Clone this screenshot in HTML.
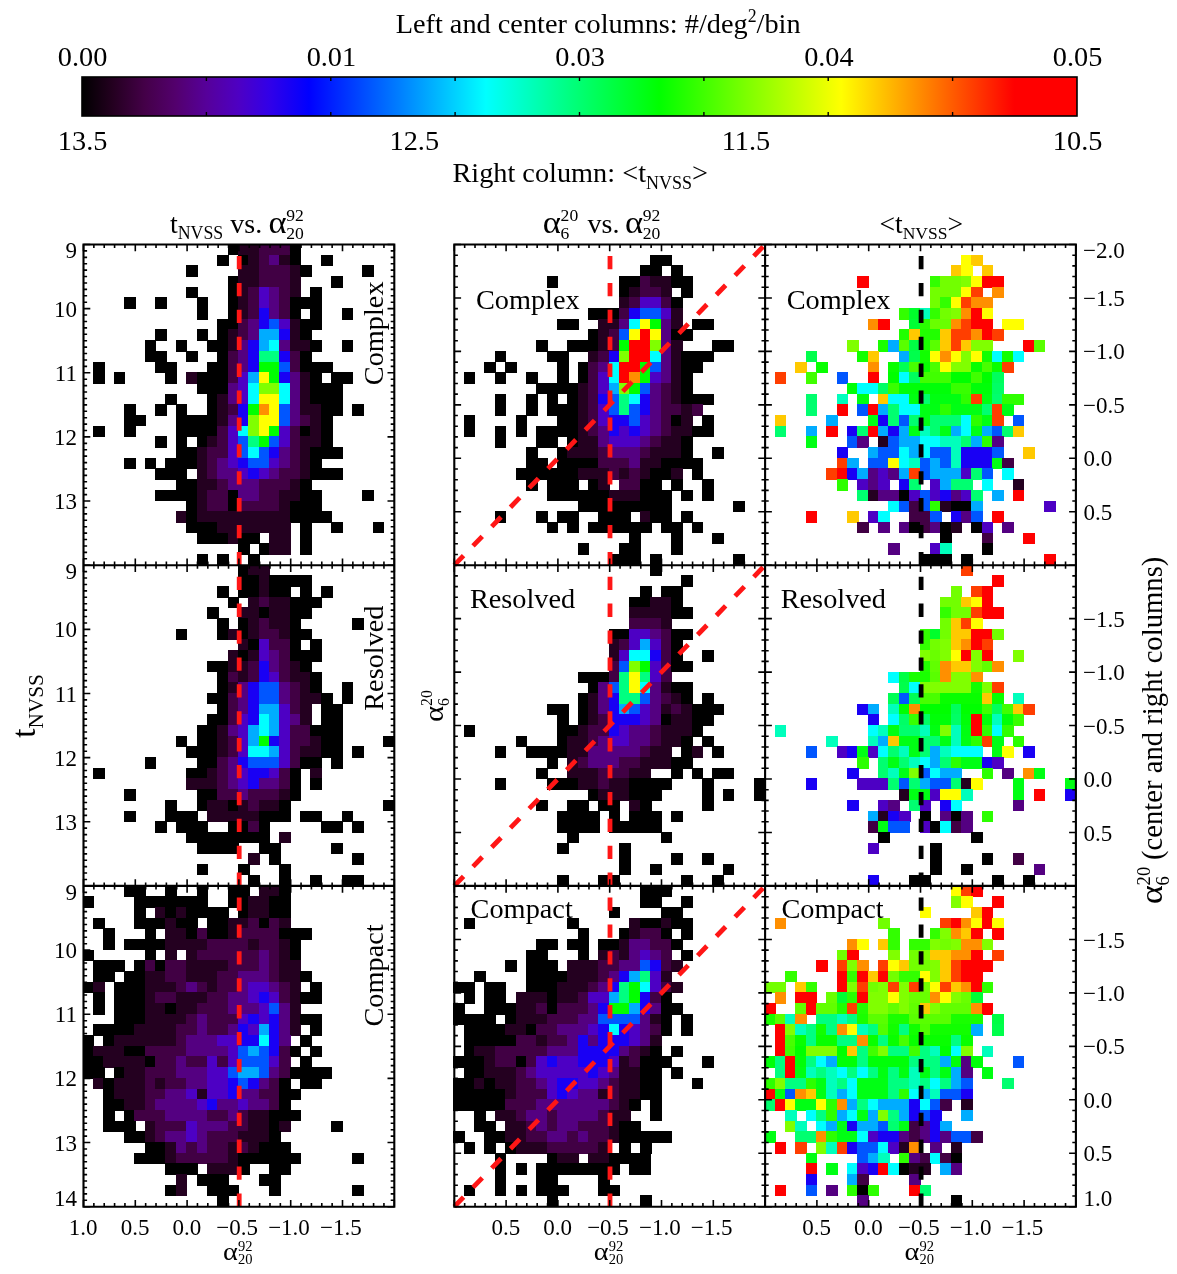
<!DOCTYPE html><html><head><meta charset="utf-8"><title>fig</title><style>html,body{margin:0;padding:0;background:#fff}svg{display:block}</style></head><body><svg width="1177" height="1274" viewBox="0 0 1177 1274" font-family="'Liberation Serif', serif" fill="#000">
<rect width="100%" height="100%" fill="#fff"/>
<defs><linearGradient id="cb" x1="0" x2="1" y1="0" y2="0">
<stop offset="0.0" stop-color="#000000"/>
<stop offset="0.031" stop-color="#240020"/>
<stop offset="0.063" stop-color="#440048"/>
<stop offset="0.094" stop-color="#53006d"/>
<stop offset="0.125" stop-color="#56009a"/>
<stop offset="0.157" stop-color="#4e00c3"/>
<stop offset="0.188" stop-color="#3200e8"/>
<stop offset="0.228" stop-color="#0000ff"/>
<stop offset="0.32" stop-color="#0080ff"/>
<stop offset="0.406" stop-color="#00ffff"/>
<stop offset="0.49" stop-color="#00ff80"/>
<stop offset="0.58" stop-color="#00ff00"/>
<stop offset="0.67" stop-color="#80ff00"/>
<stop offset="0.763" stop-color="#ffff00"/>
<stop offset="0.85" stop-color="#ff8000"/>
<stop offset="0.937" stop-color="#ff0000"/>
<stop offset="1.0" stop-color="#ff0000"/>
</linearGradient></defs>
<rect x="82" y="77" width="995" height="39" fill="url(#cb)" stroke="#000" stroke-width="1.6"/>
<path d="M206.4 77v4M206.4 116v-4" stroke="#000" stroke-width="1.4"/>
<path d="M330.8 77v4M330.8 116v-4" stroke="#000" stroke-width="1.4"/>
<path d="M455.1 77v4M455.1 116v-4" stroke="#000" stroke-width="1.4"/>
<path d="M579.5 77v4M579.5 116v-4" stroke="#000" stroke-width="1.4"/>
<path d="M703.9 77v4M703.9 116v-4" stroke="#000" stroke-width="1.4"/>
<path d="M828.2 77v4M828.2 116v-4" stroke="#000" stroke-width="1.4"/>
<path d="M952.6 77v4M952.6 116v-4" stroke="#000" stroke-width="1.4"/>
<g shape-rendering="crispEdges"><rect x="227.5" y="243.9" width="11.7" height="11.5" fill="#000000"/><rect x="237.9" y="243.9" width="22.0" height="11.5" fill="#240020"/><rect x="258.6" y="243.9" width="32.4" height="11.5" fill="#410044"/><rect x="289.7" y="243.9" width="11.7" height="11.5" fill="#000000"/><rect x="217.2" y="254.6" width="11.7" height="11.5" fill="#000000"/><rect x="237.9" y="254.6" width="11.7" height="11.5" fill="#000000"/><rect x="248.3" y="254.6" width="11.7" height="11.5" fill="#240020"/><rect x="258.6" y="254.6" width="11.7" height="11.5" fill="#410044"/><rect x="269.0" y="254.6" width="11.7" height="11.5" fill="#540081"/><rect x="279.3" y="254.6" width="11.7" height="11.5" fill="#240020"/><rect x="289.7" y="254.6" width="11.7" height="11.5" fill="#000000"/><rect x="320.8" y="254.6" width="11.7" height="11.5" fill="#000000"/><rect x="186.1" y="265.3" width="11.7" height="11.5" fill="#000000"/><rect x="237.9" y="265.3" width="22.0" height="11.5" fill="#240020"/><rect x="258.6" y="265.3" width="32.4" height="11.5" fill="#410044"/><rect x="289.7" y="265.3" width="11.7" height="11.5" fill="#240020"/><rect x="300.1" y="265.3" width="11.7" height="11.5" fill="#000000"/><rect x="362.2" y="265.3" width="11.7" height="11.5" fill="#000000"/><rect x="227.5" y="276.0" width="11.7" height="11.5" fill="#000000"/><rect x="237.9" y="276.0" width="22.0" height="11.5" fill="#240020"/><rect x="258.6" y="276.0" width="32.4" height="11.5" fill="#410044"/><rect x="289.7" y="276.0" width="11.7" height="11.5" fill="#240020"/><rect x="331.1" y="276.0" width="11.7" height="11.5" fill="#000000"/><rect x="186.1" y="286.7" width="11.7" height="11.5" fill="#000000"/><rect x="227.5" y="286.7" width="11.7" height="11.5" fill="#000000"/><rect x="237.9" y="286.7" width="11.7" height="11.5" fill="#240020"/><rect x="248.3" y="286.7" width="11.7" height="11.5" fill="#410044"/><rect x="258.6" y="286.7" width="11.7" height="11.5" fill="#4d00c4"/><rect x="269.0" y="286.7" width="11.7" height="11.5" fill="#540081"/><rect x="279.3" y="286.7" width="11.7" height="11.5" fill="#410044"/><rect x="289.7" y="286.7" width="11.7" height="11.5" fill="#240020"/><rect x="310.4" y="286.7" width="11.7" height="11.5" fill="#000000"/><rect x="123.9" y="297.3" width="11.7" height="11.5" fill="#000000"/><rect x="155.0" y="297.3" width="11.7" height="11.5" fill="#000000"/><rect x="196.5" y="297.3" width="11.7" height="11.5" fill="#000000"/><rect x="227.5" y="297.3" width="11.7" height="11.5" fill="#000000"/><rect x="237.9" y="297.3" width="11.7" height="11.5" fill="#240020"/><rect x="248.3" y="297.3" width="11.7" height="11.5" fill="#410044"/><rect x="258.6" y="297.3" width="11.7" height="11.5" fill="#4d00c4"/><rect x="269.0" y="297.3" width="11.7" height="11.5" fill="#540081"/><rect x="279.3" y="297.3" width="11.7" height="11.5" fill="#410044"/><rect x="289.7" y="297.3" width="32.4" height="11.5" fill="#000000"/><rect x="196.5" y="308.0" width="11.7" height="11.5" fill="#000000"/><rect x="227.5" y="308.0" width="11.7" height="11.5" fill="#000000"/><rect x="237.9" y="308.0" width="11.7" height="11.5" fill="#240020"/><rect x="248.3" y="308.0" width="11.7" height="11.5" fill="#410044"/><rect x="258.6" y="308.0" width="11.7" height="11.5" fill="#1900f4"/><rect x="269.0" y="308.0" width="11.7" height="11.5" fill="#540081"/><rect x="279.3" y="308.0" width="11.7" height="11.5" fill="#410044"/><rect x="289.7" y="308.0" width="11.7" height="11.5" fill="#000000"/><rect x="310.4" y="308.0" width="11.7" height="11.5" fill="#000000"/><rect x="341.5" y="308.0" width="11.7" height="11.5" fill="#000000"/><rect x="217.2" y="318.7" width="22.0" height="11.5" fill="#000000"/><rect x="237.9" y="318.7" width="11.7" height="11.5" fill="#410044"/><rect x="248.3" y="318.7" width="11.7" height="11.5" fill="#540081"/><rect x="258.6" y="318.7" width="11.7" height="11.5" fill="#1900f4"/><rect x="269.0" y="318.7" width="11.7" height="11.5" fill="#0056ff"/><rect x="279.3" y="318.7" width="11.7" height="11.5" fill="#4d00c4"/><rect x="289.7" y="318.7" width="11.7" height="11.5" fill="#240020"/><rect x="300.1" y="318.7" width="22.0" height="11.5" fill="#000000"/><rect x="155.0" y="329.4" width="11.7" height="11.5" fill="#000000"/><rect x="196.5" y="329.4" width="11.7" height="11.5" fill="#000000"/><rect x="217.2" y="329.4" width="11.7" height="11.5" fill="#000000"/><rect x="227.5" y="329.4" width="11.7" height="11.5" fill="#240020"/><rect x="237.9" y="329.4" width="11.7" height="11.5" fill="#410044"/><rect x="248.3" y="329.4" width="11.7" height="11.5" fill="#540081"/><rect x="258.6" y="329.4" width="22.0" height="11.5" fill="#00acff"/><rect x="279.3" y="329.4" width="11.7" height="11.5" fill="#1900f4"/><rect x="289.7" y="329.4" width="11.7" height="11.5" fill="#240020"/><rect x="300.1" y="329.4" width="11.7" height="11.5" fill="#000000"/><rect x="144.7" y="340.1" width="11.7" height="11.5" fill="#000000"/><rect x="175.7" y="340.1" width="11.7" height="11.5" fill="#000000"/><rect x="206.8" y="340.1" width="22.0" height="11.5" fill="#000000"/><rect x="227.5" y="340.1" width="11.7" height="11.5" fill="#240020"/><rect x="237.9" y="340.1" width="11.7" height="11.5" fill="#540081"/><rect x="248.3" y="340.1" width="11.7" height="11.5" fill="#1900f4"/><rect x="258.6" y="340.1" width="11.7" height="11.5" fill="#00acff"/><rect x="269.0" y="340.1" width="11.7" height="11.5" fill="#00ffff"/><rect x="279.3" y="340.1" width="11.7" height="11.5" fill="#540081"/><rect x="289.7" y="340.1" width="22.0" height="11.5" fill="#240020"/><rect x="310.4" y="340.1" width="11.7" height="11.5" fill="#000000"/><rect x="341.5" y="340.1" width="11.7" height="11.5" fill="#000000"/><rect x="144.7" y="350.8" width="22.0" height="11.5" fill="#000000"/><rect x="186.1" y="350.8" width="11.7" height="11.5" fill="#000000"/><rect x="217.2" y="350.8" width="11.7" height="11.5" fill="#000000"/><rect x="227.5" y="350.8" width="11.7" height="11.5" fill="#410044"/><rect x="237.9" y="350.8" width="11.7" height="11.5" fill="#540081"/><rect x="248.3" y="350.8" width="11.7" height="11.5" fill="#1900f4"/><rect x="258.6" y="350.8" width="22.0" height="11.5" fill="#00ff80"/><rect x="279.3" y="350.8" width="11.7" height="11.5" fill="#1900f4"/><rect x="289.7" y="350.8" width="11.7" height="11.5" fill="#410044"/><rect x="300.1" y="350.8" width="11.7" height="11.5" fill="#000000"/><rect x="92.9" y="361.5" width="11.7" height="11.5" fill="#000000"/><rect x="155.0" y="361.5" width="22.0" height="11.5" fill="#000000"/><rect x="206.8" y="361.5" width="22.0" height="11.5" fill="#000000"/><rect x="227.5" y="361.5" width="11.7" height="11.5" fill="#410044"/><rect x="237.9" y="361.5" width="11.7" height="11.5" fill="#540081"/><rect x="248.3" y="361.5" width="11.7" height="11.5" fill="#1900f4"/><rect x="258.6" y="361.5" width="22.0" height="11.5" fill="#00ff00"/><rect x="279.3" y="361.5" width="11.7" height="11.5" fill="#0056ff"/><rect x="289.7" y="361.5" width="11.7" height="11.5" fill="#410044"/><rect x="300.1" y="361.5" width="32.4" height="11.5" fill="#000000"/><rect x="92.9" y="372.2" width="11.7" height="11.5" fill="#000000"/><rect x="113.6" y="372.2" width="11.7" height="11.5" fill="#000000"/><rect x="165.4" y="372.2" width="11.7" height="11.5" fill="#000000"/><rect x="186.1" y="372.2" width="11.7" height="11.5" fill="#240020"/><rect x="196.5" y="372.2" width="32.4" height="11.5" fill="#000000"/><rect x="227.5" y="372.2" width="11.7" height="11.5" fill="#410044"/><rect x="237.9" y="372.2" width="11.7" height="11.5" fill="#4d00c4"/><rect x="248.3" y="372.2" width="11.7" height="11.5" fill="#00acff"/><rect x="258.6" y="372.2" width="11.7" height="11.5" fill="#ffff00"/><rect x="269.0" y="372.2" width="11.7" height="11.5" fill="#00ff00"/><rect x="279.3" y="372.2" width="11.7" height="11.5" fill="#1900f4"/><rect x="289.7" y="372.2" width="11.7" height="11.5" fill="#540081"/><rect x="300.1" y="372.2" width="11.7" height="11.5" fill="#240020"/><rect x="310.4" y="372.2" width="11.7" height="11.5" fill="#000000"/><rect x="331.1" y="372.2" width="22.0" height="11.5" fill="#000000"/><rect x="196.5" y="382.9" width="32.4" height="11.5" fill="#000000"/><rect x="227.5" y="382.9" width="11.7" height="11.5" fill="#540081"/><rect x="237.9" y="382.9" width="11.7" height="11.5" fill="#4d00c4"/><rect x="248.3" y="382.9" width="11.7" height="11.5" fill="#00ffff"/><rect x="258.6" y="382.9" width="22.0" height="11.5" fill="#80ff00"/><rect x="279.3" y="382.9" width="11.7" height="11.5" fill="#00ffff"/><rect x="289.7" y="382.9" width="11.7" height="11.5" fill="#540081"/><rect x="300.1" y="382.9" width="11.7" height="11.5" fill="#240020"/><rect x="310.4" y="382.9" width="32.4" height="11.5" fill="#000000"/><rect x="165.4" y="393.6" width="11.7" height="11.5" fill="#000000"/><rect x="206.8" y="393.6" width="11.7" height="11.5" fill="#000000"/><rect x="217.2" y="393.6" width="11.7" height="11.5" fill="#240020"/><rect x="227.5" y="393.6" width="11.7" height="11.5" fill="#540081"/><rect x="237.9" y="393.6" width="11.7" height="11.5" fill="#4d00c4"/><rect x="248.3" y="393.6" width="11.7" height="11.5" fill="#00ffff"/><rect x="258.6" y="393.6" width="22.0" height="11.5" fill="#ffff00"/><rect x="279.3" y="393.6" width="11.7" height="11.5" fill="#00ffff"/><rect x="289.7" y="393.6" width="11.7" height="11.5" fill="#540081"/><rect x="300.1" y="393.6" width="11.7" height="11.5" fill="#240020"/><rect x="310.4" y="393.6" width="32.4" height="11.5" fill="#000000"/><rect x="123.9" y="404.2" width="11.7" height="11.5" fill="#000000"/><rect x="155.0" y="404.2" width="11.7" height="11.5" fill="#000000"/><rect x="175.7" y="404.2" width="11.7" height="11.5" fill="#000000"/><rect x="206.8" y="404.2" width="11.7" height="11.5" fill="#000000"/><rect x="217.2" y="404.2" width="11.7" height="11.5" fill="#240020"/><rect x="227.5" y="404.2" width="11.7" height="11.5" fill="#410044"/><rect x="237.9" y="404.2" width="11.7" height="11.5" fill="#1900f4"/><rect x="248.3" y="404.2" width="11.7" height="11.5" fill="#00ff00"/><rect x="258.6" y="404.2" width="11.7" height="11.5" fill="#ff8f00"/><rect x="269.0" y="404.2" width="11.7" height="11.5" fill="#ffff00"/><rect x="279.3" y="404.2" width="11.7" height="11.5" fill="#0056ff"/><rect x="289.7" y="404.2" width="11.7" height="11.5" fill="#540081"/><rect x="300.1" y="404.2" width="22.0" height="11.5" fill="#240020"/><rect x="320.8" y="404.2" width="22.0" height="11.5" fill="#000000"/><rect x="351.9" y="404.2" width="11.7" height="11.5" fill="#000000"/><rect x="123.9" y="414.9" width="22.0" height="11.5" fill="#000000"/><rect x="175.7" y="414.9" width="42.7" height="11.5" fill="#000000"/><rect x="217.2" y="414.9" width="11.7" height="11.5" fill="#240020"/><rect x="227.5" y="414.9" width="11.7" height="11.5" fill="#540081"/><rect x="237.9" y="414.9" width="11.7" height="11.5" fill="#1900f4"/><rect x="248.3" y="414.9" width="11.7" height="11.5" fill="#80ff00"/><rect x="258.6" y="414.9" width="22.0" height="11.5" fill="#ffff00"/><rect x="279.3" y="414.9" width="11.7" height="11.5" fill="#0056ff"/><rect x="289.7" y="414.9" width="11.7" height="11.5" fill="#540081"/><rect x="300.1" y="414.9" width="11.7" height="11.5" fill="#410044"/><rect x="310.4" y="414.9" width="11.7" height="11.5" fill="#240020"/><rect x="320.8" y="414.9" width="11.7" height="11.5" fill="#000000"/><rect x="92.9" y="425.6" width="11.7" height="11.5" fill="#000000"/><rect x="123.9" y="425.6" width="11.7" height="11.5" fill="#000000"/><rect x="175.7" y="425.6" width="42.7" height="11.5" fill="#000000"/><rect x="217.2" y="425.6" width="11.7" height="11.5" fill="#410044"/><rect x="227.5" y="425.6" width="11.7" height="11.5" fill="#4d00c4"/><rect x="237.9" y="425.6" width="11.7" height="11.5" fill="#00ffff"/><rect x="248.3" y="425.6" width="11.7" height="11.5" fill="#80ff00"/><rect x="258.6" y="425.6" width="11.7" height="11.5" fill="#ffff00"/><rect x="269.0" y="425.6" width="11.7" height="11.5" fill="#00ff00"/><rect x="279.3" y="425.6" width="11.7" height="11.5" fill="#4d00c4"/><rect x="289.7" y="425.6" width="11.7" height="11.5" fill="#410044"/><rect x="300.1" y="425.6" width="11.7" height="11.5" fill="#000000"/><rect x="310.4" y="425.6" width="11.7" height="11.5" fill="#240020"/><rect x="320.8" y="425.6" width="11.7" height="11.5" fill="#000000"/><rect x="155.0" y="436.3" width="11.7" height="11.5" fill="#000000"/><rect x="175.7" y="436.3" width="11.7" height="11.5" fill="#000000"/><rect x="196.5" y="436.3" width="11.7" height="11.5" fill="#000000"/><rect x="206.8" y="436.3" width="11.7" height="11.5" fill="#240020"/><rect x="217.2" y="436.3" width="11.7" height="11.5" fill="#410044"/><rect x="227.5" y="436.3" width="11.7" height="11.5" fill="#4d00c4"/><rect x="237.9" y="436.3" width="11.7" height="11.5" fill="#0056ff"/><rect x="248.3" y="436.3" width="11.7" height="11.5" fill="#00ff80"/><rect x="258.6" y="436.3" width="11.7" height="11.5" fill="#00ff00"/><rect x="269.0" y="436.3" width="11.7" height="11.5" fill="#0056ff"/><rect x="279.3" y="436.3" width="11.7" height="11.5" fill="#4d00c4"/><rect x="289.7" y="436.3" width="11.7" height="11.5" fill="#410044"/><rect x="300.1" y="436.3" width="22.0" height="11.5" fill="#240020"/><rect x="320.8" y="436.3" width="11.7" height="11.5" fill="#000000"/><rect x="175.7" y="447.0" width="22.0" height="11.5" fill="#000000"/><rect x="196.5" y="447.0" width="11.7" height="11.5" fill="#240020"/><rect x="206.8" y="447.0" width="22.0" height="11.5" fill="#410044"/><rect x="227.5" y="447.0" width="11.7" height="11.5" fill="#4d00c4"/><rect x="237.9" y="447.0" width="11.7" height="11.5" fill="#0056ff"/><rect x="248.3" y="447.0" width="11.7" height="11.5" fill="#00ffff"/><rect x="258.6" y="447.0" width="11.7" height="11.5" fill="#0056ff"/><rect x="269.0" y="447.0" width="11.7" height="11.5" fill="#1900f4"/><rect x="279.3" y="447.0" width="11.7" height="11.5" fill="#540081"/><rect x="289.7" y="447.0" width="11.7" height="11.5" fill="#410044"/><rect x="300.1" y="447.0" width="11.7" height="11.5" fill="#240020"/><rect x="310.4" y="447.0" width="32.4" height="11.5" fill="#000000"/><rect x="123.9" y="457.7" width="11.7" height="11.5" fill="#000000"/><rect x="144.7" y="457.7" width="11.7" height="11.5" fill="#000000"/><rect x="165.4" y="457.7" width="32.4" height="11.5" fill="#000000"/><rect x="196.5" y="457.7" width="11.7" height="11.5" fill="#240020"/><rect x="206.8" y="457.7" width="11.7" height="11.5" fill="#410044"/><rect x="217.2" y="457.7" width="11.7" height="11.5" fill="#540081"/><rect x="227.5" y="457.7" width="11.7" height="11.5" fill="#4d00c4"/><rect x="237.9" y="457.7" width="11.7" height="11.5" fill="#1900f4"/><rect x="248.3" y="457.7" width="22.0" height="11.5" fill="#0056ff"/><rect x="269.0" y="457.7" width="11.7" height="11.5" fill="#4d00c4"/><rect x="279.3" y="457.7" width="11.7" height="11.5" fill="#540081"/><rect x="289.7" y="457.7" width="11.7" height="11.5" fill="#410044"/><rect x="300.1" y="457.7" width="11.7" height="11.5" fill="#240020"/><rect x="310.4" y="457.7" width="11.7" height="11.5" fill="#000000"/><rect x="155.0" y="468.4" width="32.4" height="11.5" fill="#000000"/><rect x="196.5" y="468.4" width="11.7" height="11.5" fill="#240020"/><rect x="206.8" y="468.4" width="11.7" height="11.5" fill="#410044"/><rect x="217.2" y="468.4" width="22.0" height="11.5" fill="#540081"/><rect x="237.9" y="468.4" width="11.7" height="11.5" fill="#4d00c4"/><rect x="248.3" y="468.4" width="11.7" height="11.5" fill="#1900f4"/><rect x="258.6" y="468.4" width="11.7" height="11.5" fill="#4d00c4"/><rect x="269.0" y="468.4" width="11.7" height="11.5" fill="#540081"/><rect x="279.3" y="468.4" width="22.0" height="11.5" fill="#410044"/><rect x="300.1" y="468.4" width="11.7" height="11.5" fill="#240020"/><rect x="310.4" y="468.4" width="32.4" height="11.5" fill="#000000"/><rect x="175.7" y="479.1" width="22.0" height="11.5" fill="#000000"/><rect x="196.5" y="479.1" width="22.0" height="11.5" fill="#240020"/><rect x="217.2" y="479.1" width="11.7" height="11.5" fill="#410044"/><rect x="227.5" y="479.1" width="32.4" height="11.5" fill="#540081"/><rect x="258.6" y="479.1" width="32.4" height="11.5" fill="#410044"/><rect x="289.7" y="479.1" width="11.7" height="11.5" fill="#240020"/><rect x="300.1" y="479.1" width="11.7" height="11.5" fill="#000000"/><rect x="155.0" y="489.8" width="42.7" height="11.5" fill="#000000"/><rect x="196.5" y="489.8" width="11.7" height="11.5" fill="#240020"/><rect x="206.8" y="489.8" width="22.0" height="11.5" fill="#410044"/><rect x="227.5" y="489.8" width="11.7" height="11.5" fill="#000000"/><rect x="237.9" y="489.8" width="22.0" height="11.5" fill="#540081"/><rect x="258.6" y="489.8" width="22.0" height="11.5" fill="#410044"/><rect x="279.3" y="489.8" width="22.0" height="11.5" fill="#240020"/><rect x="300.1" y="489.8" width="22.0" height="11.5" fill="#000000"/><rect x="362.2" y="489.8" width="11.7" height="11.5" fill="#000000"/><rect x="186.1" y="500.5" width="11.7" height="11.5" fill="#000000"/><rect x="196.5" y="500.5" width="11.7" height="11.5" fill="#240020"/><rect x="206.8" y="500.5" width="22.0" height="11.5" fill="#410044"/><rect x="227.5" y="500.5" width="11.7" height="11.5" fill="#000000"/><rect x="237.9" y="500.5" width="42.7" height="11.5" fill="#410044"/><rect x="279.3" y="500.5" width="11.7" height="11.5" fill="#240020"/><rect x="289.7" y="500.5" width="32.4" height="11.5" fill="#000000"/><rect x="175.7" y="511.1" width="11.7" height="11.5" fill="#240020"/><rect x="186.1" y="511.1" width="11.7" height="11.5" fill="#000000"/><rect x="196.5" y="511.1" width="94.5" height="11.5" fill="#240020"/><rect x="289.7" y="511.1" width="42.7" height="11.5" fill="#000000"/><rect x="186.1" y="521.8" width="32.4" height="11.5" fill="#000000"/><rect x="217.2" y="521.8" width="73.8" height="11.5" fill="#240020"/><rect x="300.1" y="521.8" width="11.7" height="11.5" fill="#000000"/><rect x="331.1" y="521.8" width="11.7" height="11.5" fill="#000000"/><rect x="372.6" y="521.8" width="11.7" height="11.5" fill="#000000"/><rect x="196.5" y="532.5" width="32.4" height="11.5" fill="#000000"/><rect x="227.5" y="532.5" width="11.7" height="11.5" fill="#240020"/><rect x="237.9" y="532.5" width="22.0" height="11.5" fill="#000000"/><rect x="269.0" y="532.5" width="22.0" height="11.5" fill="#240020"/><rect x="300.1" y="532.5" width="11.7" height="11.5" fill="#000000"/><rect x="237.9" y="543.2" width="11.7" height="11.5" fill="#000000"/><rect x="258.6" y="543.2" width="11.7" height="11.5" fill="#000000"/><rect x="269.0" y="543.2" width="22.0" height="11.5" fill="#240020"/><rect x="300.1" y="543.2" width="11.7" height="11.5" fill="#000000"/><rect x="196.5" y="553.9" width="11.7" height="11.5" fill="#000000"/><rect x="217.2" y="553.9" width="11.7" height="11.5" fill="#000000"/><rect x="248.3" y="553.9" width="11.7" height="11.5" fill="#000000"/></g>
<g shape-rendering="crispEdges"><rect x="650.1" y="254.6" width="22.0" height="11.5" fill="#000000"/><rect x="639.8" y="265.3" width="22.0" height="11.5" fill="#000000"/><rect x="670.9" y="265.3" width="11.7" height="11.5" fill="#000000"/><rect x="546.5" y="276.0" width="11.7" height="11.5" fill="#000000"/><rect x="619.1" y="276.0" width="22.0" height="11.5" fill="#000000"/><rect x="639.8" y="276.0" width="11.7" height="11.5" fill="#410044"/><rect x="650.1" y="276.0" width="22.0" height="11.5" fill="#240020"/><rect x="670.9" y="276.0" width="22.0" height="11.5" fill="#000000"/><rect x="619.1" y="286.7" width="11.7" height="11.5" fill="#000000"/><rect x="629.4" y="286.7" width="11.7" height="11.5" fill="#240020"/><rect x="639.8" y="286.7" width="22.0" height="11.5" fill="#410044"/><rect x="660.5" y="286.7" width="11.7" height="11.5" fill="#240020"/><rect x="681.2" y="286.7" width="11.7" height="11.5" fill="#000000"/><rect x="619.1" y="297.3" width="11.7" height="11.5" fill="#240020"/><rect x="629.4" y="297.3" width="11.7" height="11.5" fill="#410044"/><rect x="639.8" y="297.3" width="22.0" height="11.5" fill="#4d00c4"/><rect x="660.5" y="297.3" width="11.7" height="11.5" fill="#410044"/><rect x="670.9" y="297.3" width="11.7" height="11.5" fill="#000000"/><rect x="588.0" y="308.0" width="32.4" height="11.5" fill="#000000"/><rect x="619.1" y="308.0" width="11.7" height="11.5" fill="#410044"/><rect x="629.4" y="308.0" width="11.7" height="11.5" fill="#1900f4"/><rect x="639.8" y="308.0" width="22.0" height="11.5" fill="#0056ff"/><rect x="660.5" y="308.0" width="11.7" height="11.5" fill="#4d00c4"/><rect x="670.9" y="308.0" width="11.7" height="11.5" fill="#240020"/><rect x="556.9" y="318.7" width="22.0" height="11.5" fill="#000000"/><rect x="598.3" y="318.7" width="22.0" height="11.5" fill="#240020"/><rect x="619.1" y="318.7" width="11.7" height="11.5" fill="#540081"/><rect x="629.4" y="318.7" width="11.7" height="11.5" fill="#00ffff"/><rect x="639.8" y="318.7" width="11.7" height="11.5" fill="#ffff00"/><rect x="650.1" y="318.7" width="11.7" height="11.5" fill="#00ff00"/><rect x="660.5" y="318.7" width="11.7" height="11.5" fill="#540081"/><rect x="670.9" y="318.7" width="11.7" height="11.5" fill="#240020"/><rect x="691.6" y="318.7" width="22.0" height="11.5" fill="#000000"/><rect x="588.0" y="329.4" width="11.7" height="11.5" fill="#000000"/><rect x="598.3" y="329.4" width="11.7" height="11.5" fill="#240020"/><rect x="608.7" y="329.4" width="11.7" height="11.5" fill="#410044"/><rect x="619.1" y="329.4" width="11.7" height="11.5" fill="#0056ff"/><rect x="629.4" y="329.4" width="11.7" height="11.5" fill="#ffff00"/><rect x="639.8" y="329.4" width="11.7" height="11.5" fill="#ff0000"/><rect x="650.1" y="329.4" width="11.7" height="11.5" fill="#ffff00"/><rect x="660.5" y="329.4" width="11.7" height="11.5" fill="#540081"/><rect x="670.9" y="329.4" width="22.0" height="11.5" fill="#000000"/><rect x="536.2" y="340.1" width="11.7" height="11.5" fill="#000000"/><rect x="567.3" y="340.1" width="32.4" height="11.5" fill="#000000"/><rect x="598.3" y="340.1" width="11.7" height="11.5" fill="#240020"/><rect x="608.7" y="340.1" width="11.7" height="11.5" fill="#410044"/><rect x="619.1" y="340.1" width="11.7" height="11.5" fill="#00ff00"/><rect x="629.4" y="340.1" width="22.0" height="11.5" fill="#ff0000"/><rect x="650.1" y="340.1" width="11.7" height="11.5" fill="#80ff00"/><rect x="660.5" y="340.1" width="11.7" height="11.5" fill="#540081"/><rect x="670.9" y="340.1" width="11.7" height="11.5" fill="#240020"/><rect x="712.3" y="340.1" width="22.0" height="11.5" fill="#000000"/><rect x="494.7" y="350.8" width="11.7" height="11.5" fill="#000000"/><rect x="546.5" y="350.8" width="22.0" height="11.5" fill="#000000"/><rect x="588.0" y="350.8" width="11.7" height="11.5" fill="#240020"/><rect x="598.3" y="350.8" width="11.7" height="11.5" fill="#410044"/><rect x="608.7" y="350.8" width="11.7" height="11.5" fill="#1900f4"/><rect x="619.1" y="350.8" width="11.7" height="11.5" fill="#80ff00"/><rect x="629.4" y="350.8" width="22.0" height="11.5" fill="#ff0000"/><rect x="650.1" y="350.8" width="11.7" height="11.5" fill="#00ffff"/><rect x="660.5" y="350.8" width="11.7" height="11.5" fill="#540081"/><rect x="670.9" y="350.8" width="11.7" height="11.5" fill="#240020"/><rect x="681.2" y="350.8" width="32.4" height="11.5" fill="#000000"/><rect x="484.4" y="361.5" width="11.7" height="11.5" fill="#000000"/><rect x="505.1" y="361.5" width="11.7" height="11.5" fill="#000000"/><rect x="556.9" y="361.5" width="11.7" height="11.5" fill="#000000"/><rect x="577.6" y="361.5" width="11.7" height="11.5" fill="#000000"/><rect x="588.0" y="361.5" width="11.7" height="11.5" fill="#410044"/><rect x="598.3" y="361.5" width="11.7" height="11.5" fill="#540081"/><rect x="608.7" y="361.5" width="11.7" height="11.5" fill="#00ffff"/><rect x="619.1" y="361.5" width="22.0" height="11.5" fill="#ff0000"/><rect x="639.8" y="361.5" width="11.7" height="11.5" fill="#00ff00"/><rect x="650.1" y="361.5" width="11.7" height="11.5" fill="#0056ff"/><rect x="660.5" y="361.5" width="11.7" height="11.5" fill="#540081"/><rect x="670.9" y="361.5" width="11.7" height="11.5" fill="#240020"/><rect x="681.2" y="361.5" width="22.0" height="11.5" fill="#000000"/><rect x="463.7" y="372.2" width="11.7" height="11.5" fill="#000000"/><rect x="494.7" y="372.2" width="11.7" height="11.5" fill="#000000"/><rect x="525.8" y="372.2" width="11.7" height="11.5" fill="#000000"/><rect x="556.9" y="372.2" width="11.7" height="11.5" fill="#000000"/><rect x="577.6" y="372.2" width="11.7" height="11.5" fill="#000000"/><rect x="588.0" y="372.2" width="11.7" height="11.5" fill="#410044"/><rect x="598.3" y="372.2" width="11.7" height="11.5" fill="#4d00c4"/><rect x="608.7" y="372.2" width="11.7" height="11.5" fill="#00ffff"/><rect x="619.1" y="372.2" width="11.7" height="11.5" fill="#ff0000"/><rect x="629.4" y="372.2" width="11.7" height="11.5" fill="#ff8f00"/><rect x="639.8" y="372.2" width="11.7" height="11.5" fill="#00ff00"/><rect x="650.1" y="372.2" width="11.7" height="11.5" fill="#4d00c4"/><rect x="660.5" y="372.2" width="11.7" height="11.5" fill="#540081"/><rect x="670.9" y="372.2" width="11.7" height="11.5" fill="#240020"/><rect x="681.2" y="372.2" width="11.7" height="11.5" fill="#000000"/><rect x="536.2" y="382.9" width="42.7" height="11.5" fill="#000000"/><rect x="577.6" y="382.9" width="11.7" height="11.5" fill="#240020"/><rect x="588.0" y="382.9" width="11.7" height="11.5" fill="#410044"/><rect x="598.3" y="382.9" width="11.7" height="11.5" fill="#4d00c4"/><rect x="608.7" y="382.9" width="11.7" height="11.5" fill="#00acff"/><rect x="619.1" y="382.9" width="11.7" height="11.5" fill="#80ff00"/><rect x="629.4" y="382.9" width="11.7" height="11.5" fill="#00ff00"/><rect x="639.8" y="382.9" width="11.7" height="11.5" fill="#0056ff"/><rect x="650.1" y="382.9" width="11.7" height="11.5" fill="#540081"/><rect x="660.5" y="382.9" width="11.7" height="11.5" fill="#410044"/><rect x="670.9" y="382.9" width="11.7" height="11.5" fill="#240020"/><rect x="681.2" y="382.9" width="11.7" height="11.5" fill="#000000"/><rect x="494.7" y="393.6" width="11.7" height="11.5" fill="#000000"/><rect x="525.8" y="393.6" width="11.7" height="11.5" fill="#000000"/><rect x="546.5" y="393.6" width="11.7" height="11.5" fill="#000000"/><rect x="567.3" y="393.6" width="11.7" height="11.5" fill="#000000"/><rect x="577.6" y="393.6" width="11.7" height="11.5" fill="#240020"/><rect x="588.0" y="393.6" width="11.7" height="11.5" fill="#410044"/><rect x="598.3" y="393.6" width="11.7" height="11.5" fill="#1900f4"/><rect x="608.7" y="393.6" width="11.7" height="11.5" fill="#0056ff"/><rect x="619.1" y="393.6" width="11.7" height="11.5" fill="#00ff80"/><rect x="629.4" y="393.6" width="11.7" height="11.5" fill="#00ffff"/><rect x="639.8" y="393.6" width="11.7" height="11.5" fill="#1900f4"/><rect x="650.1" y="393.6" width="11.7" height="11.5" fill="#540081"/><rect x="660.5" y="393.6" width="11.7" height="11.5" fill="#410044"/><rect x="670.9" y="393.6" width="11.7" height="11.5" fill="#240020"/><rect x="681.2" y="393.6" width="32.4" height="11.5" fill="#000000"/><rect x="494.7" y="404.2" width="11.7" height="11.5" fill="#000000"/><rect x="525.8" y="404.2" width="11.7" height="11.5" fill="#000000"/><rect x="546.5" y="404.2" width="32.4" height="11.5" fill="#000000"/><rect x="577.6" y="404.2" width="11.7" height="11.5" fill="#240020"/><rect x="588.0" y="404.2" width="11.7" height="11.5" fill="#410044"/><rect x="598.3" y="404.2" width="11.7" height="11.5" fill="#4d00c4"/><rect x="608.7" y="404.2" width="11.7" height="11.5" fill="#0056ff"/><rect x="619.1" y="404.2" width="11.7" height="11.5" fill="#00ff80"/><rect x="629.4" y="404.2" width="11.7" height="11.5" fill="#0056ff"/><rect x="639.8" y="404.2" width="11.7" height="11.5" fill="#1900f4"/><rect x="650.1" y="404.2" width="11.7" height="11.5" fill="#540081"/><rect x="660.5" y="404.2" width="22.0" height="11.5" fill="#410044"/><rect x="681.2" y="404.2" width="11.7" height="11.5" fill="#240020"/><rect x="691.6" y="404.2" width="11.7" height="11.5" fill="#410044"/><rect x="463.7" y="414.9" width="11.7" height="11.5" fill="#000000"/><rect x="515.5" y="414.9" width="11.7" height="11.5" fill="#000000"/><rect x="556.9" y="414.9" width="22.0" height="11.5" fill="#000000"/><rect x="577.6" y="414.9" width="11.7" height="11.5" fill="#240020"/><rect x="588.0" y="414.9" width="11.7" height="11.5" fill="#410044"/><rect x="598.3" y="414.9" width="11.7" height="11.5" fill="#4d00c4"/><rect x="608.7" y="414.9" width="22.0" height="11.5" fill="#1900f4"/><rect x="629.4" y="414.9" width="11.7" height="11.5" fill="#0056ff"/><rect x="639.8" y="414.9" width="11.7" height="11.5" fill="#4d00c4"/><rect x="650.1" y="414.9" width="11.7" height="11.5" fill="#540081"/><rect x="660.5" y="414.9" width="11.7" height="11.5" fill="#410044"/><rect x="670.9" y="414.9" width="11.7" height="11.5" fill="#000000"/><rect x="681.2" y="414.9" width="11.7" height="11.5" fill="#240020"/><rect x="701.9" y="414.9" width="11.7" height="11.5" fill="#000000"/><rect x="463.7" y="425.6" width="11.7" height="11.5" fill="#000000"/><rect x="494.7" y="425.6" width="11.7" height="11.5" fill="#000000"/><rect x="515.5" y="425.6" width="11.7" height="11.5" fill="#000000"/><rect x="536.2" y="425.6" width="42.7" height="11.5" fill="#000000"/><rect x="577.6" y="425.6" width="11.7" height="11.5" fill="#240020"/><rect x="588.0" y="425.6" width="11.7" height="11.5" fill="#410044"/><rect x="598.3" y="425.6" width="11.7" height="11.5" fill="#540081"/><rect x="608.7" y="425.6" width="11.7" height="11.5" fill="#1900f4"/><rect x="619.1" y="425.6" width="11.7" height="11.5" fill="#4d00c4"/><rect x="629.4" y="425.6" width="11.7" height="11.5" fill="#1900f4"/><rect x="639.8" y="425.6" width="11.7" height="11.5" fill="#4d00c4"/><rect x="650.1" y="425.6" width="11.7" height="11.5" fill="#540081"/><rect x="660.5" y="425.6" width="11.7" height="11.5" fill="#410044"/><rect x="670.9" y="425.6" width="22.0" height="11.5" fill="#240020"/><rect x="691.6" y="425.6" width="22.0" height="11.5" fill="#000000"/><rect x="494.7" y="436.3" width="11.7" height="11.5" fill="#000000"/><rect x="536.2" y="436.3" width="22.0" height="11.5" fill="#000000"/><rect x="567.3" y="436.3" width="11.7" height="11.5" fill="#000000"/><rect x="577.6" y="436.3" width="22.0" height="11.5" fill="#240020"/><rect x="598.3" y="436.3" width="11.7" height="11.5" fill="#540081"/><rect x="608.7" y="436.3" width="32.4" height="11.5" fill="#4d00c4"/><rect x="639.8" y="436.3" width="11.7" height="11.5" fill="#540081"/><rect x="650.1" y="436.3" width="11.7" height="11.5" fill="#410044"/><rect x="660.5" y="436.3" width="22.0" height="11.5" fill="#240020"/><rect x="681.2" y="436.3" width="11.7" height="11.5" fill="#000000"/><rect x="525.8" y="447.0" width="11.7" height="11.5" fill="#000000"/><rect x="556.9" y="447.0" width="11.7" height="11.5" fill="#000000"/><rect x="567.3" y="447.0" width="32.4" height="11.5" fill="#240020"/><rect x="598.3" y="447.0" width="11.7" height="11.5" fill="#410044"/><rect x="608.7" y="447.0" width="32.4" height="11.5" fill="#540081"/><rect x="639.8" y="447.0" width="11.7" height="11.5" fill="#410044"/><rect x="650.1" y="447.0" width="32.4" height="11.5" fill="#240020"/><rect x="681.2" y="447.0" width="11.7" height="11.5" fill="#000000"/><rect x="712.3" y="447.0" width="11.7" height="11.5" fill="#000000"/><rect x="525.8" y="457.7" width="22.0" height="11.5" fill="#000000"/><rect x="556.9" y="457.7" width="42.7" height="11.5" fill="#000000"/><rect x="598.3" y="457.7" width="32.4" height="11.5" fill="#410044"/><rect x="629.4" y="457.7" width="11.7" height="11.5" fill="#540081"/><rect x="639.8" y="457.7" width="22.0" height="11.5" fill="#240020"/><rect x="660.5" y="457.7" width="42.7" height="11.5" fill="#000000"/><rect x="515.5" y="468.4" width="63.5" height="11.5" fill="#000000"/><rect x="577.6" y="468.4" width="32.4" height="11.5" fill="#240020"/><rect x="608.7" y="468.4" width="11.7" height="11.5" fill="#410044"/><rect x="619.1" y="468.4" width="11.7" height="11.5" fill="#240020"/><rect x="629.4" y="468.4" width="11.7" height="11.5" fill="#410044"/><rect x="639.8" y="468.4" width="11.7" height="11.5" fill="#240020"/><rect x="650.1" y="468.4" width="22.0" height="11.5" fill="#000000"/><rect x="670.9" y="468.4" width="11.7" height="11.5" fill="#240020"/><rect x="691.6" y="468.4" width="11.7" height="11.5" fill="#000000"/><rect x="525.8" y="479.1" width="11.7" height="11.5" fill="#000000"/><rect x="546.5" y="479.1" width="32.4" height="11.5" fill="#000000"/><rect x="588.0" y="479.1" width="11.7" height="11.5" fill="#000000"/><rect x="598.3" y="479.1" width="11.7" height="11.5" fill="#240020"/><rect x="619.1" y="479.1" width="22.0" height="11.5" fill="#410044"/><rect x="639.8" y="479.1" width="22.0" height="11.5" fill="#000000"/><rect x="670.9" y="479.1" width="11.7" height="11.5" fill="#000000"/><rect x="701.9" y="479.1" width="11.7" height="11.5" fill="#000000"/><rect x="546.5" y="489.8" width="63.5" height="11.5" fill="#000000"/><rect x="608.7" y="489.8" width="32.4" height="11.5" fill="#240020"/><rect x="639.8" y="489.8" width="32.4" height="11.5" fill="#000000"/><rect x="681.2" y="489.8" width="11.7" height="11.5" fill="#000000"/><rect x="701.9" y="489.8" width="11.7" height="11.5" fill="#000000"/><rect x="577.6" y="500.5" width="94.5" height="11.5" fill="#000000"/><rect x="733.0" y="500.5" width="11.7" height="11.5" fill="#000000"/><rect x="494.7" y="511.1" width="11.7" height="11.5" fill="#000000"/><rect x="536.2" y="511.1" width="11.7" height="11.5" fill="#000000"/><rect x="556.9" y="511.1" width="22.0" height="11.5" fill="#000000"/><rect x="598.3" y="511.1" width="32.4" height="11.5" fill="#000000"/><rect x="639.8" y="511.1" width="11.7" height="11.5" fill="#240020"/><rect x="650.1" y="511.1" width="22.0" height="11.5" fill="#000000"/><rect x="681.2" y="511.1" width="11.7" height="11.5" fill="#000000"/><rect x="546.5" y="521.8" width="11.7" height="11.5" fill="#000000"/><rect x="567.3" y="521.8" width="11.7" height="11.5" fill="#000000"/><rect x="588.0" y="521.8" width="63.5" height="11.5" fill="#000000"/><rect x="660.5" y="521.8" width="22.0" height="11.5" fill="#000000"/><rect x="691.6" y="521.8" width="11.7" height="11.5" fill="#000000"/><rect x="629.4" y="532.5" width="11.7" height="11.5" fill="#000000"/><rect x="670.9" y="532.5" width="11.7" height="11.5" fill="#000000"/><rect x="712.3" y="532.5" width="11.7" height="11.5" fill="#000000"/><rect x="577.6" y="543.2" width="11.7" height="11.5" fill="#000000"/><rect x="619.1" y="543.2" width="22.0" height="11.5" fill="#000000"/><rect x="670.9" y="543.2" width="11.7" height="11.5" fill="#000000"/><rect x="608.7" y="553.9" width="32.4" height="11.5" fill="#000000"/><rect x="650.1" y="553.9" width="11.7" height="11.5" fill="#000000"/><rect x="733.0" y="553.9" width="11.7" height="11.5" fill="#000000"/></g>
<g shape-rendering="crispEdges"><rect x="960.9" y="254.6" width="11.7" height="11.5" fill="#ffff00"/><rect x="971.3" y="254.6" width="11.7" height="11.5" fill="#ffc900"/><rect x="950.6" y="265.3" width="11.7" height="11.5" fill="#ffc900"/><rect x="960.9" y="265.3" width="11.7" height="11.5" fill="#ffff00"/><rect x="981.7" y="265.3" width="11.7" height="11.5" fill="#ffc900"/><rect x="857.3" y="276.0" width="11.7" height="11.5" fill="#ff0000"/><rect x="929.9" y="276.0" width="11.7" height="11.5" fill="#32ff00"/><rect x="940.2" y="276.0" width="22.0" height="11.5" fill="#72ff00"/><rect x="960.9" y="276.0" width="11.7" height="11.5" fill="#80ff00"/><rect x="971.3" y="276.0" width="11.7" height="11.5" fill="#ffff00"/><rect x="981.7" y="276.0" width="22.0" height="11.5" fill="#ff0000"/><rect x="929.9" y="286.7" width="32.4" height="11.5" fill="#72ff00"/><rect x="960.9" y="286.7" width="11.7" height="11.5" fill="#ffff00"/><rect x="971.3" y="286.7" width="11.7" height="11.5" fill="#ff3e00"/><rect x="992.0" y="286.7" width="11.7" height="11.5" fill="#ff8f00"/><rect x="929.9" y="297.3" width="11.7" height="11.5" fill="#72ff00"/><rect x="940.2" y="297.3" width="11.7" height="11.5" fill="#32ff00"/><rect x="950.6" y="297.3" width="11.7" height="11.5" fill="#ffff00"/><rect x="960.9" y="297.3" width="11.7" height="11.5" fill="#ff3e00"/><rect x="971.3" y="297.3" width="22.0" height="11.5" fill="#ff8f00"/><rect x="898.8" y="308.0" width="11.7" height="11.5" fill="#32ff00"/><rect x="909.1" y="308.0" width="11.7" height="11.5" fill="#00ff2b"/><rect x="919.5" y="308.0" width="11.7" height="11.5" fill="#00ffbc"/><rect x="929.9" y="308.0" width="11.7" height="11.5" fill="#32ff00"/><rect x="940.2" y="308.0" width="11.7" height="11.5" fill="#72ff00"/><rect x="950.6" y="308.0" width="11.7" height="11.5" fill="#80ff00"/><rect x="960.9" y="308.0" width="11.7" height="11.5" fill="#ff8f00"/><rect x="971.3" y="308.0" width="11.7" height="11.5" fill="#ff0000"/><rect x="981.7" y="308.0" width="11.7" height="11.5" fill="#ffff00"/><rect x="867.7" y="318.7" width="11.7" height="11.5" fill="#ff8f00"/><rect x="878.1" y="318.7" width="11.7" height="11.5" fill="#ff0000"/><rect x="909.1" y="318.7" width="11.7" height="11.5" fill="#00ff33"/><rect x="919.5" y="318.7" width="11.7" height="11.5" fill="#29ff00"/><rect x="929.9" y="318.7" width="22.0" height="11.5" fill="#69ff00"/><rect x="950.6" y="318.7" width="11.7" height="11.5" fill="#ff8f00"/><rect x="960.9" y="318.7" width="11.7" height="11.5" fill="#ff3e00"/><rect x="971.3" y="318.7" width="22.0" height="11.5" fill="#ff0000"/><rect x="1002.4" y="318.7" width="22.0" height="11.5" fill="#ffff00"/><rect x="898.8" y="329.4" width="11.7" height="11.5" fill="#21ff00"/><rect x="909.1" y="329.4" width="11.7" height="11.5" fill="#ffc900"/><rect x="919.5" y="329.4" width="22.0" height="11.5" fill="#21ff00"/><rect x="940.2" y="329.4" width="11.7" height="11.5" fill="#ffc900"/><rect x="950.6" y="329.4" width="22.0" height="11.5" fill="#ff3e00"/><rect x="971.3" y="329.4" width="11.7" height="11.5" fill="#ff8f00"/><rect x="981.7" y="329.4" width="11.7" height="11.5" fill="#ff0000"/><rect x="992.0" y="329.4" width="11.7" height="11.5" fill="#ff3e00"/><rect x="847.0" y="340.1" width="11.7" height="11.5" fill="#80ff00"/><rect x="878.1" y="340.1" width="11.7" height="11.5" fill="#19ff00"/><rect x="888.4" y="340.1" width="11.7" height="11.5" fill="#00acff"/><rect x="898.8" y="340.1" width="11.7" height="11.5" fill="#59ff00"/><rect x="909.1" y="340.1" width="11.7" height="11.5" fill="#00ff44"/><rect x="919.5" y="340.1" width="11.7" height="11.5" fill="#19ff00"/><rect x="929.9" y="340.1" width="11.7" height="11.5" fill="#59ff00"/><rect x="940.2" y="340.1" width="11.7" height="11.5" fill="#ffc900"/><rect x="950.6" y="340.1" width="11.7" height="11.5" fill="#ff3e00"/><rect x="960.9" y="340.1" width="11.7" height="11.5" fill="#ffc900"/><rect x="971.3" y="340.1" width="22.0" height="11.5" fill="#80ff00"/><rect x="1023.1" y="340.1" width="11.7" height="11.5" fill="#ff0000"/><rect x="1033.5" y="340.1" width="11.7" height="11.5" fill="#59ff00"/><rect x="805.5" y="350.8" width="11.7" height="11.5" fill="#00ff4c"/><rect x="857.3" y="350.8" width="11.7" height="11.5" fill="#11ff00"/><rect x="867.7" y="350.8" width="11.7" height="11.5" fill="#ffc900"/><rect x="898.8" y="350.8" width="11.7" height="11.5" fill="#00acff"/><rect x="909.1" y="350.8" width="11.7" height="11.5" fill="#00ff4c"/><rect x="919.5" y="350.8" width="11.7" height="11.5" fill="#11ff00"/><rect x="929.9" y="350.8" width="11.7" height="11.5" fill="#ffff00"/><rect x="940.2" y="350.8" width="11.7" height="11.5" fill="#ff8f00"/><rect x="950.6" y="350.8" width="11.7" height="11.5" fill="#ffff00"/><rect x="960.9" y="350.8" width="11.7" height="11.5" fill="#80ff00"/><rect x="971.3" y="350.8" width="11.7" height="11.5" fill="#ffff00"/><rect x="981.7" y="350.8" width="11.7" height="11.5" fill="#11ff00"/><rect x="992.0" y="350.8" width="11.7" height="11.5" fill="#00ffff"/><rect x="1002.4" y="350.8" width="11.7" height="11.5" fill="#11ff00"/><rect x="1012.7" y="350.8" width="11.7" height="11.5" fill="#00ffff"/><rect x="795.2" y="361.5" width="11.7" height="11.5" fill="#ffc900"/><rect x="815.9" y="361.5" width="11.7" height="11.5" fill="#08ff00"/><rect x="867.7" y="361.5" width="11.7" height="11.5" fill="#ff8f00"/><rect x="888.4" y="361.5" width="11.7" height="11.5" fill="#08ff00"/><rect x="898.8" y="361.5" width="11.7" height="11.5" fill="#00ff54"/><rect x="909.1" y="361.5" width="11.7" height="11.5" fill="#48ff00"/><rect x="919.5" y="361.5" width="11.7" height="11.5" fill="#08ff00"/><rect x="929.9" y="361.5" width="11.7" height="11.5" fill="#48ff00"/><rect x="940.2" y="361.5" width="11.7" height="11.5" fill="#ffff00"/><rect x="950.6" y="361.5" width="22.0" height="11.5" fill="#80ff00"/><rect x="971.3" y="361.5" width="11.7" height="11.5" fill="#08ff00"/><rect x="981.7" y="361.5" width="11.7" height="11.5" fill="#48ff00"/><rect x="992.0" y="361.5" width="11.7" height="11.5" fill="#08ff00"/><rect x="1002.4" y="361.5" width="11.7" height="11.5" fill="#ff3e00"/><rect x="774.5" y="372.2" width="11.7" height="11.5" fill="#ff3e00"/><rect x="805.5" y="372.2" width="11.7" height="11.5" fill="#40ff00"/><rect x="836.6" y="372.2" width="11.7" height="11.5" fill="#0056ff"/><rect x="867.7" y="372.2" width="11.7" height="11.5" fill="#ff0000"/><rect x="888.4" y="372.2" width="11.7" height="11.5" fill="#00ff00"/><rect x="898.8" y="372.2" width="11.7" height="11.5" fill="#00ffff"/><rect x="909.1" y="372.2" width="11.7" height="11.5" fill="#00ff5c"/><rect x="919.5" y="372.2" width="32.4" height="11.5" fill="#40ff00"/><rect x="950.6" y="372.2" width="22.0" height="11.5" fill="#00ff00"/><rect x="971.3" y="372.2" width="11.7" height="11.5" fill="#40ff00"/><rect x="981.7" y="372.2" width="11.7" height="11.5" fill="#00ff00"/><rect x="992.0" y="372.2" width="11.7" height="11.5" fill="#00ff5c"/><rect x="847.0" y="382.9" width="11.7" height="11.5" fill="#00ff08"/><rect x="857.3" y="382.9" width="22.0" height="11.5" fill="#00ffff"/><rect x="878.1" y="382.9" width="11.7" height="11.5" fill="#00ff65"/><rect x="888.4" y="382.9" width="11.7" height="11.5" fill="#38ff00"/><rect x="898.8" y="382.9" width="53.1" height="11.5" fill="#00ff08"/><rect x="950.6" y="382.9" width="22.0" height="11.5" fill="#38ff00"/><rect x="971.3" y="382.9" width="22.0" height="11.5" fill="#00ff08"/><rect x="992.0" y="382.9" width="11.7" height="11.5" fill="#00ff65"/><rect x="805.5" y="393.6" width="11.7" height="11.5" fill="#00ff6d"/><rect x="836.6" y="393.6" width="11.7" height="11.5" fill="#00ffbc"/><rect x="857.3" y="393.6" width="11.7" height="11.5" fill="#00ff11"/><rect x="878.1" y="393.6" width="11.7" height="11.5" fill="#ffc900"/><rect x="888.4" y="393.6" width="22.0" height="11.5" fill="#00ffff"/><rect x="909.1" y="393.6" width="11.7" height="11.5" fill="#00ff11"/><rect x="919.5" y="393.6" width="11.7" height="11.5" fill="#00ff6d"/><rect x="929.9" y="393.6" width="32.4" height="11.5" fill="#00ff11"/><rect x="960.9" y="393.6" width="11.7" height="11.5" fill="#2fff00"/><rect x="971.3" y="393.6" width="11.7" height="11.5" fill="#ff3e00"/><rect x="981.7" y="393.6" width="11.7" height="11.5" fill="#00ff11"/><rect x="992.0" y="393.6" width="11.7" height="11.5" fill="#00ff6d"/><rect x="1002.4" y="393.6" width="22.0" height="11.5" fill="#2fff00"/><rect x="805.5" y="404.2" width="11.7" height="11.5" fill="#00ff70"/><rect x="836.6" y="404.2" width="11.7" height="11.5" fill="#ff0000"/><rect x="857.3" y="404.2" width="11.7" height="11.5" fill="#0056ff"/><rect x="867.7" y="404.2" width="11.7" height="11.5" fill="#ff0000"/><rect x="878.1" y="404.2" width="11.7" height="11.5" fill="#00acff"/><rect x="888.4" y="404.2" width="11.7" height="11.5" fill="#00ff70"/><rect x="898.8" y="404.2" width="22.0" height="11.5" fill="#00ffff"/><rect x="919.5" y="404.2" width="22.0" height="11.5" fill="#00ff14"/><rect x="940.2" y="404.2" width="11.7" height="11.5" fill="#2cff00"/><rect x="950.6" y="404.2" width="32.4" height="11.5" fill="#00ff14"/><rect x="981.7" y="404.2" width="11.7" height="11.5" fill="#00ff70"/><rect x="992.0" y="404.2" width="11.7" height="11.5" fill="#ff3e00"/><rect x="1002.4" y="404.2" width="11.7" height="11.5" fill="#00ff14"/><rect x="774.5" y="414.9" width="11.7" height="11.5" fill="#ffc900"/><rect x="826.3" y="414.9" width="11.7" height="11.5" fill="#00acff"/><rect x="867.7" y="414.9" width="11.7" height="11.5" fill="#00ff14"/><rect x="878.1" y="414.9" width="11.7" height="11.5" fill="#1900f4"/><rect x="888.4" y="414.9" width="11.7" height="11.5" fill="#00ff70"/><rect x="898.8" y="414.9" width="11.7" height="11.5" fill="#0056ff"/><rect x="909.1" y="414.9" width="11.7" height="11.5" fill="#00ff70"/><rect x="919.5" y="414.9" width="11.7" height="11.5" fill="#00ff14"/><rect x="929.9" y="414.9" width="32.4" height="11.5" fill="#00ff70"/><rect x="960.9" y="414.9" width="11.7" height="11.5" fill="#00ffff"/><rect x="971.3" y="414.9" width="11.7" height="11.5" fill="#2cff00"/><rect x="981.7" y="414.9" width="11.7" height="11.5" fill="#00ff14"/><rect x="992.0" y="414.9" width="11.7" height="11.5" fill="#ff3e00"/><rect x="1012.7" y="414.9" width="11.7" height="11.5" fill="#0056ff"/><rect x="774.5" y="425.6" width="11.7" height="11.5" fill="#00ff70"/><rect x="805.5" y="425.6" width="11.7" height="11.5" fill="#00acff"/><rect x="826.3" y="425.6" width="11.7" height="11.5" fill="#ff0000"/><rect x="847.0" y="425.6" width="11.7" height="11.5" fill="#1900f4"/><rect x="857.3" y="425.6" width="11.7" height="11.5" fill="#00ff70"/><rect x="867.7" y="425.6" width="11.7" height="11.5" fill="#ff0000"/><rect x="878.1" y="425.6" width="11.7" height="11.5" fill="#00acff"/><rect x="888.4" y="425.6" width="11.7" height="11.5" fill="#1900f4"/><rect x="898.8" y="425.6" width="11.7" height="11.5" fill="#00acff"/><rect x="909.1" y="425.6" width="11.7" height="11.5" fill="#00ff14"/><rect x="919.5" y="425.6" width="11.7" height="11.5" fill="#00ffbc"/><rect x="929.9" y="425.6" width="11.7" height="11.5" fill="#00ff70"/><rect x="940.2" y="425.6" width="11.7" height="11.5" fill="#00ff14"/><rect x="950.6" y="425.6" width="11.7" height="11.5" fill="#00acff"/><rect x="960.9" y="425.6" width="11.7" height="11.5" fill="#00ffff"/><rect x="971.3" y="425.6" width="11.7" height="11.5" fill="#00ff14"/><rect x="981.7" y="425.6" width="11.7" height="11.5" fill="#00acff"/><rect x="992.0" y="425.6" width="11.7" height="11.5" fill="#0056ff"/><rect x="1002.4" y="425.6" width="11.7" height="11.5" fill="#00ff70"/><rect x="1012.7" y="425.6" width="11.7" height="11.5" fill="#ffc900"/><rect x="805.5" y="436.3" width="11.7" height="11.5" fill="#00ff14"/><rect x="847.0" y="436.3" width="11.7" height="11.5" fill="#0056ff"/><rect x="857.3" y="436.3" width="11.7" height="11.5" fill="#540081"/><rect x="878.1" y="436.3" width="11.7" height="11.5" fill="#240020"/><rect x="888.4" y="436.3" width="11.7" height="11.5" fill="#0056ff"/><rect x="898.8" y="436.3" width="22.0" height="11.5" fill="#00acff"/><rect x="919.5" y="436.3" width="22.0" height="11.5" fill="#00ffff"/><rect x="940.2" y="436.3" width="22.0" height="11.5" fill="#00ffbc"/><rect x="960.9" y="436.3" width="11.7" height="11.5" fill="#00ff70"/><rect x="971.3" y="436.3" width="11.7" height="11.5" fill="#00acff"/><rect x="981.7" y="436.3" width="11.7" height="11.5" fill="#2cff00"/><rect x="992.0" y="436.3" width="11.7" height="11.5" fill="#540081"/><rect x="836.6" y="447.0" width="11.7" height="11.5" fill="#1900f4"/><rect x="867.7" y="447.0" width="11.7" height="11.5" fill="#00acff"/><rect x="878.1" y="447.0" width="22.0" height="11.5" fill="#0056ff"/><rect x="898.8" y="447.0" width="11.7" height="11.5" fill="#00ffff"/><rect x="909.1" y="447.0" width="11.7" height="11.5" fill="#00acff"/><rect x="919.5" y="447.0" width="11.7" height="11.5" fill="#00ffff"/><rect x="929.9" y="447.0" width="22.0" height="11.5" fill="#0056ff"/><rect x="950.6" y="447.0" width="11.7" height="11.5" fill="#00ffbc"/><rect x="960.9" y="447.0" width="32.4" height="11.5" fill="#1900f4"/><rect x="992.0" y="447.0" width="11.7" height="11.5" fill="#0056ff"/><rect x="1023.1" y="447.0" width="11.7" height="11.5" fill="#ffc900"/><rect x="836.6" y="457.7" width="11.7" height="11.5" fill="#ff3e00"/><rect x="847.0" y="457.7" width="11.7" height="11.5" fill="#00acff"/><rect x="867.7" y="457.7" width="22.0" height="11.5" fill="#0056ff"/><rect x="888.4" y="457.7" width="11.7" height="11.5" fill="#ffff00"/><rect x="898.8" y="457.7" width="11.7" height="11.5" fill="#00ffff"/><rect x="909.1" y="457.7" width="11.7" height="11.5" fill="#00ffbc"/><rect x="919.5" y="457.7" width="11.7" height="11.5" fill="#0056ff"/><rect x="929.9" y="457.7" width="11.7" height="11.5" fill="#00acff"/><rect x="940.2" y="457.7" width="11.7" height="11.5" fill="#0056ff"/><rect x="950.6" y="457.7" width="11.7" height="11.5" fill="#00ffbc"/><rect x="960.9" y="457.7" width="32.4" height="11.5" fill="#1900f4"/><rect x="992.0" y="457.7" width="11.7" height="11.5" fill="#00ff14"/><rect x="1002.4" y="457.7" width="11.7" height="11.5" fill="#410044"/><rect x="826.3" y="468.4" width="11.7" height="11.5" fill="#ff3e00"/><rect x="836.6" y="468.4" width="11.7" height="11.5" fill="#ff0000"/><rect x="847.0" y="468.4" width="11.7" height="11.5" fill="#1900f4"/><rect x="857.3" y="468.4" width="11.7" height="11.5" fill="#00acff"/><rect x="867.7" y="468.4" width="11.7" height="11.5" fill="#540081"/><rect x="878.1" y="468.4" width="11.7" height="11.5" fill="#4d00c4"/><rect x="888.4" y="468.4" width="11.7" height="11.5" fill="#540081"/><rect x="898.8" y="468.4" width="11.7" height="11.5" fill="#00acff"/><rect x="909.1" y="468.4" width="11.7" height="11.5" fill="#ff3e00"/><rect x="919.5" y="468.4" width="11.7" height="11.5" fill="#0056ff"/><rect x="929.9" y="468.4" width="32.4" height="11.5" fill="#00acff"/><rect x="960.9" y="468.4" width="11.7" height="11.5" fill="#4d00c4"/><rect x="971.3" y="468.4" width="11.7" height="11.5" fill="#00ff70"/><rect x="981.7" y="468.4" width="11.7" height="11.5" fill="#0056ff"/><rect x="1002.4" y="468.4" width="11.7" height="11.5" fill="#00ffff"/><rect x="836.6" y="479.1" width="11.7" height="11.5" fill="#2cff00"/><rect x="857.3" y="479.1" width="11.7" height="11.5" fill="#4d00c4"/><rect x="867.7" y="479.1" width="11.7" height="11.5" fill="#540081"/><rect x="878.1" y="479.1" width="11.7" height="11.5" fill="#4d00c4"/><rect x="898.8" y="479.1" width="11.7" height="11.5" fill="#1900f4"/><rect x="909.1" y="479.1" width="11.7" height="11.5" fill="#00ff70"/><rect x="929.9" y="479.1" width="11.7" height="11.5" fill="#4d00c4"/><rect x="940.2" y="479.1" width="11.7" height="11.5" fill="#00acff"/><rect x="950.6" y="479.1" width="22.0" height="11.5" fill="#00ff70"/><rect x="981.7" y="479.1" width="11.7" height="11.5" fill="#00ffff"/><rect x="1012.7" y="479.1" width="11.7" height="11.5" fill="#240020"/><rect x="857.3" y="489.8" width="11.7" height="11.5" fill="#00ff70"/><rect x="867.7" y="489.8" width="11.7" height="11.5" fill="#240020"/><rect x="878.1" y="489.8" width="22.0" height="11.5" fill="#540081"/><rect x="898.8" y="489.8" width="11.7" height="11.5" fill="#000000"/><rect x="909.1" y="489.8" width="11.7" height="11.5" fill="#4d00c4"/><rect x="919.5" y="489.8" width="11.7" height="11.5" fill="#0056ff"/><rect x="929.9" y="489.8" width="11.7" height="11.5" fill="#4d00c4"/><rect x="940.2" y="489.8" width="11.7" height="11.5" fill="#1900f4"/><rect x="950.6" y="489.8" width="11.7" height="11.5" fill="#540081"/><rect x="960.9" y="489.8" width="11.7" height="11.5" fill="#4d00c4"/><rect x="971.3" y="489.8" width="11.7" height="11.5" fill="#00ff70"/><rect x="992.0" y="489.8" width="11.7" height="11.5" fill="#00acff"/><rect x="1012.7" y="489.8" width="11.7" height="11.5" fill="#ff0000"/><rect x="888.4" y="500.5" width="11.7" height="11.5" fill="#00ffff"/><rect x="898.8" y="500.5" width="11.7" height="11.5" fill="#0056ff"/><rect x="909.1" y="500.5" width="11.7" height="11.5" fill="#410044"/><rect x="919.5" y="500.5" width="11.7" height="11.5" fill="#0056ff"/><rect x="929.9" y="500.5" width="11.7" height="11.5" fill="#2cff00"/><rect x="940.2" y="500.5" width="11.7" height="11.5" fill="#240020"/><rect x="950.6" y="500.5" width="22.0" height="11.5" fill="#000000"/><rect x="971.3" y="500.5" width="11.7" height="11.5" fill="#00acff"/><rect x="1043.8" y="500.5" width="11.7" height="11.5" fill="#4d00c4"/><rect x="805.5" y="511.1" width="11.7" height="11.5" fill="#ff0000"/><rect x="847.0" y="511.1" width="11.7" height="11.5" fill="#ffc900"/><rect x="867.7" y="511.1" width="11.7" height="11.5" fill="#4d00c4"/><rect x="878.1" y="511.1" width="11.7" height="11.5" fill="#00ffff"/><rect x="909.1" y="511.1" width="22.0" height="11.5" fill="#410044"/><rect x="929.9" y="511.1" width="11.7" height="11.5" fill="#0056ff"/><rect x="950.6" y="511.1" width="11.7" height="11.5" fill="#1900f4"/><rect x="960.9" y="511.1" width="11.7" height="11.5" fill="#540081"/><rect x="971.3" y="511.1" width="11.7" height="11.5" fill="#0056ff"/><rect x="992.0" y="511.1" width="11.7" height="11.5" fill="#ff0000"/><rect x="857.3" y="521.8" width="11.7" height="11.5" fill="#410044"/><rect x="878.1" y="521.8" width="11.7" height="11.5" fill="#540081"/><rect x="898.8" y="521.8" width="11.7" height="11.5" fill="#540081"/><rect x="909.1" y="521.8" width="11.7" height="11.5" fill="#000000"/><rect x="919.5" y="521.8" width="11.7" height="11.5" fill="#410044"/><rect x="929.9" y="521.8" width="11.7" height="11.5" fill="#540081"/><rect x="940.2" y="521.8" width="11.7" height="11.5" fill="#000000"/><rect x="950.6" y="521.8" width="11.7" height="11.5" fill="#240020"/><rect x="971.3" y="521.8" width="11.7" height="11.5" fill="#000000"/><rect x="981.7" y="521.8" width="11.7" height="11.5" fill="#4d00c4"/><rect x="1002.4" y="521.8" width="11.7" height="11.5" fill="#540081"/><rect x="940.2" y="532.5" width="11.7" height="11.5" fill="#000000"/><rect x="981.7" y="532.5" width="11.7" height="11.5" fill="#410044"/><rect x="1023.1" y="532.5" width="11.7" height="11.5" fill="#ff0000"/><rect x="888.4" y="543.2" width="11.7" height="11.5" fill="#540081"/><rect x="929.9" y="543.2" width="11.7" height="11.5" fill="#4d00c4"/><rect x="940.2" y="543.2" width="11.7" height="11.5" fill="#00ffbc"/><rect x="981.7" y="543.2" width="11.7" height="11.5" fill="#000000"/><rect x="919.5" y="553.9" width="32.4" height="11.5" fill="#000000"/><rect x="960.9" y="553.9" width="11.7" height="11.5" fill="#000000"/><rect x="1043.8" y="553.9" width="11.7" height="11.5" fill="#ff0000"/></g>
<g shape-rendering="crispEdges"><rect x="237.9" y="564.6" width="11.7" height="11.5" fill="#000000"/><rect x="248.3" y="564.6" width="22.0" height="11.5" fill="#240020"/><rect x="237.9" y="575.3" width="22.0" height="11.5" fill="#000000"/><rect x="258.6" y="575.3" width="11.7" height="11.5" fill="#240020"/><rect x="269.0" y="575.3" width="42.7" height="11.5" fill="#000000"/><rect x="217.2" y="586.0" width="11.7" height="11.5" fill="#000000"/><rect x="237.9" y="586.0" width="22.0" height="11.5" fill="#000000"/><rect x="258.6" y="586.0" width="11.7" height="11.5" fill="#240020"/><rect x="269.0" y="586.0" width="22.0" height="11.5" fill="#000000"/><rect x="300.1" y="586.0" width="11.7" height="11.5" fill="#000000"/><rect x="320.8" y="586.0" width="11.7" height="11.5" fill="#000000"/><rect x="227.5" y="596.7" width="11.7" height="11.5" fill="#000000"/><rect x="248.3" y="596.7" width="11.7" height="11.5" fill="#240020"/><rect x="258.6" y="596.7" width="11.7" height="11.5" fill="#410044"/><rect x="269.0" y="596.7" width="22.0" height="11.5" fill="#240020"/><rect x="289.7" y="596.7" width="32.4" height="11.5" fill="#000000"/><rect x="206.8" y="607.4" width="11.7" height="11.5" fill="#000000"/><rect x="237.9" y="607.4" width="22.0" height="11.5" fill="#240020"/><rect x="258.6" y="607.4" width="11.7" height="11.5" fill="#000000"/><rect x="269.0" y="607.4" width="22.0" height="11.5" fill="#240020"/><rect x="289.7" y="607.4" width="22.0" height="11.5" fill="#000000"/><rect x="217.2" y="618.1" width="11.7" height="11.5" fill="#000000"/><rect x="237.9" y="618.1" width="11.7" height="11.5" fill="#000000"/><rect x="248.3" y="618.1" width="11.7" height="11.5" fill="#240020"/><rect x="258.6" y="618.1" width="11.7" height="11.5" fill="#410044"/><rect x="269.0" y="618.1" width="22.0" height="11.5" fill="#240020"/><rect x="289.7" y="618.1" width="11.7" height="11.5" fill="#000000"/><rect x="351.9" y="618.1" width="11.7" height="11.5" fill="#000000"/><rect x="175.7" y="628.7" width="11.7" height="11.5" fill="#000000"/><rect x="217.2" y="628.7" width="11.7" height="11.5" fill="#000000"/><rect x="227.5" y="628.7" width="11.7" height="11.5" fill="#240020"/><rect x="237.9" y="628.7" width="11.7" height="11.5" fill="#000000"/><rect x="248.3" y="628.7" width="11.7" height="11.5" fill="#240020"/><rect x="258.6" y="628.7" width="22.0" height="11.5" fill="#410044"/><rect x="279.3" y="628.7" width="11.7" height="11.5" fill="#240020"/><rect x="289.7" y="628.7" width="22.0" height="11.5" fill="#000000"/><rect x="237.9" y="639.4" width="11.7" height="11.5" fill="#240020"/><rect x="248.3" y="639.4" width="11.7" height="11.5" fill="#000000"/><rect x="258.6" y="639.4" width="11.7" height="11.5" fill="#4d00c4"/><rect x="269.0" y="639.4" width="22.0" height="11.5" fill="#410044"/><rect x="289.7" y="639.4" width="11.7" height="11.5" fill="#000000"/><rect x="310.4" y="639.4" width="11.7" height="11.5" fill="#000000"/><rect x="227.5" y="650.1" width="11.7" height="11.5" fill="#240020"/><rect x="237.9" y="650.1" width="11.7" height="11.5" fill="#000000"/><rect x="248.3" y="650.1" width="11.7" height="11.5" fill="#240020"/><rect x="258.6" y="650.1" width="11.7" height="11.5" fill="#4d00c4"/><rect x="269.0" y="650.1" width="11.7" height="11.5" fill="#540081"/><rect x="279.3" y="650.1" width="11.7" height="11.5" fill="#410044"/><rect x="289.7" y="650.1" width="32.4" height="11.5" fill="#000000"/><rect x="206.8" y="660.8" width="22.0" height="11.5" fill="#000000"/><rect x="227.5" y="660.8" width="22.0" height="11.5" fill="#240020"/><rect x="248.3" y="660.8" width="11.7" height="11.5" fill="#410044"/><rect x="258.6" y="660.8" width="11.7" height="11.5" fill="#1900f4"/><rect x="269.0" y="660.8" width="11.7" height="11.5" fill="#540081"/><rect x="279.3" y="660.8" width="11.7" height="11.5" fill="#410044"/><rect x="289.7" y="660.8" width="11.7" height="11.5" fill="#240020"/><rect x="300.1" y="660.8" width="11.7" height="11.5" fill="#000000"/><rect x="217.2" y="671.5" width="11.7" height="11.5" fill="#000000"/><rect x="227.5" y="671.5" width="11.7" height="11.5" fill="#410044"/><rect x="237.9" y="671.5" width="11.7" height="11.5" fill="#240020"/><rect x="248.3" y="671.5" width="11.7" height="11.5" fill="#410044"/><rect x="258.6" y="671.5" width="11.7" height="11.5" fill="#1900f4"/><rect x="269.0" y="671.5" width="11.7" height="11.5" fill="#4d00c4"/><rect x="279.3" y="671.5" width="11.7" height="11.5" fill="#410044"/><rect x="289.7" y="671.5" width="22.0" height="11.5" fill="#240020"/><rect x="310.4" y="671.5" width="11.7" height="11.5" fill="#000000"/><rect x="217.2" y="682.2" width="11.7" height="11.5" fill="#000000"/><rect x="227.5" y="682.2" width="11.7" height="11.5" fill="#240020"/><rect x="237.9" y="682.2" width="11.7" height="11.5" fill="#540081"/><rect x="248.3" y="682.2" width="11.7" height="11.5" fill="#1900f4"/><rect x="258.6" y="682.2" width="22.0" height="11.5" fill="#0056ff"/><rect x="279.3" y="682.2" width="11.7" height="11.5" fill="#540081"/><rect x="289.7" y="682.2" width="11.7" height="11.5" fill="#410044"/><rect x="300.1" y="682.2" width="11.7" height="11.5" fill="#240020"/><rect x="310.4" y="682.2" width="11.7" height="11.5" fill="#000000"/><rect x="341.5" y="682.2" width="11.7" height="11.5" fill="#000000"/><rect x="206.8" y="692.9" width="22.0" height="11.5" fill="#000000"/><rect x="227.5" y="692.9" width="11.7" height="11.5" fill="#410044"/><rect x="237.9" y="692.9" width="11.7" height="11.5" fill="#540081"/><rect x="248.3" y="692.9" width="11.7" height="11.5" fill="#1900f4"/><rect x="258.6" y="692.9" width="22.0" height="11.5" fill="#0056ff"/><rect x="279.3" y="692.9" width="11.7" height="11.5" fill="#540081"/><rect x="289.7" y="692.9" width="11.7" height="11.5" fill="#410044"/><rect x="300.1" y="692.9" width="22.0" height="11.5" fill="#240020"/><rect x="320.8" y="692.9" width="11.7" height="11.5" fill="#000000"/><rect x="341.5" y="692.9" width="11.7" height="11.5" fill="#000000"/><rect x="217.2" y="703.6" width="11.7" height="11.5" fill="#000000"/><rect x="227.5" y="703.6" width="11.7" height="11.5" fill="#410044"/><rect x="237.9" y="703.6" width="11.7" height="11.5" fill="#540081"/><rect x="248.3" y="703.6" width="11.7" height="11.5" fill="#1900f4"/><rect x="258.6" y="703.6" width="22.0" height="11.5" fill="#00acff"/><rect x="279.3" y="703.6" width="11.7" height="11.5" fill="#4d00c4"/><rect x="289.7" y="703.6" width="11.7" height="11.5" fill="#410044"/><rect x="300.1" y="703.6" width="11.7" height="11.5" fill="#240020"/><rect x="320.8" y="703.6" width="22.0" height="11.5" fill="#000000"/><rect x="206.8" y="714.3" width="22.0" height="11.5" fill="#000000"/><rect x="227.5" y="714.3" width="11.7" height="11.5" fill="#410044"/><rect x="237.9" y="714.3" width="11.7" height="11.5" fill="#4d00c4"/><rect x="248.3" y="714.3" width="11.7" height="11.5" fill="#1900f4"/><rect x="258.6" y="714.3" width="11.7" height="11.5" fill="#00ffff"/><rect x="269.0" y="714.3" width="11.7" height="11.5" fill="#00acff"/><rect x="279.3" y="714.3" width="11.7" height="11.5" fill="#4d00c4"/><rect x="289.7" y="714.3" width="11.7" height="11.5" fill="#540081"/><rect x="300.1" y="714.3" width="11.7" height="11.5" fill="#240020"/><rect x="320.8" y="714.3" width="22.0" height="11.5" fill="#000000"/><rect x="196.5" y="725.0" width="22.0" height="11.5" fill="#000000"/><rect x="217.2" y="725.0" width="11.7" height="11.5" fill="#240020"/><rect x="227.5" y="725.0" width="11.7" height="11.5" fill="#540081"/><rect x="237.9" y="725.0" width="11.7" height="11.5" fill="#4d00c4"/><rect x="248.3" y="725.0" width="11.7" height="11.5" fill="#00acff"/><rect x="258.6" y="725.0" width="11.7" height="11.5" fill="#00ffff"/><rect x="269.0" y="725.0" width="11.7" height="11.5" fill="#00acff"/><rect x="279.3" y="725.0" width="11.7" height="11.5" fill="#4d00c4"/><rect x="289.7" y="725.0" width="22.0" height="11.5" fill="#410044"/><rect x="310.4" y="725.0" width="32.4" height="11.5" fill="#000000"/><rect x="175.7" y="735.6" width="11.7" height="11.5" fill="#000000"/><rect x="196.5" y="735.6" width="22.0" height="11.5" fill="#000000"/><rect x="217.2" y="735.6" width="11.7" height="11.5" fill="#240020"/><rect x="227.5" y="735.6" width="11.7" height="11.5" fill="#410044"/><rect x="237.9" y="735.6" width="11.7" height="11.5" fill="#4d00c4"/><rect x="248.3" y="735.6" width="11.7" height="11.5" fill="#00acff"/><rect x="258.6" y="735.6" width="11.7" height="11.5" fill="#00ff00"/><rect x="269.0" y="735.6" width="11.7" height="11.5" fill="#1900f4"/><rect x="279.3" y="735.6" width="11.7" height="11.5" fill="#4d00c4"/><rect x="289.7" y="735.6" width="22.0" height="11.5" fill="#410044"/><rect x="310.4" y="735.6" width="11.7" height="11.5" fill="#240020"/><rect x="320.8" y="735.6" width="22.0" height="11.5" fill="#000000"/><rect x="382.9" y="735.6" width="11.7" height="11.5" fill="#000000"/><rect x="186.1" y="746.3" width="32.4" height="11.5" fill="#000000"/><rect x="217.2" y="746.3" width="11.7" height="11.5" fill="#240020"/><rect x="227.5" y="746.3" width="11.7" height="11.5" fill="#410044"/><rect x="237.9" y="746.3" width="11.7" height="11.5" fill="#4d00c4"/><rect x="248.3" y="746.3" width="22.0" height="11.5" fill="#00ffff"/><rect x="269.0" y="746.3" width="11.7" height="11.5" fill="#00acff"/><rect x="279.3" y="746.3" width="11.7" height="11.5" fill="#4d00c4"/><rect x="289.7" y="746.3" width="11.7" height="11.5" fill="#410044"/><rect x="300.1" y="746.3" width="22.0" height="11.5" fill="#240020"/><rect x="320.8" y="746.3" width="22.0" height="11.5" fill="#000000"/><rect x="351.9" y="746.3" width="11.7" height="11.5" fill="#000000"/><rect x="144.7" y="757.0" width="11.7" height="11.5" fill="#000000"/><rect x="196.5" y="757.0" width="22.0" height="11.5" fill="#000000"/><rect x="217.2" y="757.0" width="11.7" height="11.5" fill="#410044"/><rect x="227.5" y="757.0" width="11.7" height="11.5" fill="#540081"/><rect x="237.9" y="757.0" width="11.7" height="11.5" fill="#1900f4"/><rect x="248.3" y="757.0" width="32.4" height="11.5" fill="#0056ff"/><rect x="279.3" y="757.0" width="11.7" height="11.5" fill="#4d00c4"/><rect x="289.7" y="757.0" width="11.7" height="11.5" fill="#410044"/><rect x="300.1" y="757.0" width="22.0" height="11.5" fill="#000000"/><rect x="331.1" y="757.0" width="11.7" height="11.5" fill="#000000"/><rect x="92.9" y="767.7" width="11.7" height="11.5" fill="#000000"/><rect x="186.1" y="767.7" width="22.0" height="11.5" fill="#000000"/><rect x="206.8" y="767.7" width="11.7" height="11.5" fill="#240020"/><rect x="217.2" y="767.7" width="11.7" height="11.5" fill="#410044"/><rect x="227.5" y="767.7" width="11.7" height="11.5" fill="#540081"/><rect x="237.9" y="767.7" width="11.7" height="11.5" fill="#4d00c4"/><rect x="248.3" y="767.7" width="22.0" height="11.5" fill="#1900f4"/><rect x="269.0" y="767.7" width="11.7" height="11.5" fill="#4d00c4"/><rect x="279.3" y="767.7" width="11.7" height="11.5" fill="#410044"/><rect x="289.7" y="767.7" width="11.7" height="11.5" fill="#000000"/><rect x="310.4" y="767.7" width="11.7" height="11.5" fill="#240020"/><rect x="186.1" y="778.4" width="32.4" height="11.5" fill="#240020"/><rect x="217.2" y="778.4" width="11.7" height="11.5" fill="#410044"/><rect x="227.5" y="778.4" width="11.7" height="11.5" fill="#540081"/><rect x="237.9" y="778.4" width="11.7" height="11.5" fill="#4d00c4"/><rect x="248.3" y="778.4" width="11.7" height="11.5" fill="#1900f4"/><rect x="258.6" y="778.4" width="22.0" height="11.5" fill="#540081"/><rect x="279.3" y="778.4" width="11.7" height="11.5" fill="#410044"/><rect x="289.7" y="778.4" width="11.7" height="11.5" fill="#000000"/><rect x="310.4" y="778.4" width="11.7" height="11.5" fill="#000000"/><rect x="123.9" y="789.1" width="11.7" height="11.5" fill="#000000"/><rect x="196.5" y="789.1" width="22.0" height="11.5" fill="#000000"/><rect x="217.2" y="789.1" width="22.0" height="11.5" fill="#410044"/><rect x="237.9" y="789.1" width="11.7" height="11.5" fill="#540081"/><rect x="248.3" y="789.1" width="32.4" height="11.5" fill="#410044"/><rect x="279.3" y="789.1" width="11.7" height="11.5" fill="#240020"/><rect x="289.7" y="789.1" width="11.7" height="11.5" fill="#000000"/><rect x="165.4" y="799.8" width="11.7" height="11.5" fill="#000000"/><rect x="196.5" y="799.8" width="11.7" height="11.5" fill="#000000"/><rect x="206.8" y="799.8" width="22.0" height="11.5" fill="#240020"/><rect x="227.5" y="799.8" width="11.7" height="11.5" fill="#000000"/><rect x="237.9" y="799.8" width="11.7" height="11.5" fill="#240020"/><rect x="248.3" y="799.8" width="11.7" height="11.5" fill="#410044"/><rect x="258.6" y="799.8" width="22.0" height="11.5" fill="#240020"/><rect x="279.3" y="799.8" width="11.7" height="11.5" fill="#000000"/><rect x="382.9" y="799.8" width="11.7" height="11.5" fill="#000000"/><rect x="123.9" y="810.5" width="11.7" height="11.5" fill="#000000"/><rect x="165.4" y="810.5" width="32.4" height="11.5" fill="#000000"/><rect x="206.8" y="810.5" width="53.1" height="11.5" fill="#240020"/><rect x="258.6" y="810.5" width="32.4" height="11.5" fill="#000000"/><rect x="300.1" y="810.5" width="22.0" height="11.5" fill="#000000"/><rect x="341.5" y="810.5" width="11.7" height="11.5" fill="#000000"/><rect x="155.0" y="821.2" width="11.7" height="11.5" fill="#000000"/><rect x="175.7" y="821.2" width="32.4" height="11.5" fill="#000000"/><rect x="227.5" y="821.2" width="22.0" height="11.5" fill="#000000"/><rect x="248.3" y="821.2" width="11.7" height="11.5" fill="#410044"/><rect x="258.6" y="821.2" width="11.7" height="11.5" fill="#000000"/><rect x="320.8" y="821.2" width="22.0" height="11.5" fill="#000000"/><rect x="351.9" y="821.2" width="11.7" height="11.5" fill="#000000"/><rect x="186.1" y="831.9" width="84.2" height="11.5" fill="#000000"/><rect x="279.3" y="831.9" width="11.7" height="11.5" fill="#240020"/><rect x="196.5" y="842.5" width="42.7" height="11.5" fill="#000000"/><rect x="258.6" y="842.5" width="22.0" height="11.5" fill="#000000"/><rect x="331.1" y="842.5" width="11.7" height="11.5" fill="#000000"/><rect x="248.3" y="853.2" width="11.7" height="11.5" fill="#240020"/><rect x="269.0" y="853.2" width="11.7" height="11.5" fill="#000000"/><rect x="351.9" y="853.2" width="11.7" height="11.5" fill="#000000"/><rect x="196.5" y="863.9" width="11.7" height="11.5" fill="#000000"/><rect x="237.9" y="863.9" width="11.7" height="11.5" fill="#000000"/><rect x="279.3" y="863.9" width="11.7" height="11.5" fill="#000000"/><rect x="248.3" y="874.6" width="11.7" height="11.5" fill="#000000"/><rect x="279.3" y="874.6" width="11.7" height="11.5" fill="#000000"/><rect x="310.4" y="874.6" width="11.7" height="11.5" fill="#000000"/><rect x="341.5" y="874.6" width="22.0" height="11.5" fill="#000000"/></g>
<g shape-rendering="crispEdges"><rect x="650.1" y="564.6" width="11.7" height="11.5" fill="#000000"/><rect x="681.2" y="575.3" width="11.7" height="11.5" fill="#000000"/><rect x="639.8" y="586.0" width="11.7" height="11.5" fill="#000000"/><rect x="660.5" y="586.0" width="22.0" height="11.5" fill="#000000"/><rect x="629.4" y="596.7" width="22.0" height="11.5" fill="#000000"/><rect x="650.1" y="596.7" width="22.0" height="11.5" fill="#240020"/><rect x="670.9" y="596.7" width="11.7" height="11.5" fill="#000000"/><rect x="629.4" y="607.4" width="42.7" height="11.5" fill="#240020"/><rect x="670.9" y="607.4" width="22.0" height="11.5" fill="#000000"/><rect x="629.4" y="618.1" width="32.4" height="11.5" fill="#410044"/><rect x="660.5" y="618.1" width="11.7" height="11.5" fill="#240020"/><rect x="608.7" y="628.7" width="22.0" height="11.5" fill="#000000"/><rect x="629.4" y="628.7" width="22.0" height="11.5" fill="#4d00c4"/><rect x="650.1" y="628.7" width="11.7" height="11.5" fill="#540081"/><rect x="660.5" y="628.7" width="11.7" height="11.5" fill="#410044"/><rect x="670.9" y="628.7" width="22.0" height="11.5" fill="#000000"/><rect x="608.7" y="639.4" width="11.7" height="11.5" fill="#240020"/><rect x="619.1" y="639.4" width="11.7" height="11.5" fill="#410044"/><rect x="629.4" y="639.4" width="11.7" height="11.5" fill="#4d00c4"/><rect x="639.8" y="639.4" width="11.7" height="11.5" fill="#00acff"/><rect x="650.1" y="639.4" width="11.7" height="11.5" fill="#4d00c4"/><rect x="660.5" y="639.4" width="11.7" height="11.5" fill="#410044"/><rect x="670.9" y="639.4" width="11.7" height="11.5" fill="#000000"/><rect x="608.7" y="650.1" width="11.7" height="11.5" fill="#240020"/><rect x="619.1" y="650.1" width="11.7" height="11.5" fill="#4d00c4"/><rect x="629.4" y="650.1" width="22.0" height="11.5" fill="#00ffff"/><rect x="650.1" y="650.1" width="11.7" height="11.5" fill="#1900f4"/><rect x="660.5" y="650.1" width="11.7" height="11.5" fill="#410044"/><rect x="670.9" y="650.1" width="11.7" height="11.5" fill="#000000"/><rect x="701.9" y="650.1" width="11.7" height="11.5" fill="#000000"/><rect x="608.7" y="660.8" width="11.7" height="11.5" fill="#410044"/><rect x="619.1" y="660.8" width="11.7" height="11.5" fill="#0056ff"/><rect x="629.4" y="660.8" width="11.7" height="11.5" fill="#80ff00"/><rect x="639.8" y="660.8" width="11.7" height="11.5" fill="#00ff00"/><rect x="650.1" y="660.8" width="11.7" height="11.5" fill="#4d00c4"/><rect x="660.5" y="660.8" width="11.7" height="11.5" fill="#410044"/><rect x="670.9" y="660.8" width="22.0" height="11.5" fill="#000000"/><rect x="577.6" y="671.5" width="32.4" height="11.5" fill="#000000"/><rect x="608.7" y="671.5" width="11.7" height="11.5" fill="#410044"/><rect x="619.1" y="671.5" width="11.7" height="11.5" fill="#00ff80"/><rect x="629.4" y="671.5" width="11.7" height="11.5" fill="#ffff00"/><rect x="639.8" y="671.5" width="11.7" height="11.5" fill="#00ff80"/><rect x="650.1" y="671.5" width="11.7" height="11.5" fill="#4d00c4"/><rect x="660.5" y="671.5" width="11.7" height="11.5" fill="#410044"/><rect x="588.0" y="682.2" width="11.7" height="11.5" fill="#000000"/><rect x="598.3" y="682.2" width="11.7" height="11.5" fill="#540081"/><rect x="608.7" y="682.2" width="11.7" height="11.5" fill="#0056ff"/><rect x="619.1" y="682.2" width="11.7" height="11.5" fill="#00ff80"/><rect x="629.4" y="682.2" width="11.7" height="11.5" fill="#ffff00"/><rect x="639.8" y="682.2" width="11.7" height="11.5" fill="#00ffff"/><rect x="650.1" y="682.2" width="11.7" height="11.5" fill="#540081"/><rect x="660.5" y="682.2" width="11.7" height="11.5" fill="#240020"/><rect x="670.9" y="682.2" width="22.0" height="11.5" fill="#000000"/><rect x="577.6" y="692.9" width="11.7" height="11.5" fill="#000000"/><rect x="588.0" y="692.9" width="11.7" height="11.5" fill="#240020"/><rect x="598.3" y="692.9" width="11.7" height="11.5" fill="#540081"/><rect x="608.7" y="692.9" width="11.7" height="11.5" fill="#1900f4"/><rect x="619.1" y="692.9" width="22.0" height="11.5" fill="#00ff80"/><rect x="639.8" y="692.9" width="11.7" height="11.5" fill="#0056ff"/><rect x="650.1" y="692.9" width="11.7" height="11.5" fill="#540081"/><rect x="660.5" y="692.9" width="11.7" height="11.5" fill="#410044"/><rect x="670.9" y="692.9" width="11.7" height="11.5" fill="#240020"/><rect x="681.2" y="692.9" width="11.7" height="11.5" fill="#000000"/><rect x="701.9" y="692.9" width="11.7" height="11.5" fill="#000000"/><rect x="546.5" y="703.6" width="22.0" height="11.5" fill="#000000"/><rect x="577.6" y="703.6" width="11.7" height="11.5" fill="#000000"/><rect x="588.0" y="703.6" width="11.7" height="11.5" fill="#240020"/><rect x="598.3" y="703.6" width="11.7" height="11.5" fill="#540081"/><rect x="608.7" y="703.6" width="11.7" height="11.5" fill="#1900f4"/><rect x="619.1" y="703.6" width="11.7" height="11.5" fill="#00acff"/><rect x="629.4" y="703.6" width="11.7" height="11.5" fill="#0056ff"/><rect x="639.8" y="703.6" width="11.7" height="11.5" fill="#4d00c4"/><rect x="650.1" y="703.6" width="11.7" height="11.5" fill="#540081"/><rect x="660.5" y="703.6" width="11.7" height="11.5" fill="#240020"/><rect x="670.9" y="703.6" width="11.7" height="11.5" fill="#410044"/><rect x="681.2" y="703.6" width="11.7" height="11.5" fill="#240020"/><rect x="691.6" y="703.6" width="32.4" height="11.5" fill="#000000"/><rect x="556.9" y="714.3" width="11.7" height="11.5" fill="#000000"/><rect x="577.6" y="714.3" width="11.7" height="11.5" fill="#000000"/><rect x="588.0" y="714.3" width="11.7" height="11.5" fill="#240020"/><rect x="598.3" y="714.3" width="11.7" height="11.5" fill="#410044"/><rect x="608.7" y="714.3" width="32.4" height="11.5" fill="#1900f4"/><rect x="639.8" y="714.3" width="11.7" height="11.5" fill="#4d00c4"/><rect x="650.1" y="714.3" width="11.7" height="11.5" fill="#540081"/><rect x="660.5" y="714.3" width="11.7" height="11.5" fill="#000000"/><rect x="670.9" y="714.3" width="22.0" height="11.5" fill="#240020"/><rect x="691.6" y="714.3" width="22.0" height="11.5" fill="#000000"/><rect x="463.7" y="725.0" width="11.7" height="11.5" fill="#000000"/><rect x="556.9" y="725.0" width="22.0" height="11.5" fill="#000000"/><rect x="577.6" y="725.0" width="11.7" height="11.5" fill="#240020"/><rect x="588.0" y="725.0" width="22.0" height="11.5" fill="#410044"/><rect x="608.7" y="725.0" width="11.7" height="11.5" fill="#1900f4"/><rect x="619.1" y="725.0" width="11.7" height="11.5" fill="#4d00c4"/><rect x="629.4" y="725.0" width="22.0" height="11.5" fill="#540081"/><rect x="650.1" y="725.0" width="11.7" height="11.5" fill="#410044"/><rect x="660.5" y="725.0" width="32.4" height="11.5" fill="#240020"/><rect x="691.6" y="725.0" width="11.7" height="11.5" fill="#000000"/><rect x="515.5" y="735.6" width="11.7" height="11.5" fill="#000000"/><rect x="556.9" y="735.6" width="11.7" height="11.5" fill="#000000"/><rect x="567.3" y="735.6" width="22.0" height="11.5" fill="#240020"/><rect x="588.0" y="735.6" width="11.7" height="11.5" fill="#410044"/><rect x="598.3" y="735.6" width="11.7" height="11.5" fill="#540081"/><rect x="608.7" y="735.6" width="22.0" height="11.5" fill="#4d00c4"/><rect x="629.4" y="735.6" width="22.0" height="11.5" fill="#540081"/><rect x="650.1" y="735.6" width="11.7" height="11.5" fill="#410044"/><rect x="660.5" y="735.6" width="22.0" height="11.5" fill="#240020"/><rect x="681.2" y="735.6" width="11.7" height="11.5" fill="#000000"/><rect x="701.9" y="735.6" width="11.7" height="11.5" fill="#000000"/><rect x="494.7" y="746.3" width="11.7" height="11.5" fill="#000000"/><rect x="525.8" y="746.3" width="42.7" height="11.5" fill="#000000"/><rect x="567.3" y="746.3" width="22.0" height="11.5" fill="#240020"/><rect x="588.0" y="746.3" width="53.1" height="11.5" fill="#540081"/><rect x="639.8" y="746.3" width="11.7" height="11.5" fill="#410044"/><rect x="650.1" y="746.3" width="22.0" height="11.5" fill="#240020"/><rect x="681.2" y="746.3" width="11.7" height="11.5" fill="#000000"/><rect x="691.6" y="746.3" width="11.7" height="11.5" fill="#240020"/><rect x="712.3" y="746.3" width="11.7" height="11.5" fill="#000000"/><rect x="546.5" y="757.0" width="11.7" height="11.5" fill="#000000"/><rect x="567.3" y="757.0" width="11.7" height="11.5" fill="#240020"/><rect x="577.6" y="757.0" width="11.7" height="11.5" fill="#410044"/><rect x="588.0" y="757.0" width="32.4" height="11.5" fill="#540081"/><rect x="619.1" y="757.0" width="22.0" height="11.5" fill="#410044"/><rect x="639.8" y="757.0" width="32.4" height="11.5" fill="#240020"/><rect x="670.9" y="757.0" width="22.0" height="11.5" fill="#000000"/><rect x="536.2" y="767.7" width="11.7" height="11.5" fill="#000000"/><rect x="567.3" y="767.7" width="32.4" height="11.5" fill="#240020"/><rect x="598.3" y="767.7" width="32.4" height="11.5" fill="#410044"/><rect x="629.4" y="767.7" width="22.0" height="11.5" fill="#240020"/><rect x="670.9" y="767.7" width="11.7" height="11.5" fill="#000000"/><rect x="691.6" y="767.7" width="11.7" height="11.5" fill="#000000"/><rect x="712.3" y="767.7" width="22.0" height="11.5" fill="#000000"/><rect x="494.7" y="778.4" width="11.7" height="11.5" fill="#000000"/><rect x="546.5" y="778.4" width="32.4" height="11.5" fill="#000000"/><rect x="577.6" y="778.4" width="22.0" height="11.5" fill="#240020"/><rect x="598.3" y="778.4" width="11.7" height="11.5" fill="#410044"/><rect x="608.7" y="778.4" width="22.0" height="11.5" fill="#240020"/><rect x="629.4" y="778.4" width="42.7" height="11.5" fill="#000000"/><rect x="701.9" y="778.4" width="11.7" height="11.5" fill="#000000"/><rect x="753.7" y="778.4" width="11.7" height="11.5" fill="#000000"/><rect x="588.0" y="789.1" width="11.7" height="11.5" fill="#000000"/><rect x="598.3" y="789.1" width="32.4" height="11.5" fill="#240020"/><rect x="629.4" y="789.1" width="32.4" height="11.5" fill="#000000"/><rect x="701.9" y="789.1" width="11.7" height="11.5" fill="#000000"/><rect x="722.7" y="789.1" width="11.7" height="11.5" fill="#000000"/><rect x="753.7" y="789.1" width="11.7" height="11.5" fill="#000000"/><rect x="536.2" y="799.8" width="11.7" height="11.5" fill="#000000"/><rect x="567.3" y="799.8" width="22.0" height="11.5" fill="#000000"/><rect x="598.3" y="799.8" width="22.0" height="11.5" fill="#000000"/><rect x="629.4" y="799.8" width="11.7" height="11.5" fill="#240020"/><rect x="639.8" y="799.8" width="11.7" height="11.5" fill="#000000"/><rect x="701.9" y="799.8" width="11.7" height="11.5" fill="#000000"/><rect x="556.9" y="810.5" width="42.7" height="11.5" fill="#000000"/><rect x="608.7" y="810.5" width="11.7" height="11.5" fill="#000000"/><rect x="629.4" y="810.5" width="32.4" height="11.5" fill="#000000"/><rect x="670.9" y="810.5" width="11.7" height="11.5" fill="#000000"/><rect x="556.9" y="821.2" width="42.7" height="11.5" fill="#000000"/><rect x="608.7" y="821.2" width="53.1" height="11.5" fill="#000000"/><rect x="567.3" y="831.9" width="11.7" height="11.5" fill="#000000"/><rect x="660.5" y="831.9" width="11.7" height="11.5" fill="#000000"/><rect x="556.9" y="842.5" width="11.7" height="11.5" fill="#000000"/><rect x="619.1" y="842.5" width="11.7" height="11.5" fill="#000000"/><rect x="619.1" y="853.2" width="11.7" height="11.5" fill="#000000"/><rect x="670.9" y="853.2" width="11.7" height="11.5" fill="#000000"/><rect x="701.9" y="853.2" width="11.7" height="11.5" fill="#000000"/><rect x="619.1" y="863.9" width="11.7" height="11.5" fill="#000000"/><rect x="650.1" y="863.9" width="11.7" height="11.5" fill="#000000"/><rect x="722.7" y="863.9" width="11.7" height="11.5" fill="#000000"/><rect x="556.9" y="874.6" width="11.7" height="11.5" fill="#000000"/><rect x="598.3" y="874.6" width="22.0" height="11.5" fill="#000000"/><rect x="681.2" y="874.6" width="11.7" height="11.5" fill="#000000"/><rect x="712.3" y="874.6" width="11.7" height="11.5" fill="#000000"/></g>
<g shape-rendering="crispEdges"><rect x="960.9" y="564.6" width="11.7" height="11.5" fill="#ff3e00"/><rect x="992.0" y="575.3" width="11.7" height="11.5" fill="#ff0000"/><rect x="950.6" y="586.0" width="11.7" height="11.5" fill="#72ff00"/><rect x="971.3" y="586.0" width="11.7" height="11.5" fill="#ff3e00"/><rect x="981.7" y="586.0" width="11.7" height="11.5" fill="#ff0000"/><rect x="940.2" y="596.7" width="22.0" height="11.5" fill="#72ff00"/><rect x="960.9" y="596.7" width="11.7" height="11.5" fill="#ffc900"/><rect x="971.3" y="596.7" width="11.7" height="11.5" fill="#ffff00"/><rect x="981.7" y="596.7" width="11.7" height="11.5" fill="#ff0000"/><rect x="940.2" y="607.4" width="11.7" height="11.5" fill="#32ff00"/><rect x="950.6" y="607.4" width="22.0" height="11.5" fill="#72ff00"/><rect x="971.3" y="607.4" width="11.7" height="11.5" fill="#ff3e00"/><rect x="981.7" y="607.4" width="22.0" height="11.5" fill="#ff0000"/><rect x="940.2" y="618.1" width="11.7" height="11.5" fill="#72ff00"/><rect x="950.6" y="618.1" width="11.7" height="11.5" fill="#ffc900"/><rect x="960.9" y="618.1" width="11.7" height="11.5" fill="#ff3e00"/><rect x="971.3" y="618.1" width="11.7" height="11.5" fill="#ffff00"/><rect x="919.5" y="628.7" width="11.7" height="11.5" fill="#32ff00"/><rect x="929.9" y="628.7" width="11.7" height="11.5" fill="#00ff2b"/><rect x="940.2" y="628.7" width="11.7" height="11.5" fill="#72ff00"/><rect x="950.6" y="628.7" width="22.0" height="11.5" fill="#ffc900"/><rect x="971.3" y="628.7" width="22.0" height="11.5" fill="#ff0000"/><rect x="992.0" y="628.7" width="11.7" height="11.5" fill="#72ff00"/><rect x="919.5" y="639.4" width="11.7" height="11.5" fill="#32ff00"/><rect x="929.9" y="639.4" width="11.7" height="11.5" fill="#72ff00"/><rect x="940.2" y="639.4" width="11.7" height="11.5" fill="#80ff00"/><rect x="950.6" y="639.4" width="11.7" height="11.5" fill="#ffc900"/><rect x="960.9" y="639.4" width="11.7" height="11.5" fill="#ff8f00"/><rect x="971.3" y="639.4" width="11.7" height="11.5" fill="#ff0000"/><rect x="981.7" y="639.4" width="11.7" height="11.5" fill="#ff3e00"/><rect x="919.5" y="650.1" width="11.7" height="11.5" fill="#80ff00"/><rect x="929.9" y="650.1" width="11.7" height="11.5" fill="#69ff00"/><rect x="940.2" y="650.1" width="11.7" height="11.5" fill="#80ff00"/><rect x="950.6" y="650.1" width="11.7" height="11.5" fill="#ffff00"/><rect x="960.9" y="650.1" width="11.7" height="11.5" fill="#ff0000"/><rect x="971.3" y="650.1" width="11.7" height="11.5" fill="#80ff00"/><rect x="981.7" y="650.1" width="11.7" height="11.5" fill="#ff0000"/><rect x="1012.7" y="650.1" width="11.7" height="11.5" fill="#80ff00"/><rect x="919.5" y="660.8" width="11.7" height="11.5" fill="#21ff00"/><rect x="929.9" y="660.8" width="11.7" height="11.5" fill="#61ff00"/><rect x="940.2" y="660.8" width="11.7" height="11.5" fill="#ff8f00"/><rect x="950.6" y="660.8" width="22.0" height="11.5" fill="#ffc900"/><rect x="971.3" y="660.8" width="11.7" height="11.5" fill="#80ff00"/><rect x="981.7" y="660.8" width="11.7" height="11.5" fill="#61ff00"/><rect x="992.0" y="660.8" width="11.7" height="11.5" fill="#ff8f00"/><rect x="888.4" y="671.5" width="11.7" height="11.5" fill="#00ffff"/><rect x="898.8" y="671.5" width="11.7" height="11.5" fill="#00ff44"/><rect x="909.1" y="671.5" width="22.0" height="11.5" fill="#19ff00"/><rect x="929.9" y="671.5" width="11.7" height="11.5" fill="#59ff00"/><rect x="940.2" y="671.5" width="11.7" height="11.5" fill="#ff8f00"/><rect x="950.6" y="671.5" width="22.0" height="11.5" fill="#80ff00"/><rect x="971.3" y="671.5" width="11.7" height="11.5" fill="#ff8f00"/><rect x="898.8" y="682.2" width="11.7" height="11.5" fill="#00ff4c"/><rect x="909.1" y="682.2" width="11.7" height="11.5" fill="#00ffff"/><rect x="919.5" y="682.2" width="53.1" height="11.5" fill="#80ff00"/><rect x="971.3" y="682.2" width="11.7" height="11.5" fill="#11ff00"/><rect x="981.7" y="682.2" width="11.7" height="11.5" fill="#80ff00"/><rect x="992.0" y="682.2" width="11.7" height="11.5" fill="#ff3e00"/><rect x="888.4" y="692.9" width="11.7" height="11.5" fill="#00ff54"/><rect x="898.8" y="692.9" width="11.7" height="11.5" fill="#0056ff"/><rect x="909.1" y="692.9" width="11.7" height="11.5" fill="#00ff54"/><rect x="919.5" y="692.9" width="22.0" height="11.5" fill="#48ff00"/><rect x="940.2" y="692.9" width="42.7" height="11.5" fill="#08ff00"/><rect x="981.7" y="692.9" width="11.7" height="11.5" fill="#ffc900"/><rect x="992.0" y="692.9" width="11.7" height="11.5" fill="#08ff00"/><rect x="1012.7" y="692.9" width="11.7" height="11.5" fill="#00ffbc"/><rect x="857.3" y="703.6" width="11.7" height="11.5" fill="#1900f4"/><rect x="867.7" y="703.6" width="11.7" height="11.5" fill="#00acff"/><rect x="888.4" y="703.6" width="11.7" height="11.5" fill="#00ffbc"/><rect x="898.8" y="703.6" width="11.7" height="11.5" fill="#00ff00"/><rect x="909.1" y="703.6" width="11.7" height="11.5" fill="#ff8f00"/><rect x="919.5" y="703.6" width="32.4" height="11.5" fill="#00ff00"/><rect x="950.6" y="703.6" width="11.7" height="11.5" fill="#00ff5c"/><rect x="960.9" y="703.6" width="22.0" height="11.5" fill="#00ff00"/><rect x="981.7" y="703.6" width="11.7" height="11.5" fill="#40ff00"/><rect x="992.0" y="703.6" width="11.7" height="11.5" fill="#00ff5c"/><rect x="1002.4" y="703.6" width="11.7" height="11.5" fill="#40ff00"/><rect x="1012.7" y="703.6" width="11.7" height="11.5" fill="#ffc900"/><rect x="1023.1" y="703.6" width="11.7" height="11.5" fill="#ff3e00"/><rect x="867.7" y="714.3" width="11.7" height="11.5" fill="#1900f4"/><rect x="888.4" y="714.3" width="11.7" height="11.5" fill="#00ffff"/><rect x="898.8" y="714.3" width="11.7" height="11.5" fill="#00ff65"/><rect x="909.1" y="714.3" width="11.7" height="11.5" fill="#38ff00"/><rect x="919.5" y="714.3" width="11.7" height="11.5" fill="#00ff65"/><rect x="929.9" y="714.3" width="22.0" height="11.5" fill="#00ff08"/><rect x="950.6" y="714.3" width="11.7" height="11.5" fill="#00ff65"/><rect x="960.9" y="714.3" width="11.7" height="11.5" fill="#00ff08"/><rect x="971.3" y="714.3" width="11.7" height="11.5" fill="#ff0000"/><rect x="981.7" y="714.3" width="11.7" height="11.5" fill="#00ff08"/><rect x="992.0" y="714.3" width="11.7" height="11.5" fill="#00ffbc"/><rect x="1002.4" y="714.3" width="11.7" height="11.5" fill="#00ff08"/><rect x="1012.7" y="714.3" width="11.7" height="11.5" fill="#38ff00"/><rect x="774.5" y="725.0" width="11.7" height="11.5" fill="#00ffbc"/><rect x="867.7" y="725.0" width="11.7" height="11.5" fill="#00ffff"/><rect x="878.1" y="725.0" width="11.7" height="11.5" fill="#00ffbc"/><rect x="888.4" y="725.0" width="11.7" height="11.5" fill="#00ff11"/><rect x="898.8" y="725.0" width="22.0" height="11.5" fill="#00ff6d"/><rect x="919.5" y="725.0" width="11.7" height="11.5" fill="#00ffbc"/><rect x="929.9" y="725.0" width="11.7" height="11.5" fill="#00ff11"/><rect x="940.2" y="725.0" width="11.7" height="11.5" fill="#80ff00"/><rect x="950.6" y="725.0" width="11.7" height="11.5" fill="#00ffbc"/><rect x="960.9" y="725.0" width="11.7" height="11.5" fill="#00ff11"/><rect x="971.3" y="725.0" width="11.7" height="11.5" fill="#ff0000"/><rect x="981.7" y="725.0" width="11.7" height="11.5" fill="#2fff00"/><rect x="992.0" y="725.0" width="11.7" height="11.5" fill="#00ffff"/><rect x="1002.4" y="725.0" width="11.7" height="11.5" fill="#2fff00"/><rect x="826.3" y="735.6" width="11.7" height="11.5" fill="#00ffbc"/><rect x="867.7" y="735.6" width="11.7" height="11.5" fill="#00ffbc"/><rect x="878.1" y="735.6" width="11.7" height="11.5" fill="#00acff"/><rect x="888.4" y="735.6" width="11.7" height="11.5" fill="#ffc900"/><rect x="898.8" y="735.6" width="22.0" height="11.5" fill="#00ff14"/><rect x="919.5" y="735.6" width="22.0" height="11.5" fill="#00ff70"/><rect x="940.2" y="735.6" width="11.7" height="11.5" fill="#00ff14"/><rect x="950.6" y="735.6" width="11.7" height="11.5" fill="#00ffbc"/><rect x="960.9" y="735.6" width="11.7" height="11.5" fill="#00ff14"/><rect x="971.3" y="735.6" width="11.7" height="11.5" fill="#2cff00"/><rect x="981.7" y="735.6" width="11.7" height="11.5" fill="#ff3e00"/><rect x="992.0" y="735.6" width="11.7" height="11.5" fill="#00ff14"/><rect x="1012.7" y="735.6" width="11.7" height="11.5" fill="#2cff00"/><rect x="805.5" y="746.3" width="11.7" height="11.5" fill="#0056ff"/><rect x="836.6" y="746.3" width="11.7" height="11.5" fill="#4d00c4"/><rect x="847.0" y="746.3" width="11.7" height="11.5" fill="#1900f4"/><rect x="857.3" y="746.3" width="11.7" height="11.5" fill="#00ff14"/><rect x="867.7" y="746.3" width="11.7" height="11.5" fill="#4d00c4"/><rect x="878.1" y="746.3" width="11.7" height="11.5" fill="#00ffff"/><rect x="888.4" y="746.3" width="11.7" height="11.5" fill="#00ff70"/><rect x="898.8" y="746.3" width="11.7" height="11.5" fill="#00ffbc"/><rect x="909.1" y="746.3" width="11.7" height="11.5" fill="#00ff14"/><rect x="919.5" y="746.3" width="11.7" height="11.5" fill="#00ff70"/><rect x="929.9" y="746.3" width="11.7" height="11.5" fill="#00acff"/><rect x="940.2" y="746.3" width="11.7" height="11.5" fill="#00ffbc"/><rect x="950.6" y="746.3" width="32.4" height="11.5" fill="#00ffff"/><rect x="992.0" y="746.3" width="11.7" height="11.5" fill="#00ff14"/><rect x="1002.4" y="746.3" width="11.7" height="11.5" fill="#ffff00"/><rect x="1023.1" y="746.3" width="11.7" height="11.5" fill="#1900f4"/><rect x="857.3" y="757.0" width="11.7" height="11.5" fill="#2cff00"/><rect x="878.1" y="757.0" width="11.7" height="11.5" fill="#00ff70"/><rect x="888.4" y="757.0" width="11.7" height="11.5" fill="#00ff14"/><rect x="898.8" y="757.0" width="11.7" height="11.5" fill="#00ff70"/><rect x="909.1" y="757.0" width="11.7" height="11.5" fill="#00ffbc"/><rect x="919.5" y="757.0" width="11.7" height="11.5" fill="#00ffff"/><rect x="929.9" y="757.0" width="11.7" height="11.5" fill="#00acff"/><rect x="940.2" y="757.0" width="11.7" height="11.5" fill="#00ff70"/><rect x="950.6" y="757.0" width="11.7" height="11.5" fill="#2cff00"/><rect x="960.9" y="757.0" width="22.0" height="11.5" fill="#00ff14"/><rect x="981.7" y="757.0" width="11.7" height="11.5" fill="#1900f4"/><rect x="992.0" y="757.0" width="11.7" height="11.5" fill="#4d00c4"/><rect x="847.0" y="767.7" width="11.7" height="11.5" fill="#1900f4"/><rect x="878.1" y="767.7" width="11.7" height="11.5" fill="#00ff70"/><rect x="888.4" y="767.7" width="11.7" height="11.5" fill="#00ffbc"/><rect x="898.8" y="767.7" width="11.7" height="11.5" fill="#00ff14"/><rect x="909.1" y="767.7" width="11.7" height="11.5" fill="#80ff00"/><rect x="919.5" y="767.7" width="11.7" height="11.5" fill="#0056ff"/><rect x="929.9" y="767.7" width="11.7" height="11.5" fill="#00ffff"/><rect x="940.2" y="767.7" width="22.0" height="11.5" fill="#00acff"/><rect x="981.7" y="767.7" width="11.7" height="11.5" fill="#2cff00"/><rect x="1002.4" y="767.7" width="11.7" height="11.5" fill="#540081"/><rect x="1023.1" y="767.7" width="11.7" height="11.5" fill="#ff8f00"/><rect x="1033.5" y="767.7" width="11.7" height="11.5" fill="#00ff14"/><rect x="805.5" y="778.4" width="11.7" height="11.5" fill="#1900f4"/><rect x="857.3" y="778.4" width="32.4" height="11.5" fill="#4d00c4"/><rect x="888.4" y="778.4" width="11.7" height="11.5" fill="#00ff70"/><rect x="898.8" y="778.4" width="11.7" height="11.5" fill="#0056ff"/><rect x="909.1" y="778.4" width="11.7" height="11.5" fill="#00ff70"/><rect x="919.5" y="778.4" width="11.7" height="11.5" fill="#00acff"/><rect x="929.9" y="778.4" width="22.0" height="11.5" fill="#0056ff"/><rect x="950.6" y="778.4" width="11.7" height="11.5" fill="#00ff70"/><rect x="960.9" y="778.4" width="11.7" height="11.5" fill="#240020"/><rect x="971.3" y="778.4" width="11.7" height="11.5" fill="#ffff00"/><rect x="1012.7" y="778.4" width="11.7" height="11.5" fill="#00ff14"/><rect x="1064.5" y="778.4" width="11.7" height="11.5" fill="#00ff14"/><rect x="898.8" y="789.1" width="11.7" height="11.5" fill="#240020"/><rect x="909.1" y="789.1" width="22.0" height="11.5" fill="#00ff14"/><rect x="929.9" y="789.1" width="11.7" height="11.5" fill="#4d00c4"/><rect x="940.2" y="789.1" width="22.0" height="11.5" fill="#ffff00"/><rect x="960.9" y="789.1" width="11.7" height="11.5" fill="#00ffbc"/><rect x="1012.7" y="789.1" width="11.7" height="11.5" fill="#00ff14"/><rect x="1033.5" y="789.1" width="11.7" height="11.5" fill="#ff0000"/><rect x="1064.5" y="789.1" width="11.7" height="11.5" fill="#1900f4"/><rect x="847.0" y="799.8" width="11.7" height="11.5" fill="#1900f4"/><rect x="878.1" y="799.8" width="11.7" height="11.5" fill="#4d00c4"/><rect x="888.4" y="799.8" width="11.7" height="11.5" fill="#540081"/><rect x="909.1" y="799.8" width="11.7" height="11.5" fill="#00ff70"/><rect x="919.5" y="799.8" width="11.7" height="11.5" fill="#4d00c4"/><rect x="940.2" y="799.8" width="11.7" height="11.5" fill="#1900f4"/><rect x="950.6" y="799.8" width="11.7" height="11.5" fill="#00ffff"/><rect x="1012.7" y="799.8" width="11.7" height="11.5" fill="#540081"/><rect x="867.7" y="810.5" width="11.7" height="11.5" fill="#00acff"/><rect x="878.1" y="810.5" width="11.7" height="11.5" fill="#240020"/><rect x="888.4" y="810.5" width="11.7" height="11.5" fill="#1900f4"/><rect x="898.8" y="810.5" width="11.7" height="11.5" fill="#4d00c4"/><rect x="919.5" y="810.5" width="11.7" height="11.5" fill="#000000"/><rect x="940.2" y="810.5" width="11.7" height="11.5" fill="#540081"/><rect x="950.6" y="810.5" width="11.7" height="11.5" fill="#000000"/><rect x="960.9" y="810.5" width="11.7" height="11.5" fill="#540081"/><rect x="981.7" y="810.5" width="11.7" height="11.5" fill="#2cff00"/><rect x="867.7" y="821.2" width="11.7" height="11.5" fill="#410044"/><rect x="878.1" y="821.2" width="11.7" height="11.5" fill="#00ff14"/><rect x="888.4" y="821.2" width="22.0" height="11.5" fill="#0056ff"/><rect x="919.5" y="821.2" width="11.7" height="11.5" fill="#4d00c4"/><rect x="929.9" y="821.2" width="11.7" height="11.5" fill="#000000"/><rect x="940.2" y="821.2" width="11.7" height="11.5" fill="#00ffff"/><rect x="950.6" y="821.2" width="11.7" height="11.5" fill="#410044"/><rect x="960.9" y="821.2" width="11.7" height="11.5" fill="#540081"/><rect x="878.1" y="831.9" width="11.7" height="11.5" fill="#000000"/><rect x="971.3" y="831.9" width="11.7" height="11.5" fill="#000000"/><rect x="867.7" y="842.5" width="11.7" height="11.5" fill="#4d00c4"/><rect x="929.9" y="842.5" width="11.7" height="11.5" fill="#000000"/><rect x="929.9" y="853.2" width="11.7" height="11.5" fill="#000000"/><rect x="981.7" y="853.2" width="11.7" height="11.5" fill="#000000"/><rect x="1012.7" y="853.2" width="11.7" height="11.5" fill="#410044"/><rect x="929.9" y="863.9" width="11.7" height="11.5" fill="#000000"/><rect x="960.9" y="863.9" width="11.7" height="11.5" fill="#000000"/><rect x="1033.5" y="863.9" width="11.7" height="11.5" fill="#540081"/><rect x="867.7" y="874.6" width="11.7" height="11.5" fill="#1900f4"/><rect x="909.1" y="874.6" width="22.0" height="11.5" fill="#000000"/><rect x="992.0" y="874.6" width="11.7" height="11.5" fill="#000000"/><rect x="1023.1" y="874.6" width="11.7" height="11.5" fill="#000000"/></g>
<g shape-rendering="crispEdges"><rect x="123.9" y="885.4" width="22.0" height="11.5" fill="#000000"/><rect x="165.4" y="885.4" width="11.7" height="11.5" fill="#000000"/><rect x="196.5" y="885.4" width="11.7" height="11.5" fill="#000000"/><rect x="227.5" y="885.4" width="22.0" height="11.5" fill="#000000"/><rect x="258.6" y="885.4" width="22.0" height="11.5" fill="#240020"/><rect x="279.3" y="885.4" width="11.7" height="11.5" fill="#000000"/><rect x="82.5" y="896.1" width="11.7" height="11.5" fill="#000000"/><rect x="134.3" y="896.1" width="73.8" height="11.5" fill="#000000"/><rect x="227.5" y="896.1" width="22.0" height="11.5" fill="#000000"/><rect x="248.3" y="896.1" width="22.0" height="11.5" fill="#240020"/><rect x="269.0" y="896.1" width="22.0" height="11.5" fill="#000000"/><rect x="134.3" y="906.8" width="11.7" height="11.5" fill="#000000"/><rect x="155.0" y="906.8" width="11.7" height="11.5" fill="#240020"/><rect x="165.4" y="906.8" width="11.7" height="11.5" fill="#000000"/><rect x="175.7" y="906.8" width="11.7" height="11.5" fill="#240020"/><rect x="186.1" y="906.8" width="42.7" height="11.5" fill="#000000"/><rect x="237.9" y="906.8" width="11.7" height="11.5" fill="#000000"/><rect x="248.3" y="906.8" width="22.0" height="11.5" fill="#240020"/><rect x="269.0" y="906.8" width="22.0" height="11.5" fill="#000000"/><rect x="92.9" y="917.5" width="11.7" height="11.5" fill="#000000"/><rect x="134.3" y="917.5" width="32.4" height="11.5" fill="#000000"/><rect x="165.4" y="917.5" width="11.7" height="11.5" fill="#240020"/><rect x="175.7" y="917.5" width="22.0" height="11.5" fill="#000000"/><rect x="206.8" y="917.5" width="22.0" height="11.5" fill="#000000"/><rect x="227.5" y="917.5" width="22.0" height="11.5" fill="#240020"/><rect x="248.3" y="917.5" width="11.7" height="11.5" fill="#410044"/><rect x="258.6" y="917.5" width="11.7" height="11.5" fill="#000000"/><rect x="269.0" y="917.5" width="11.7" height="11.5" fill="#410044"/><rect x="279.3" y="917.5" width="11.7" height="11.5" fill="#240020"/><rect x="103.2" y="928.2" width="11.7" height="11.5" fill="#000000"/><rect x="144.7" y="928.2" width="11.7" height="11.5" fill="#000000"/><rect x="165.4" y="928.2" width="22.0" height="11.5" fill="#240020"/><rect x="186.1" y="928.2" width="11.7" height="11.5" fill="#000000"/><rect x="196.5" y="928.2" width="11.7" height="11.5" fill="#410044"/><rect x="206.8" y="928.2" width="22.0" height="11.5" fill="#000000"/><rect x="227.5" y="928.2" width="11.7" height="11.5" fill="#240020"/><rect x="237.9" y="928.2" width="42.7" height="11.5" fill="#410044"/><rect x="279.3" y="928.2" width="32.4" height="11.5" fill="#000000"/><rect x="103.2" y="938.9" width="11.7" height="11.5" fill="#000000"/><rect x="123.9" y="938.9" width="42.7" height="11.5" fill="#000000"/><rect x="165.4" y="938.9" width="42.7" height="11.5" fill="#240020"/><rect x="206.8" y="938.9" width="42.7" height="11.5" fill="#410044"/><rect x="248.3" y="938.9" width="11.7" height="11.5" fill="#240020"/><rect x="258.6" y="938.9" width="22.0" height="11.5" fill="#410044"/><rect x="279.3" y="938.9" width="11.7" height="11.5" fill="#240020"/><rect x="289.7" y="938.9" width="11.7" height="11.5" fill="#000000"/><rect x="82.5" y="949.5" width="11.7" height="11.5" fill="#000000"/><rect x="144.7" y="949.5" width="11.7" height="11.5" fill="#000000"/><rect x="165.4" y="949.5" width="11.7" height="11.5" fill="#240020"/><rect x="186.1" y="949.5" width="11.7" height="11.5" fill="#240020"/><rect x="196.5" y="949.5" width="63.5" height="11.5" fill="#410044"/><rect x="258.6" y="949.5" width="11.7" height="11.5" fill="#540081"/><rect x="269.0" y="949.5" width="11.7" height="11.5" fill="#410044"/><rect x="279.3" y="949.5" width="11.7" height="11.5" fill="#240020"/><rect x="289.7" y="949.5" width="11.7" height="11.5" fill="#000000"/><rect x="92.9" y="960.2" width="32.4" height="11.5" fill="#000000"/><rect x="134.3" y="960.2" width="11.7" height="11.5" fill="#000000"/><rect x="144.7" y="960.2" width="11.7" height="11.5" fill="#410044"/><rect x="155.0" y="960.2" width="11.7" height="11.5" fill="#000000"/><rect x="165.4" y="960.2" width="22.0" height="11.5" fill="#410044"/><rect x="186.1" y="960.2" width="42.7" height="11.5" fill="#240020"/><rect x="227.5" y="960.2" width="32.4" height="11.5" fill="#410044"/><rect x="258.6" y="960.2" width="11.7" height="11.5" fill="#540081"/><rect x="269.0" y="960.2" width="11.7" height="11.5" fill="#410044"/><rect x="279.3" y="960.2" width="22.0" height="11.5" fill="#240020"/><rect x="92.9" y="970.9" width="22.0" height="11.5" fill="#000000"/><rect x="123.9" y="970.9" width="22.0" height="11.5" fill="#000000"/><rect x="144.7" y="970.9" width="22.0" height="11.5" fill="#240020"/><rect x="165.4" y="970.9" width="22.0" height="11.5" fill="#410044"/><rect x="186.1" y="970.9" width="32.4" height="11.5" fill="#240020"/><rect x="217.2" y="970.9" width="22.0" height="11.5" fill="#410044"/><rect x="237.9" y="970.9" width="32.4" height="11.5" fill="#540081"/><rect x="269.0" y="970.9" width="11.7" height="11.5" fill="#410044"/><rect x="279.3" y="970.9" width="22.0" height="11.5" fill="#240020"/><rect x="300.1" y="970.9" width="11.7" height="11.5" fill="#000000"/><rect x="82.5" y="981.6" width="11.7" height="11.5" fill="#000000"/><rect x="92.9" y="981.6" width="11.7" height="11.5" fill="#240020"/><rect x="113.6" y="981.6" width="32.4" height="11.5" fill="#000000"/><rect x="144.7" y="981.6" width="32.4" height="11.5" fill="#240020"/><rect x="175.7" y="981.6" width="11.7" height="11.5" fill="#410044"/><rect x="186.1" y="981.6" width="11.7" height="11.5" fill="#540081"/><rect x="196.5" y="981.6" width="11.7" height="11.5" fill="#410044"/><rect x="206.8" y="981.6" width="11.7" height="11.5" fill="#240020"/><rect x="217.2" y="981.6" width="22.0" height="11.5" fill="#410044"/><rect x="237.9" y="981.6" width="11.7" height="11.5" fill="#540081"/><rect x="248.3" y="981.6" width="22.0" height="11.5" fill="#4d00c4"/><rect x="269.0" y="981.6" width="11.7" height="11.5" fill="#540081"/><rect x="279.3" y="981.6" width="11.7" height="11.5" fill="#410044"/><rect x="289.7" y="981.6" width="11.7" height="11.5" fill="#240020"/><rect x="310.4" y="981.6" width="11.7" height="11.5" fill="#000000"/><rect x="92.9" y="992.3" width="11.7" height="11.5" fill="#000000"/><rect x="113.6" y="992.3" width="32.4" height="11.5" fill="#000000"/><rect x="144.7" y="992.3" width="11.7" height="11.5" fill="#240020"/><rect x="155.0" y="992.3" width="22.0" height="11.5" fill="#410044"/><rect x="175.7" y="992.3" width="32.4" height="11.5" fill="#240020"/><rect x="206.8" y="992.3" width="22.0" height="11.5" fill="#410044"/><rect x="227.5" y="992.3" width="22.0" height="11.5" fill="#540081"/><rect x="248.3" y="992.3" width="11.7" height="11.5" fill="#4d00c4"/><rect x="258.6" y="992.3" width="11.7" height="11.5" fill="#1900f4"/><rect x="269.0" y="992.3" width="11.7" height="11.5" fill="#4d00c4"/><rect x="279.3" y="992.3" width="11.7" height="11.5" fill="#410044"/><rect x="289.7" y="992.3" width="11.7" height="11.5" fill="#240020"/><rect x="300.1" y="992.3" width="22.0" height="11.5" fill="#000000"/><rect x="92.9" y="1003.0" width="11.7" height="11.5" fill="#000000"/><rect x="113.6" y="1003.0" width="32.4" height="11.5" fill="#000000"/><rect x="144.7" y="1003.0" width="22.0" height="11.5" fill="#240020"/><rect x="165.4" y="1003.0" width="11.7" height="11.5" fill="#000000"/><rect x="175.7" y="1003.0" width="22.0" height="11.5" fill="#240020"/><rect x="196.5" y="1003.0" width="32.4" height="11.5" fill="#410044"/><rect x="227.5" y="1003.0" width="32.4" height="11.5" fill="#540081"/><rect x="258.6" y="1003.0" width="11.7" height="11.5" fill="#4d00c4"/><rect x="269.0" y="1003.0" width="11.7" height="11.5" fill="#0056ff"/><rect x="279.3" y="1003.0" width="11.7" height="11.5" fill="#540081"/><rect x="289.7" y="1003.0" width="11.7" height="11.5" fill="#240020"/><rect x="113.6" y="1013.7" width="32.4" height="11.5" fill="#000000"/><rect x="144.7" y="1013.7" width="42.7" height="11.5" fill="#240020"/><rect x="186.1" y="1013.7" width="11.7" height="11.5" fill="#410044"/><rect x="196.5" y="1013.7" width="11.7" height="11.5" fill="#540081"/><rect x="206.8" y="1013.7" width="32.4" height="11.5" fill="#410044"/><rect x="237.9" y="1013.7" width="11.7" height="11.5" fill="#4d00c4"/><rect x="248.3" y="1013.7" width="11.7" height="11.5" fill="#1900f4"/><rect x="258.6" y="1013.7" width="11.7" height="11.5" fill="#4d00c4"/><rect x="269.0" y="1013.7" width="11.7" height="11.5" fill="#1900f4"/><rect x="279.3" y="1013.7" width="11.7" height="11.5" fill="#540081"/><rect x="289.7" y="1013.7" width="11.7" height="11.5" fill="#240020"/><rect x="300.1" y="1013.7" width="22.0" height="11.5" fill="#000000"/><rect x="92.9" y="1024.4" width="42.7" height="11.5" fill="#000000"/><rect x="134.3" y="1024.4" width="42.7" height="11.5" fill="#240020"/><rect x="175.7" y="1024.4" width="22.0" height="11.5" fill="#410044"/><rect x="196.5" y="1024.4" width="11.7" height="11.5" fill="#540081"/><rect x="206.8" y="1024.4" width="22.0" height="11.5" fill="#410044"/><rect x="227.5" y="1024.4" width="11.7" height="11.5" fill="#540081"/><rect x="237.9" y="1024.4" width="11.7" height="11.5" fill="#1900f4"/><rect x="248.3" y="1024.4" width="11.7" height="11.5" fill="#4d00c4"/><rect x="258.6" y="1024.4" width="11.7" height="11.5" fill="#00acff"/><rect x="269.0" y="1024.4" width="11.7" height="11.5" fill="#1900f4"/><rect x="279.3" y="1024.4" width="11.7" height="11.5" fill="#540081"/><rect x="289.7" y="1024.4" width="11.7" height="11.5" fill="#240020"/><rect x="310.4" y="1024.4" width="11.7" height="11.5" fill="#000000"/><rect x="82.5" y="1035.1" width="11.7" height="11.5" fill="#000000"/><rect x="103.2" y="1035.1" width="11.7" height="11.5" fill="#000000"/><rect x="113.6" y="1035.1" width="63.5" height="11.5" fill="#240020"/><rect x="175.7" y="1035.1" width="11.7" height="11.5" fill="#410044"/><rect x="186.1" y="1035.1" width="32.4" height="11.5" fill="#540081"/><rect x="217.2" y="1035.1" width="22.0" height="11.5" fill="#4d00c4"/><rect x="237.9" y="1035.1" width="22.0" height="11.5" fill="#1900f4"/><rect x="258.6" y="1035.1" width="11.7" height="11.5" fill="#00ffff"/><rect x="269.0" y="1035.1" width="11.7" height="11.5" fill="#1900f4"/><rect x="279.3" y="1035.1" width="11.7" height="11.5" fill="#540081"/><rect x="300.1" y="1035.1" width="11.7" height="11.5" fill="#000000"/><rect x="82.5" y="1045.8" width="11.7" height="11.5" fill="#000000"/><rect x="92.9" y="1045.8" width="32.4" height="11.5" fill="#240020"/><rect x="123.9" y="1045.8" width="22.0" height="11.5" fill="#000000"/><rect x="144.7" y="1045.8" width="42.7" height="11.5" fill="#410044"/><rect x="186.1" y="1045.8" width="42.7" height="11.5" fill="#540081"/><rect x="227.5" y="1045.8" width="11.7" height="11.5" fill="#4d00c4"/><rect x="237.9" y="1045.8" width="11.7" height="11.5" fill="#0056ff"/><rect x="248.3" y="1045.8" width="11.7" height="11.5" fill="#00acff"/><rect x="258.6" y="1045.8" width="11.7" height="11.5" fill="#0056ff"/><rect x="269.0" y="1045.8" width="11.7" height="11.5" fill="#1900f4"/><rect x="279.3" y="1045.8" width="11.7" height="11.5" fill="#410044"/><rect x="289.7" y="1045.8" width="11.7" height="11.5" fill="#000000"/><rect x="310.4" y="1045.8" width="11.7" height="11.5" fill="#000000"/><rect x="82.5" y="1056.4" width="22.0" height="11.5" fill="#000000"/><rect x="103.2" y="1056.4" width="42.7" height="11.5" fill="#240020"/><rect x="144.7" y="1056.4" width="11.7" height="11.5" fill="#000000"/><rect x="155.0" y="1056.4" width="22.0" height="11.5" fill="#410044"/><rect x="175.7" y="1056.4" width="11.7" height="11.5" fill="#540081"/><rect x="186.1" y="1056.4" width="22.0" height="11.5" fill="#410044"/><rect x="206.8" y="1056.4" width="11.7" height="11.5" fill="#4d00c4"/><rect x="217.2" y="1056.4" width="11.7" height="11.5" fill="#410044"/><rect x="227.5" y="1056.4" width="11.7" height="11.5" fill="#4d00c4"/><rect x="237.9" y="1056.4" width="32.4" height="11.5" fill="#0056ff"/><rect x="269.0" y="1056.4" width="11.7" height="11.5" fill="#4d00c4"/><rect x="279.3" y="1056.4" width="11.7" height="11.5" fill="#410044"/><rect x="300.1" y="1056.4" width="11.7" height="11.5" fill="#000000"/><rect x="82.5" y="1067.1" width="22.0" height="11.5" fill="#000000"/><rect x="113.6" y="1067.1" width="11.7" height="11.5" fill="#000000"/><rect x="123.9" y="1067.1" width="22.0" height="11.5" fill="#240020"/><rect x="144.7" y="1067.1" width="32.4" height="11.5" fill="#410044"/><rect x="175.7" y="1067.1" width="32.4" height="11.5" fill="#540081"/><rect x="206.8" y="1067.1" width="22.0" height="11.5" fill="#4d00c4"/><rect x="227.5" y="1067.1" width="11.7" height="11.5" fill="#0056ff"/><rect x="237.9" y="1067.1" width="22.0" height="11.5" fill="#00acff"/><rect x="258.6" y="1067.1" width="11.7" height="11.5" fill="#0056ff"/><rect x="269.0" y="1067.1" width="11.7" height="11.5" fill="#540081"/><rect x="279.3" y="1067.1" width="11.7" height="11.5" fill="#410044"/><rect x="289.7" y="1067.1" width="42.7" height="11.5" fill="#000000"/><rect x="92.9" y="1077.8" width="11.7" height="11.5" fill="#240020"/><rect x="103.2" y="1077.8" width="11.7" height="11.5" fill="#000000"/><rect x="113.6" y="1077.8" width="32.4" height="11.5" fill="#240020"/><rect x="144.7" y="1077.8" width="11.7" height="11.5" fill="#410044"/><rect x="155.0" y="1077.8" width="11.7" height="11.5" fill="#240020"/><rect x="165.4" y="1077.8" width="22.0" height="11.5" fill="#410044"/><rect x="186.1" y="1077.8" width="22.0" height="11.5" fill="#540081"/><rect x="206.8" y="1077.8" width="22.0" height="11.5" fill="#4d00c4"/><rect x="227.5" y="1077.8" width="11.7" height="11.5" fill="#1900f4"/><rect x="237.9" y="1077.8" width="11.7" height="11.5" fill="#0056ff"/><rect x="248.3" y="1077.8" width="11.7" height="11.5" fill="#1900f4"/><rect x="258.6" y="1077.8" width="11.7" height="11.5" fill="#540081"/><rect x="269.0" y="1077.8" width="11.7" height="11.5" fill="#410044"/><rect x="279.3" y="1077.8" width="11.7" height="11.5" fill="#000000"/><rect x="300.1" y="1077.8" width="22.0" height="11.5" fill="#000000"/><rect x="103.2" y="1088.5" width="11.7" height="11.5" fill="#000000"/><rect x="113.6" y="1088.5" width="32.4" height="11.5" fill="#240020"/><rect x="144.7" y="1088.5" width="22.0" height="11.5" fill="#410044"/><rect x="165.4" y="1088.5" width="22.0" height="11.5" fill="#540081"/><rect x="186.1" y="1088.5" width="11.7" height="11.5" fill="#4d00c4"/><rect x="196.5" y="1088.5" width="11.7" height="11.5" fill="#240020"/><rect x="206.8" y="1088.5" width="22.0" height="11.5" fill="#4d00c4"/><rect x="227.5" y="1088.5" width="11.7" height="11.5" fill="#1900f4"/><rect x="237.9" y="1088.5" width="22.0" height="11.5" fill="#540081"/><rect x="258.6" y="1088.5" width="22.0" height="11.5" fill="#410044"/><rect x="279.3" y="1088.5" width="22.0" height="11.5" fill="#000000"/><rect x="103.2" y="1099.2" width="22.0" height="11.5" fill="#000000"/><rect x="123.9" y="1099.2" width="22.0" height="11.5" fill="#240020"/><rect x="144.7" y="1099.2" width="11.7" height="11.5" fill="#410044"/><rect x="155.0" y="1099.2" width="42.7" height="11.5" fill="#540081"/><rect x="196.5" y="1099.2" width="11.7" height="11.5" fill="#4d00c4"/><rect x="206.8" y="1099.2" width="11.7" height="11.5" fill="#1900f4"/><rect x="217.2" y="1099.2" width="22.0" height="11.5" fill="#540081"/><rect x="237.9" y="1099.2" width="11.7" height="11.5" fill="#4d00c4"/><rect x="248.3" y="1099.2" width="22.0" height="11.5" fill="#540081"/><rect x="269.0" y="1099.2" width="11.7" height="11.5" fill="#410044"/><rect x="279.3" y="1099.2" width="11.7" height="11.5" fill="#000000"/><rect x="103.2" y="1109.9" width="11.7" height="11.5" fill="#000000"/><rect x="123.9" y="1109.9" width="11.7" height="11.5" fill="#000000"/><rect x="134.3" y="1109.9" width="32.4" height="11.5" fill="#410044"/><rect x="165.4" y="1109.9" width="42.7" height="11.5" fill="#540081"/><rect x="206.8" y="1109.9" width="22.0" height="11.5" fill="#410044"/><rect x="227.5" y="1109.9" width="11.7" height="11.5" fill="#540081"/><rect x="237.9" y="1109.9" width="11.7" height="11.5" fill="#410044"/><rect x="248.3" y="1109.9" width="22.0" height="11.5" fill="#240020"/><rect x="269.0" y="1109.9" width="32.4" height="11.5" fill="#000000"/><rect x="103.2" y="1120.6" width="32.4" height="11.5" fill="#000000"/><rect x="144.7" y="1120.6" width="11.7" height="11.5" fill="#240020"/><rect x="155.0" y="1120.6" width="32.4" height="11.5" fill="#410044"/><rect x="186.1" y="1120.6" width="11.7" height="11.5" fill="#4d00c4"/><rect x="196.5" y="1120.6" width="32.4" height="11.5" fill="#540081"/><rect x="227.5" y="1120.6" width="22.0" height="11.5" fill="#410044"/><rect x="248.3" y="1120.6" width="22.0" height="11.5" fill="#240020"/><rect x="269.0" y="1120.6" width="11.7" height="11.5" fill="#000000"/><rect x="279.3" y="1120.6" width="11.7" height="11.5" fill="#240020"/><rect x="331.1" y="1120.6" width="11.7" height="11.5" fill="#000000"/><rect x="123.9" y="1131.3" width="22.0" height="11.5" fill="#000000"/><rect x="144.7" y="1131.3" width="11.7" height="11.5" fill="#240020"/><rect x="155.0" y="1131.3" width="11.7" height="11.5" fill="#410044"/><rect x="165.4" y="1131.3" width="22.0" height="11.5" fill="#540081"/><rect x="186.1" y="1131.3" width="11.7" height="11.5" fill="#4d00c4"/><rect x="196.5" y="1131.3" width="11.7" height="11.5" fill="#540081"/><rect x="206.8" y="1131.3" width="32.4" height="11.5" fill="#410044"/><rect x="237.9" y="1131.3" width="32.4" height="11.5" fill="#240020"/><rect x="269.0" y="1131.3" width="11.7" height="11.5" fill="#000000"/><rect x="144.7" y="1142.0" width="22.0" height="11.5" fill="#000000"/><rect x="165.4" y="1142.0" width="11.7" height="11.5" fill="#240020"/><rect x="175.7" y="1142.0" width="11.7" height="11.5" fill="#540081"/><rect x="186.1" y="1142.0" width="11.7" height="11.5" fill="#410044"/><rect x="196.5" y="1142.0" width="11.7" height="11.5" fill="#540081"/><rect x="206.8" y="1142.0" width="22.0" height="11.5" fill="#410044"/><rect x="227.5" y="1142.0" width="11.7" height="11.5" fill="#240020"/><rect x="237.9" y="1142.0" width="11.7" height="11.5" fill="#410044"/><rect x="248.3" y="1142.0" width="11.7" height="11.5" fill="#240020"/><rect x="258.6" y="1142.0" width="32.4" height="11.5" fill="#000000"/><rect x="134.3" y="1152.7" width="32.4" height="11.5" fill="#000000"/><rect x="165.4" y="1152.7" width="11.7" height="11.5" fill="#240020"/><rect x="175.7" y="1152.7" width="53.1" height="11.5" fill="#410044"/><rect x="227.5" y="1152.7" width="11.7" height="11.5" fill="#240020"/><rect x="237.9" y="1152.7" width="63.5" height="11.5" fill="#000000"/><rect x="351.9" y="1152.7" width="11.7" height="11.5" fill="#000000"/><rect x="165.4" y="1163.3" width="32.4" height="11.5" fill="#000000"/><rect x="206.8" y="1163.3" width="32.4" height="11.5" fill="#240020"/><rect x="237.9" y="1163.3" width="11.7" height="11.5" fill="#000000"/><rect x="269.0" y="1163.3" width="22.0" height="11.5" fill="#000000"/><rect x="175.7" y="1174.0" width="11.7" height="11.5" fill="#240020"/><rect x="196.5" y="1174.0" width="32.4" height="11.5" fill="#000000"/><rect x="258.6" y="1174.0" width="22.0" height="11.5" fill="#000000"/><rect x="165.4" y="1184.7" width="11.7" height="11.5" fill="#000000"/><rect x="175.7" y="1184.7" width="11.7" height="11.5" fill="#240020"/><rect x="206.8" y="1184.7" width="32.4" height="11.5" fill="#000000"/><rect x="269.0" y="1184.7" width="11.7" height="11.5" fill="#000000"/><rect x="351.9" y="1184.7" width="11.7" height="11.5" fill="#000000"/><rect x="217.2" y="1195.4" width="11.7" height="11.5" fill="#000000"/></g>
<g shape-rendering="crispEdges"><rect x="639.8" y="885.4" width="32.4" height="11.5" fill="#000000"/><rect x="639.8" y="896.1" width="22.0" height="11.5" fill="#000000"/><rect x="681.2" y="896.1" width="11.7" height="11.5" fill="#000000"/><rect x="608.7" y="906.8" width="11.7" height="11.5" fill="#000000"/><rect x="660.5" y="906.8" width="22.0" height="11.5" fill="#000000"/><rect x="463.7" y="917.5" width="11.7" height="11.5" fill="#000000"/><rect x="567.3" y="917.5" width="11.7" height="11.5" fill="#000000"/><rect x="629.4" y="917.5" width="11.7" height="11.5" fill="#240020"/><rect x="639.8" y="917.5" width="22.0" height="11.5" fill="#000000"/><rect x="660.5" y="917.5" width="11.7" height="11.5" fill="#240020"/><rect x="670.9" y="917.5" width="22.0" height="11.5" fill="#000000"/><rect x="577.6" y="928.2" width="11.7" height="11.5" fill="#000000"/><rect x="619.1" y="928.2" width="11.7" height="11.5" fill="#000000"/><rect x="629.4" y="928.2" width="11.7" height="11.5" fill="#240020"/><rect x="639.8" y="928.2" width="22.0" height="11.5" fill="#410044"/><rect x="660.5" y="928.2" width="11.7" height="11.5" fill="#000000"/><rect x="681.2" y="928.2" width="11.7" height="11.5" fill="#000000"/><rect x="536.2" y="938.9" width="22.0" height="11.5" fill="#000000"/><rect x="567.3" y="938.9" width="22.0" height="11.5" fill="#000000"/><rect x="598.3" y="938.9" width="22.0" height="11.5" fill="#000000"/><rect x="619.1" y="938.9" width="11.7" height="11.5" fill="#240020"/><rect x="629.4" y="938.9" width="22.0" height="11.5" fill="#540081"/><rect x="650.1" y="938.9" width="22.0" height="11.5" fill="#410044"/><rect x="670.9" y="938.9" width="11.7" height="11.5" fill="#000000"/><rect x="525.8" y="949.5" width="22.0" height="11.5" fill="#000000"/><rect x="577.6" y="949.5" width="11.7" height="11.5" fill="#000000"/><rect x="598.3" y="949.5" width="11.7" height="11.5" fill="#240020"/><rect x="608.7" y="949.5" width="11.7" height="11.5" fill="#410044"/><rect x="619.1" y="949.5" width="11.7" height="11.5" fill="#240020"/><rect x="629.4" y="949.5" width="11.7" height="11.5" fill="#540081"/><rect x="639.8" y="949.5" width="11.7" height="11.5" fill="#4d00c4"/><rect x="650.1" y="949.5" width="11.7" height="11.5" fill="#540081"/><rect x="660.5" y="949.5" width="11.7" height="11.5" fill="#410044"/><rect x="681.2" y="949.5" width="11.7" height="11.5" fill="#000000"/><rect x="505.1" y="960.2" width="11.7" height="11.5" fill="#000000"/><rect x="525.8" y="960.2" width="32.4" height="11.5" fill="#000000"/><rect x="567.3" y="960.2" width="32.4" height="11.5" fill="#240020"/><rect x="598.3" y="960.2" width="22.0" height="11.5" fill="#410044"/><rect x="619.1" y="960.2" width="22.0" height="11.5" fill="#540081"/><rect x="639.8" y="960.2" width="11.7" height="11.5" fill="#0056ff"/><rect x="650.1" y="960.2" width="11.7" height="11.5" fill="#1900f4"/><rect x="660.5" y="960.2" width="11.7" height="11.5" fill="#410044"/><rect x="670.9" y="960.2" width="11.7" height="11.5" fill="#240020"/><rect x="474.0" y="970.9" width="11.7" height="11.5" fill="#000000"/><rect x="525.8" y="970.9" width="42.7" height="11.5" fill="#000000"/><rect x="567.3" y="970.9" width="32.4" height="11.5" fill="#240020"/><rect x="598.3" y="970.9" width="11.7" height="11.5" fill="#410044"/><rect x="608.7" y="970.9" width="11.7" height="11.5" fill="#540081"/><rect x="619.1" y="970.9" width="11.7" height="11.5" fill="#1900f4"/><rect x="629.4" y="970.9" width="11.7" height="11.5" fill="#00acff"/><rect x="639.8" y="970.9" width="11.7" height="11.5" fill="#00ff80"/><rect x="650.1" y="970.9" width="11.7" height="11.5" fill="#4d00c4"/><rect x="660.5" y="970.9" width="11.7" height="11.5" fill="#240020"/><rect x="453.3" y="981.6" width="22.0" height="11.5" fill="#000000"/><rect x="484.4" y="981.6" width="22.0" height="11.5" fill="#000000"/><rect x="525.8" y="981.6" width="32.4" height="11.5" fill="#000000"/><rect x="556.9" y="981.6" width="32.4" height="11.5" fill="#240020"/><rect x="588.0" y="981.6" width="11.7" height="11.5" fill="#410044"/><rect x="598.3" y="981.6" width="11.7" height="11.5" fill="#540081"/><rect x="608.7" y="981.6" width="11.7" height="11.5" fill="#1900f4"/><rect x="619.1" y="981.6" width="11.7" height="11.5" fill="#00ff80"/><rect x="629.4" y="981.6" width="11.7" height="11.5" fill="#00ff00"/><rect x="639.8" y="981.6" width="11.7" height="11.5" fill="#00ffff"/><rect x="650.1" y="981.6" width="11.7" height="11.5" fill="#4d00c4"/><rect x="660.5" y="981.6" width="11.7" height="11.5" fill="#410044"/><rect x="670.9" y="981.6" width="11.7" height="11.5" fill="#240020"/><rect x="463.7" y="992.3" width="11.7" height="11.5" fill="#000000"/><rect x="484.4" y="992.3" width="22.0" height="11.5" fill="#000000"/><rect x="515.5" y="992.3" width="32.4" height="11.5" fill="#240020"/><rect x="546.5" y="992.3" width="11.7" height="11.5" fill="#000000"/><rect x="556.9" y="992.3" width="22.0" height="11.5" fill="#240020"/><rect x="577.6" y="992.3" width="11.7" height="11.5" fill="#410044"/><rect x="588.0" y="992.3" width="22.0" height="11.5" fill="#4d00c4"/><rect x="608.7" y="992.3" width="11.7" height="11.5" fill="#00acff"/><rect x="619.1" y="992.3" width="11.7" height="11.5" fill="#00ff80"/><rect x="629.4" y="992.3" width="11.7" height="11.5" fill="#00ff00"/><rect x="639.8" y="992.3" width="11.7" height="11.5" fill="#1900f4"/><rect x="650.1" y="992.3" width="11.7" height="11.5" fill="#410044"/><rect x="660.5" y="992.3" width="11.7" height="11.5" fill="#000000"/><rect x="453.3" y="1003.0" width="11.7" height="11.5" fill="#000000"/><rect x="484.4" y="1003.0" width="32.4" height="11.5" fill="#000000"/><rect x="515.5" y="1003.0" width="22.0" height="11.5" fill="#240020"/><rect x="536.2" y="1003.0" width="11.7" height="11.5" fill="#410044"/><rect x="546.5" y="1003.0" width="11.7" height="11.5" fill="#000000"/><rect x="556.9" y="1003.0" width="32.4" height="11.5" fill="#410044"/><rect x="588.0" y="1003.0" width="11.7" height="11.5" fill="#540081"/><rect x="598.3" y="1003.0" width="11.7" height="11.5" fill="#1900f4"/><rect x="608.7" y="1003.0" width="22.0" height="11.5" fill="#00ff00"/><rect x="629.4" y="1003.0" width="11.7" height="11.5" fill="#00acff"/><rect x="639.8" y="1003.0" width="11.7" height="11.5" fill="#1900f4"/><rect x="650.1" y="1003.0" width="11.7" height="11.5" fill="#540081"/><rect x="660.5" y="1003.0" width="22.0" height="11.5" fill="#000000"/><rect x="453.3" y="1013.7" width="42.7" height="11.5" fill="#000000"/><rect x="505.1" y="1013.7" width="11.7" height="11.5" fill="#000000"/><rect x="515.5" y="1013.7" width="32.4" height="11.5" fill="#240020"/><rect x="546.5" y="1013.7" width="32.4" height="11.5" fill="#410044"/><rect x="577.6" y="1013.7" width="22.0" height="11.5" fill="#540081"/><rect x="598.3" y="1013.7" width="42.7" height="11.5" fill="#0056ff"/><rect x="639.8" y="1013.7" width="11.7" height="11.5" fill="#540081"/><rect x="650.1" y="1013.7" width="11.7" height="11.5" fill="#240020"/><rect x="660.5" y="1013.7" width="11.7" height="11.5" fill="#000000"/><rect x="681.2" y="1013.7" width="11.7" height="11.5" fill="#000000"/><rect x="463.7" y="1024.4" width="42.7" height="11.5" fill="#000000"/><rect x="505.1" y="1024.4" width="22.0" height="11.5" fill="#240020"/><rect x="525.8" y="1024.4" width="11.7" height="11.5" fill="#000000"/><rect x="536.2" y="1024.4" width="22.0" height="11.5" fill="#410044"/><rect x="556.9" y="1024.4" width="32.4" height="11.5" fill="#540081"/><rect x="588.0" y="1024.4" width="11.7" height="11.5" fill="#4d00c4"/><rect x="598.3" y="1024.4" width="11.7" height="11.5" fill="#1900f4"/><rect x="608.7" y="1024.4" width="11.7" height="11.5" fill="#00ffff"/><rect x="619.1" y="1024.4" width="11.7" height="11.5" fill="#1900f4"/><rect x="629.4" y="1024.4" width="11.7" height="11.5" fill="#4d00c4"/><rect x="639.8" y="1024.4" width="11.7" height="11.5" fill="#540081"/><rect x="650.1" y="1024.4" width="11.7" height="11.5" fill="#410044"/><rect x="660.5" y="1024.4" width="11.7" height="11.5" fill="#000000"/><rect x="681.2" y="1024.4" width="11.7" height="11.5" fill="#000000"/><rect x="463.7" y="1035.1" width="53.1" height="11.5" fill="#000000"/><rect x="515.5" y="1035.1" width="22.0" height="11.5" fill="#410044"/><rect x="536.2" y="1035.1" width="11.7" height="11.5" fill="#240020"/><rect x="546.5" y="1035.1" width="22.0" height="11.5" fill="#410044"/><rect x="567.3" y="1035.1" width="11.7" height="11.5" fill="#540081"/><rect x="577.6" y="1035.1" width="11.7" height="11.5" fill="#1900f4"/><rect x="588.0" y="1035.1" width="11.7" height="11.5" fill="#540081"/><rect x="598.3" y="1035.1" width="32.4" height="11.5" fill="#1900f4"/><rect x="629.4" y="1035.1" width="11.7" height="11.5" fill="#4d00c4"/><rect x="639.8" y="1035.1" width="11.7" height="11.5" fill="#540081"/><rect x="650.1" y="1035.1" width="11.7" height="11.5" fill="#240020"/><rect x="463.7" y="1045.8" width="11.7" height="11.5" fill="#000000"/><rect x="474.0" y="1045.8" width="22.0" height="11.5" fill="#240020"/><rect x="494.7" y="1045.8" width="53.1" height="11.5" fill="#410044"/><rect x="546.5" y="1045.8" width="32.4" height="11.5" fill="#540081"/><rect x="577.6" y="1045.8" width="42.7" height="11.5" fill="#1900f4"/><rect x="619.1" y="1045.8" width="11.7" height="11.5" fill="#540081"/><rect x="629.4" y="1045.8" width="11.7" height="11.5" fill="#410044"/><rect x="639.8" y="1045.8" width="11.7" height="11.5" fill="#240020"/><rect x="650.1" y="1045.8" width="11.7" height="11.5" fill="#000000"/><rect x="670.9" y="1045.8" width="11.7" height="11.5" fill="#000000"/><rect x="453.3" y="1056.4" width="32.4" height="11.5" fill="#000000"/><rect x="484.4" y="1056.4" width="11.7" height="11.5" fill="#240020"/><rect x="494.7" y="1056.4" width="22.0" height="11.5" fill="#410044"/><rect x="515.5" y="1056.4" width="11.7" height="11.5" fill="#000000"/><rect x="525.8" y="1056.4" width="11.7" height="11.5" fill="#410044"/><rect x="536.2" y="1056.4" width="11.7" height="11.5" fill="#4d00c4"/><rect x="546.5" y="1056.4" width="11.7" height="11.5" fill="#1900f4"/><rect x="556.9" y="1056.4" width="22.0" height="11.5" fill="#4d00c4"/><rect x="577.6" y="1056.4" width="32.4" height="11.5" fill="#1900f4"/><rect x="608.7" y="1056.4" width="11.7" height="11.5" fill="#4d00c4"/><rect x="619.1" y="1056.4" width="11.7" height="11.5" fill="#240020"/><rect x="629.4" y="1056.4" width="11.7" height="11.5" fill="#410044"/><rect x="639.8" y="1056.4" width="32.4" height="11.5" fill="#000000"/><rect x="701.9" y="1056.4" width="11.7" height="11.5" fill="#000000"/><rect x="463.7" y="1067.1" width="22.0" height="11.5" fill="#000000"/><rect x="484.4" y="1067.1" width="32.4" height="11.5" fill="#240020"/><rect x="515.5" y="1067.1" width="11.7" height="11.5" fill="#410044"/><rect x="525.8" y="1067.1" width="11.7" height="11.5" fill="#540081"/><rect x="536.2" y="1067.1" width="53.1" height="11.5" fill="#4d00c4"/><rect x="588.0" y="1067.1" width="11.7" height="11.5" fill="#1900f4"/><rect x="598.3" y="1067.1" width="11.7" height="11.5" fill="#4d00c4"/><rect x="608.7" y="1067.1" width="11.7" height="11.5" fill="#540081"/><rect x="619.1" y="1067.1" width="22.0" height="11.5" fill="#240020"/><rect x="639.8" y="1067.1" width="22.0" height="11.5" fill="#000000"/><rect x="670.9" y="1067.1" width="11.7" height="11.5" fill="#000000"/><rect x="453.3" y="1077.8" width="22.0" height="11.5" fill="#000000"/><rect x="474.0" y="1077.8" width="11.7" height="11.5" fill="#240020"/><rect x="484.4" y="1077.8" width="11.7" height="11.5" fill="#000000"/><rect x="494.7" y="1077.8" width="22.0" height="11.5" fill="#240020"/><rect x="515.5" y="1077.8" width="22.0" height="11.5" fill="#410044"/><rect x="536.2" y="1077.8" width="11.7" height="11.5" fill="#540081"/><rect x="546.5" y="1077.8" width="11.7" height="11.5" fill="#4d00c4"/><rect x="556.9" y="1077.8" width="22.0" height="11.5" fill="#1900f4"/><rect x="577.6" y="1077.8" width="22.0" height="11.5" fill="#4d00c4"/><rect x="598.3" y="1077.8" width="11.7" height="11.5" fill="#540081"/><rect x="608.7" y="1077.8" width="11.7" height="11.5" fill="#410044"/><rect x="619.1" y="1077.8" width="22.0" height="11.5" fill="#240020"/><rect x="639.8" y="1077.8" width="22.0" height="11.5" fill="#000000"/><rect x="691.6" y="1077.8" width="11.7" height="11.5" fill="#000000"/><rect x="453.3" y="1088.5" width="53.1" height="11.5" fill="#000000"/><rect x="505.1" y="1088.5" width="11.7" height="11.5" fill="#240020"/><rect x="515.5" y="1088.5" width="32.4" height="11.5" fill="#410044"/><rect x="546.5" y="1088.5" width="11.7" height="11.5" fill="#4d00c4"/><rect x="556.9" y="1088.5" width="11.7" height="11.5" fill="#1900f4"/><rect x="567.3" y="1088.5" width="11.7" height="11.5" fill="#4d00c4"/><rect x="577.6" y="1088.5" width="22.0" height="11.5" fill="#540081"/><rect x="598.3" y="1088.5" width="11.7" height="11.5" fill="#240020"/><rect x="608.7" y="1088.5" width="11.7" height="11.5" fill="#410044"/><rect x="619.1" y="1088.5" width="22.0" height="11.5" fill="#240020"/><rect x="639.8" y="1088.5" width="22.0" height="11.5" fill="#000000"/><rect x="453.3" y="1099.2" width="53.1" height="11.5" fill="#000000"/><rect x="505.1" y="1099.2" width="32.4" height="11.5" fill="#410044"/><rect x="536.2" y="1099.2" width="73.8" height="11.5" fill="#540081"/><rect x="608.7" y="1099.2" width="11.7" height="11.5" fill="#410044"/><rect x="619.1" y="1099.2" width="11.7" height="11.5" fill="#240020"/><rect x="629.4" y="1099.2" width="11.7" height="11.5" fill="#000000"/><rect x="650.1" y="1099.2" width="11.7" height="11.5" fill="#000000"/><rect x="474.0" y="1109.9" width="11.7" height="11.5" fill="#000000"/><rect x="494.7" y="1109.9" width="22.0" height="11.5" fill="#240020"/><rect x="515.5" y="1109.9" width="11.7" height="11.5" fill="#410044"/><rect x="525.8" y="1109.9" width="22.0" height="11.5" fill="#540081"/><rect x="546.5" y="1109.9" width="11.7" height="11.5" fill="#410044"/><rect x="556.9" y="1109.9" width="42.7" height="11.5" fill="#540081"/><rect x="598.3" y="1109.9" width="11.7" height="11.5" fill="#410044"/><rect x="608.7" y="1109.9" width="22.0" height="11.5" fill="#240020"/><rect x="650.1" y="1109.9" width="11.7" height="11.5" fill="#000000"/><rect x="474.0" y="1120.6" width="22.0" height="11.5" fill="#000000"/><rect x="505.1" y="1120.6" width="22.0" height="11.5" fill="#240020"/><rect x="525.8" y="1120.6" width="11.7" height="11.5" fill="#410044"/><rect x="536.2" y="1120.6" width="11.7" height="11.5" fill="#540081"/><rect x="546.5" y="1120.6" width="11.7" height="11.5" fill="#410044"/><rect x="556.9" y="1120.6" width="22.0" height="11.5" fill="#540081"/><rect x="577.6" y="1120.6" width="32.4" height="11.5" fill="#410044"/><rect x="608.7" y="1120.6" width="11.7" height="11.5" fill="#240020"/><rect x="619.1" y="1120.6" width="22.0" height="11.5" fill="#000000"/><rect x="453.3" y="1131.3" width="11.7" height="11.5" fill="#000000"/><rect x="484.4" y="1131.3" width="22.0" height="11.5" fill="#000000"/><rect x="505.1" y="1131.3" width="22.0" height="11.5" fill="#240020"/><rect x="525.8" y="1131.3" width="22.0" height="11.5" fill="#410044"/><rect x="546.5" y="1131.3" width="22.0" height="11.5" fill="#540081"/><rect x="567.3" y="1131.3" width="11.7" height="11.5" fill="#410044"/><rect x="577.6" y="1131.3" width="11.7" height="11.5" fill="#540081"/><rect x="588.0" y="1131.3" width="22.0" height="11.5" fill="#410044"/><rect x="608.7" y="1131.3" width="11.7" height="11.5" fill="#240020"/><rect x="619.1" y="1131.3" width="53.1" height="11.5" fill="#000000"/><rect x="463.7" y="1142.0" width="11.7" height="11.5" fill="#000000"/><rect x="484.4" y="1142.0" width="11.7" height="11.5" fill="#000000"/><rect x="505.1" y="1142.0" width="11.7" height="11.5" fill="#000000"/><rect x="515.5" y="1142.0" width="32.4" height="11.5" fill="#240020"/><rect x="546.5" y="1142.0" width="53.1" height="11.5" fill="#410044"/><rect x="598.3" y="1142.0" width="11.7" height="11.5" fill="#240020"/><rect x="619.1" y="1142.0" width="11.7" height="11.5" fill="#000000"/><rect x="639.8" y="1142.0" width="11.7" height="11.5" fill="#000000"/><rect x="494.7" y="1152.7" width="11.7" height="11.5" fill="#000000"/><rect x="546.5" y="1152.7" width="11.7" height="11.5" fill="#000000"/><rect x="556.9" y="1152.7" width="22.0" height="11.5" fill="#240020"/><rect x="588.0" y="1152.7" width="22.0" height="11.5" fill="#240020"/><rect x="608.7" y="1152.7" width="42.7" height="11.5" fill="#000000"/><rect x="494.7" y="1163.3" width="11.7" height="11.5" fill="#000000"/><rect x="515.5" y="1163.3" width="11.7" height="11.5" fill="#000000"/><rect x="536.2" y="1163.3" width="84.2" height="11.5" fill="#000000"/><rect x="629.4" y="1163.3" width="22.0" height="11.5" fill="#000000"/><rect x="494.7" y="1174.0" width="11.7" height="11.5" fill="#000000"/><rect x="536.2" y="1174.0" width="22.0" height="11.5" fill="#000000"/><rect x="598.3" y="1174.0" width="11.7" height="11.5" fill="#000000"/><rect x="463.7" y="1184.7" width="11.7" height="11.5" fill="#000000"/><rect x="494.7" y="1184.7" width="11.7" height="11.5" fill="#000000"/><rect x="515.5" y="1184.7" width="11.7" height="11.5" fill="#000000"/><rect x="536.2" y="1184.7" width="32.4" height="11.5" fill="#000000"/><rect x="598.3" y="1184.7" width="22.0" height="11.5" fill="#000000"/><rect x="546.5" y="1195.4" width="11.7" height="11.5" fill="#000000"/><rect x="639.8" y="1195.4" width="11.7" height="11.5" fill="#000000"/></g>
<g shape-rendering="crispEdges"><rect x="950.6" y="885.4" width="11.7" height="11.5" fill="#ffff00"/><rect x="960.9" y="885.4" width="11.7" height="11.5" fill="#ff3e00"/><rect x="971.3" y="885.4" width="11.7" height="11.5" fill="#ff0000"/><rect x="950.6" y="896.1" width="11.7" height="11.5" fill="#80ff00"/><rect x="960.9" y="896.1" width="11.7" height="11.5" fill="#ffff00"/><rect x="992.0" y="896.1" width="11.7" height="11.5" fill="#ff0000"/><rect x="919.5" y="906.8" width="11.7" height="11.5" fill="#ffff00"/><rect x="971.3" y="906.8" width="11.7" height="11.5" fill="#ffc900"/><rect x="981.7" y="906.8" width="11.7" height="11.5" fill="#ff0000"/><rect x="774.5" y="917.5" width="11.7" height="11.5" fill="#ff8f00"/><rect x="878.1" y="917.5" width="11.7" height="11.5" fill="#72ff00"/><rect x="940.2" y="917.5" width="11.7" height="11.5" fill="#ff3e00"/><rect x="950.6" y="917.5" width="11.7" height="11.5" fill="#ff0000"/><rect x="960.9" y="917.5" width="11.7" height="11.5" fill="#ff8f00"/><rect x="971.3" y="917.5" width="11.7" height="11.5" fill="#ffff00"/><rect x="981.7" y="917.5" width="11.7" height="11.5" fill="#ff0000"/><rect x="992.0" y="917.5" width="11.7" height="11.5" fill="#ffff00"/><rect x="888.4" y="928.2" width="11.7" height="11.5" fill="#32ff00"/><rect x="929.9" y="928.2" width="11.7" height="11.5" fill="#32ff00"/><rect x="940.2" y="928.2" width="11.7" height="11.5" fill="#80ff00"/><rect x="950.6" y="928.2" width="11.7" height="11.5" fill="#ff8f00"/><rect x="960.9" y="928.2" width="11.7" height="11.5" fill="#ffc900"/><rect x="971.3" y="928.2" width="11.7" height="11.5" fill="#ff0000"/><rect x="992.0" y="928.2" width="11.7" height="11.5" fill="#ff0000"/><rect x="847.0" y="938.9" width="11.7" height="11.5" fill="#ff8f00"/><rect x="857.3" y="938.9" width="11.7" height="11.5" fill="#ffff00"/><rect x="878.1" y="938.9" width="11.7" height="11.5" fill="#ffc900"/><rect x="888.4" y="938.9" width="11.7" height="11.5" fill="#32ff00"/><rect x="909.1" y="938.9" width="22.0" height="11.5" fill="#32ff00"/><rect x="929.9" y="938.9" width="11.7" height="11.5" fill="#80ff00"/><rect x="940.2" y="938.9" width="11.7" height="11.5" fill="#72ff00"/><rect x="950.6" y="938.9" width="11.7" height="11.5" fill="#80ff00"/><rect x="960.9" y="938.9" width="22.0" height="11.5" fill="#ff8f00"/><rect x="981.7" y="938.9" width="11.7" height="11.5" fill="#80ff00"/><rect x="836.6" y="949.5" width="11.7" height="11.5" fill="#72ff00"/><rect x="847.0" y="949.5" width="11.7" height="11.5" fill="#ff0000"/><rect x="888.4" y="949.5" width="11.7" height="11.5" fill="#80ff00"/><rect x="909.1" y="949.5" width="11.7" height="11.5" fill="#72ff00"/><rect x="919.5" y="949.5" width="11.7" height="11.5" fill="#80ff00"/><rect x="929.9" y="949.5" width="22.0" height="11.5" fill="#ffc900"/><rect x="950.6" y="949.5" width="22.0" height="11.5" fill="#ff8f00"/><rect x="971.3" y="949.5" width="11.7" height="11.5" fill="#ff0000"/><rect x="992.0" y="949.5" width="11.7" height="11.5" fill="#ff3e00"/><rect x="815.9" y="960.2" width="11.7" height="11.5" fill="#ff0000"/><rect x="836.6" y="960.2" width="11.7" height="11.5" fill="#ff3e00"/><rect x="847.0" y="960.2" width="11.7" height="11.5" fill="#80ff00"/><rect x="857.3" y="960.2" width="11.7" height="11.5" fill="#ff8f00"/><rect x="878.1" y="960.2" width="11.7" height="11.5" fill="#ff3e00"/><rect x="888.4" y="960.2" width="11.7" height="11.5" fill="#ffff00"/><rect x="898.8" y="960.2" width="11.7" height="11.5" fill="#ffc900"/><rect x="909.1" y="960.2" width="22.0" height="11.5" fill="#72ff00"/><rect x="929.9" y="960.2" width="11.7" height="11.5" fill="#80ff00"/><rect x="940.2" y="960.2" width="11.7" height="11.5" fill="#ffc900"/><rect x="950.6" y="960.2" width="11.7" height="11.5" fill="#ff3e00"/><rect x="960.9" y="960.2" width="32.4" height="11.5" fill="#ff0000"/><rect x="784.8" y="970.9" width="11.7" height="11.5" fill="#32ff00"/><rect x="836.6" y="970.9" width="11.7" height="11.5" fill="#ff0000"/><rect x="847.0" y="970.9" width="11.7" height="11.5" fill="#32ff00"/><rect x="857.3" y="970.9" width="11.7" height="11.5" fill="#ff0000"/><rect x="867.7" y="970.9" width="11.7" height="11.5" fill="#ffc900"/><rect x="878.1" y="970.9" width="11.7" height="11.5" fill="#ff0000"/><rect x="888.4" y="970.9" width="11.7" height="11.5" fill="#72ff00"/><rect x="898.8" y="970.9" width="22.0" height="11.5" fill="#32ff00"/><rect x="919.5" y="970.9" width="11.7" height="11.5" fill="#ffff00"/><rect x="929.9" y="970.9" width="11.7" height="11.5" fill="#80ff00"/><rect x="940.2" y="970.9" width="11.7" height="11.5" fill="#ffc900"/><rect x="950.6" y="970.9" width="11.7" height="11.5" fill="#ff3e00"/><rect x="960.9" y="970.9" width="22.0" height="11.5" fill="#ff0000"/><rect x="764.1" y="981.6" width="22.0" height="11.5" fill="#72ff00"/><rect x="795.2" y="981.6" width="11.7" height="11.5" fill="#ffc900"/><rect x="805.5" y="981.6" width="11.7" height="11.5" fill="#32ff00"/><rect x="836.6" y="981.6" width="11.7" height="11.5" fill="#ff0000"/><rect x="847.0" y="981.6" width="11.7" height="11.5" fill="#80ff00"/><rect x="857.3" y="981.6" width="11.7" height="11.5" fill="#ff3e00"/><rect x="867.7" y="981.6" width="11.7" height="11.5" fill="#72ff00"/><rect x="878.1" y="981.6" width="11.7" height="11.5" fill="#80ff00"/><rect x="888.4" y="981.6" width="11.7" height="11.5" fill="#ff3e00"/><rect x="898.8" y="981.6" width="11.7" height="11.5" fill="#80ff00"/><rect x="909.1" y="981.6" width="11.7" height="11.5" fill="#ff3e00"/><rect x="919.5" y="981.6" width="11.7" height="11.5" fill="#72ff00"/><rect x="929.9" y="981.6" width="11.7" height="11.5" fill="#ffff00"/><rect x="940.2" y="981.6" width="11.7" height="11.5" fill="#ff3e00"/><rect x="950.6" y="981.6" width="11.7" height="11.5" fill="#ffc900"/><rect x="960.9" y="981.6" width="11.7" height="11.5" fill="#ff8f00"/><rect x="971.3" y="981.6" width="11.7" height="11.5" fill="#ff0000"/><rect x="981.7" y="981.6" width="11.7" height="11.5" fill="#32ff00"/><rect x="774.5" y="992.3" width="11.7" height="11.5" fill="#ff8f00"/><rect x="795.2" y="992.3" width="22.0" height="11.5" fill="#ff0000"/><rect x="826.3" y="992.3" width="11.7" height="11.5" fill="#69ff00"/><rect x="836.6" y="992.3" width="11.7" height="11.5" fill="#00ff33"/><rect x="847.0" y="992.3" width="11.7" height="11.5" fill="#29ff00"/><rect x="857.3" y="992.3" width="11.7" height="11.5" fill="#ff0000"/><rect x="867.7" y="992.3" width="22.0" height="11.5" fill="#80ff00"/><rect x="888.4" y="992.3" width="11.7" height="11.5" fill="#ffff00"/><rect x="898.8" y="992.3" width="11.7" height="11.5" fill="#80ff00"/><rect x="909.1" y="992.3" width="22.0" height="11.5" fill="#69ff00"/><rect x="929.9" y="992.3" width="11.7" height="11.5" fill="#ff8f00"/><rect x="940.2" y="992.3" width="11.7" height="11.5" fill="#ffff00"/><rect x="950.6" y="992.3" width="11.7" height="11.5" fill="#80ff00"/><rect x="960.9" y="992.3" width="11.7" height="11.5" fill="#69ff00"/><rect x="971.3" y="992.3" width="11.7" height="11.5" fill="#00ff33"/><rect x="764.1" y="1003.0" width="11.7" height="11.5" fill="#ff0000"/><rect x="795.2" y="1003.0" width="11.7" height="11.5" fill="#61ff00"/><rect x="805.5" y="1003.0" width="11.7" height="11.5" fill="#ff0000"/><rect x="815.9" y="1003.0" width="22.0" height="11.5" fill="#61ff00"/><rect x="836.6" y="1003.0" width="11.7" height="11.5" fill="#21ff00"/><rect x="847.0" y="1003.0" width="11.7" height="11.5" fill="#ff3e00"/><rect x="857.3" y="1003.0" width="11.7" height="11.5" fill="#21ff00"/><rect x="867.7" y="1003.0" width="22.0" height="11.5" fill="#80ff00"/><rect x="888.4" y="1003.0" width="11.7" height="11.5" fill="#61ff00"/><rect x="898.8" y="1003.0" width="11.7" height="11.5" fill="#80ff00"/><rect x="909.1" y="1003.0" width="11.7" height="11.5" fill="#61ff00"/><rect x="919.5" y="1003.0" width="11.7" height="11.5" fill="#ffc900"/><rect x="929.9" y="1003.0" width="11.7" height="11.5" fill="#80ff00"/><rect x="940.2" y="1003.0" width="32.4" height="11.5" fill="#61ff00"/><rect x="971.3" y="1003.0" width="11.7" height="11.5" fill="#ff8f00"/><rect x="981.7" y="1003.0" width="11.7" height="11.5" fill="#ff0000"/><rect x="764.1" y="1013.7" width="11.7" height="11.5" fill="#19ff00"/><rect x="774.5" y="1013.7" width="11.7" height="11.5" fill="#59ff00"/><rect x="784.8" y="1013.7" width="11.7" height="11.5" fill="#00ffbc"/><rect x="795.2" y="1013.7" width="11.7" height="11.5" fill="#ff8f00"/><rect x="815.9" y="1013.7" width="22.0" height="11.5" fill="#00ff80"/><rect x="836.6" y="1013.7" width="11.7" height="11.5" fill="#00ffbc"/><rect x="847.0" y="1013.7" width="11.7" height="11.5" fill="#00ff80"/><rect x="857.3" y="1013.7" width="11.7" height="11.5" fill="#19ff00"/><rect x="867.7" y="1013.7" width="22.0" height="11.5" fill="#59ff00"/><rect x="888.4" y="1013.7" width="22.0" height="11.5" fill="#19ff00"/><rect x="909.1" y="1013.7" width="42.7" height="11.5" fill="#59ff00"/><rect x="950.6" y="1013.7" width="32.4" height="11.5" fill="#19ff00"/><rect x="992.0" y="1013.7" width="11.7" height="11.5" fill="#00ff44"/><rect x="774.5" y="1024.4" width="11.7" height="11.5" fill="#ff0000"/><rect x="784.8" y="1024.4" width="11.7" height="11.5" fill="#80ff00"/><rect x="795.2" y="1024.4" width="11.7" height="11.5" fill="#00ffbc"/><rect x="805.5" y="1024.4" width="11.7" height="11.5" fill="#00ff80"/><rect x="815.9" y="1024.4" width="11.7" height="11.5" fill="#11ff00"/><rect x="826.3" y="1024.4" width="11.7" height="11.5" fill="#00ff80"/><rect x="836.6" y="1024.4" width="11.7" height="11.5" fill="#ff8f00"/><rect x="847.0" y="1024.4" width="11.7" height="11.5" fill="#ffff00"/><rect x="857.3" y="1024.4" width="11.7" height="11.5" fill="#00ffbc"/><rect x="867.7" y="1024.4" width="11.7" height="11.5" fill="#00ff80"/><rect x="878.1" y="1024.4" width="11.7" height="11.5" fill="#51ff00"/><rect x="888.4" y="1024.4" width="11.7" height="11.5" fill="#11ff00"/><rect x="898.8" y="1024.4" width="11.7" height="11.5" fill="#00ff80"/><rect x="909.1" y="1024.4" width="11.7" height="11.5" fill="#11ff00"/><rect x="919.5" y="1024.4" width="11.7" height="11.5" fill="#51ff00"/><rect x="929.9" y="1024.4" width="42.7" height="11.5" fill="#11ff00"/><rect x="971.3" y="1024.4" width="11.7" height="11.5" fill="#00acff"/><rect x="992.0" y="1024.4" width="11.7" height="11.5" fill="#00ff4c"/><rect x="774.5" y="1035.1" width="11.7" height="11.5" fill="#ff0000"/><rect x="784.8" y="1035.1" width="11.7" height="11.5" fill="#48ff00"/><rect x="795.2" y="1035.1" width="11.7" height="11.5" fill="#08ff00"/><rect x="805.5" y="1035.1" width="11.7" height="11.5" fill="#00ff80"/><rect x="815.9" y="1035.1" width="22.0" height="11.5" fill="#08ff00"/><rect x="836.6" y="1035.1" width="22.0" height="11.5" fill="#00ff80"/><rect x="857.3" y="1035.1" width="11.7" height="11.5" fill="#ff8f00"/><rect x="867.7" y="1035.1" width="11.7" height="11.5" fill="#08ff00"/><rect x="878.1" y="1035.1" width="11.7" height="11.5" fill="#00ff80"/><rect x="888.4" y="1035.1" width="11.7" height="11.5" fill="#08ff00"/><rect x="898.8" y="1035.1" width="11.7" height="11.5" fill="#48ff00"/><rect x="909.1" y="1035.1" width="42.7" height="11.5" fill="#08ff00"/><rect x="950.6" y="1035.1" width="11.7" height="11.5" fill="#00ff80"/><rect x="960.9" y="1035.1" width="11.7" height="11.5" fill="#08ff00"/><rect x="774.5" y="1045.8" width="11.7" height="11.5" fill="#ff0000"/><rect x="784.8" y="1045.8" width="11.7" height="11.5" fill="#40ff00"/><rect x="795.2" y="1045.8" width="11.7" height="11.5" fill="#00ff00"/><rect x="805.5" y="1045.8" width="32.4" height="11.5" fill="#80ff00"/><rect x="836.6" y="1045.8" width="11.7" height="11.5" fill="#00ff00"/><rect x="847.0" y="1045.8" width="11.7" height="11.5" fill="#ffc900"/><rect x="857.3" y="1045.8" width="11.7" height="11.5" fill="#00ff80"/><rect x="867.7" y="1045.8" width="11.7" height="11.5" fill="#40ff00"/><rect x="878.1" y="1045.8" width="11.7" height="11.5" fill="#80ff00"/><rect x="888.4" y="1045.8" width="22.0" height="11.5" fill="#00ff80"/><rect x="909.1" y="1045.8" width="11.7" height="11.5" fill="#40ff00"/><rect x="919.5" y="1045.8" width="11.7" height="11.5" fill="#00ff80"/><rect x="929.9" y="1045.8" width="11.7" height="11.5" fill="#00ffbc"/><rect x="940.2" y="1045.8" width="11.7" height="11.5" fill="#00ff00"/><rect x="950.6" y="1045.8" width="11.7" height="11.5" fill="#00ffff"/><rect x="960.9" y="1045.8" width="11.7" height="11.5" fill="#80ff00"/><rect x="981.7" y="1045.8" width="11.7" height="11.5" fill="#00ffbc"/><rect x="764.1" y="1056.4" width="11.7" height="11.5" fill="#00ff08"/><rect x="774.5" y="1056.4" width="11.7" height="11.5" fill="#00ff80"/><rect x="784.8" y="1056.4" width="11.7" height="11.5" fill="#ff0000"/><rect x="795.2" y="1056.4" width="11.7" height="11.5" fill="#00ff08"/><rect x="805.5" y="1056.4" width="11.7" height="11.5" fill="#00ff80"/><rect x="815.9" y="1056.4" width="11.7" height="11.5" fill="#00ffff"/><rect x="826.3" y="1056.4" width="11.7" height="11.5" fill="#00acff"/><rect x="836.6" y="1056.4" width="22.0" height="11.5" fill="#00ff08"/><rect x="857.3" y="1056.4" width="11.7" height="11.5" fill="#00ff80"/><rect x="867.7" y="1056.4" width="42.7" height="11.5" fill="#00ff08"/><rect x="909.1" y="1056.4" width="32.4" height="11.5" fill="#00ff80"/><rect x="940.2" y="1056.4" width="11.7" height="11.5" fill="#00acff"/><rect x="950.6" y="1056.4" width="11.7" height="11.5" fill="#00ff08"/><rect x="960.9" y="1056.4" width="11.7" height="11.5" fill="#540081"/><rect x="971.3" y="1056.4" width="11.7" height="11.5" fill="#00ff08"/><rect x="1012.7" y="1056.4" width="11.7" height="11.5" fill="#0056ff"/><rect x="774.5" y="1067.1" width="11.7" height="11.5" fill="#00ff80"/><rect x="784.8" y="1067.1" width="11.7" height="11.5" fill="#ff0000"/><rect x="795.2" y="1067.1" width="11.7" height="11.5" fill="#00ff11"/><rect x="805.5" y="1067.1" width="11.7" height="11.5" fill="#00ffbc"/><rect x="815.9" y="1067.1" width="11.7" height="11.5" fill="#00ff80"/><rect x="826.3" y="1067.1" width="11.7" height="11.5" fill="#00ffbc"/><rect x="836.6" y="1067.1" width="11.7" height="11.5" fill="#00ffff"/><rect x="847.0" y="1067.1" width="11.7" height="11.5" fill="#00ff80"/><rect x="857.3" y="1067.1" width="11.7" height="11.5" fill="#00ffff"/><rect x="867.7" y="1067.1" width="11.7" height="11.5" fill="#00ff80"/><rect x="878.1" y="1067.1" width="11.7" height="11.5" fill="#00ff11"/><rect x="888.4" y="1067.1" width="11.7" height="11.5" fill="#00ff80"/><rect x="898.8" y="1067.1" width="11.7" height="11.5" fill="#00ff11"/><rect x="909.1" y="1067.1" width="11.7" height="11.5" fill="#00ffbc"/><rect x="919.5" y="1067.1" width="11.7" height="11.5" fill="#00ff11"/><rect x="929.9" y="1067.1" width="11.7" height="11.5" fill="#00ff80"/><rect x="940.2" y="1067.1" width="11.7" height="11.5" fill="#00ff11"/><rect x="950.6" y="1067.1" width="11.7" height="11.5" fill="#00acff"/><rect x="960.9" y="1067.1" width="11.7" height="11.5" fill="#540081"/><rect x="981.7" y="1067.1" width="11.7" height="11.5" fill="#00ff11"/><rect x="764.1" y="1077.8" width="11.7" height="11.5" fill="#2cff00"/><rect x="774.5" y="1077.8" width="11.7" height="11.5" fill="#80ff00"/><rect x="784.8" y="1077.8" width="22.0" height="11.5" fill="#00ff80"/><rect x="805.5" y="1077.8" width="11.7" height="11.5" fill="#2cff00"/><rect x="815.9" y="1077.8" width="11.7" height="11.5" fill="#00ff14"/><rect x="826.3" y="1077.8" width="11.7" height="11.5" fill="#00ffbc"/><rect x="836.6" y="1077.8" width="11.7" height="11.5" fill="#00ff80"/><rect x="847.0" y="1077.8" width="11.7" height="11.5" fill="#00ffff"/><rect x="857.3" y="1077.8" width="32.4" height="11.5" fill="#00ff14"/><rect x="888.4" y="1077.8" width="22.0" height="11.5" fill="#00ff80"/><rect x="909.1" y="1077.8" width="11.7" height="11.5" fill="#00ffbc"/><rect x="919.5" y="1077.8" width="11.7" height="11.5" fill="#00ff80"/><rect x="929.9" y="1077.8" width="11.7" height="11.5" fill="#00ffff"/><rect x="940.2" y="1077.8" width="11.7" height="11.5" fill="#00ff80"/><rect x="950.6" y="1077.8" width="11.7" height="11.5" fill="#00acff"/><rect x="960.9" y="1077.8" width="11.7" height="11.5" fill="#0056ff"/><rect x="1002.4" y="1077.8" width="11.7" height="11.5" fill="#00ff70"/><rect x="764.1" y="1088.5" width="11.7" height="11.5" fill="#ff0000"/><rect x="774.5" y="1088.5" width="11.7" height="11.5" fill="#00ff14"/><rect x="784.8" y="1088.5" width="11.7" height="11.5" fill="#0056ff"/><rect x="795.2" y="1088.5" width="11.7" height="11.5" fill="#ff8f00"/><rect x="805.5" y="1088.5" width="11.7" height="11.5" fill="#ffc900"/><rect x="815.9" y="1088.5" width="11.7" height="11.5" fill="#00ff14"/><rect x="826.3" y="1088.5" width="11.7" height="11.5" fill="#00ffbc"/><rect x="836.6" y="1088.5" width="11.7" height="11.5" fill="#00acff"/><rect x="847.0" y="1088.5" width="11.7" height="11.5" fill="#00ffff"/><rect x="857.3" y="1088.5" width="32.4" height="11.5" fill="#00ff14"/><rect x="888.4" y="1088.5" width="11.7" height="11.5" fill="#00ff80"/><rect x="898.8" y="1088.5" width="11.7" height="11.5" fill="#2cff00"/><rect x="909.1" y="1088.5" width="11.7" height="11.5" fill="#00ffff"/><rect x="919.5" y="1088.5" width="11.7" height="11.5" fill="#00acff"/><rect x="929.9" y="1088.5" width="11.7" height="11.5" fill="#00ffbc"/><rect x="940.2" y="1088.5" width="22.0" height="11.5" fill="#0056ff"/><rect x="960.9" y="1088.5" width="11.7" height="11.5" fill="#1900f4"/><rect x="764.1" y="1099.2" width="11.7" height="11.5" fill="#00ff70"/><rect x="774.5" y="1099.2" width="11.7" height="11.5" fill="#ff0000"/><rect x="784.8" y="1099.2" width="11.7" height="11.5" fill="#ffff00"/><rect x="795.2" y="1099.2" width="22.0" height="11.5" fill="#00ff14"/><rect x="815.9" y="1099.2" width="11.7" height="11.5" fill="#ffff00"/><rect x="826.3" y="1099.2" width="11.7" height="11.5" fill="#2cff00"/><rect x="836.6" y="1099.2" width="11.7" height="11.5" fill="#ff8f00"/><rect x="847.0" y="1099.2" width="11.7" height="11.5" fill="#00acff"/><rect x="857.3" y="1099.2" width="11.7" height="11.5" fill="#00ff80"/><rect x="867.7" y="1099.2" width="11.7" height="11.5" fill="#00ffff"/><rect x="878.1" y="1099.2" width="32.4" height="11.5" fill="#00acff"/><rect x="909.1" y="1099.2" width="11.7" height="11.5" fill="#1900f4"/><rect x="919.5" y="1099.2" width="11.7" height="11.5" fill="#00ffff"/><rect x="929.9" y="1099.2" width="11.7" height="11.5" fill="#0056ff"/><rect x="940.2" y="1099.2" width="11.7" height="11.5" fill="#410044"/><rect x="960.9" y="1099.2" width="11.7" height="11.5" fill="#240020"/><rect x="784.8" y="1109.9" width="11.7" height="11.5" fill="#00ffbc"/><rect x="805.5" y="1109.9" width="11.7" height="11.5" fill="#00ffff"/><rect x="815.9" y="1109.9" width="11.7" height="11.5" fill="#00ff80"/><rect x="826.3" y="1109.9" width="11.7" height="11.5" fill="#2cff00"/><rect x="836.6" y="1109.9" width="11.7" height="11.5" fill="#00acff"/><rect x="847.0" y="1109.9" width="11.7" height="11.5" fill="#00ffff"/><rect x="857.3" y="1109.9" width="11.7" height="11.5" fill="#00ff14"/><rect x="867.7" y="1109.9" width="11.7" height="11.5" fill="#00acff"/><rect x="878.1" y="1109.9" width="11.7" height="11.5" fill="#80ff00"/><rect x="888.4" y="1109.9" width="11.7" height="11.5" fill="#00ff80"/><rect x="898.8" y="1109.9" width="11.7" height="11.5" fill="#00acff"/><rect x="909.1" y="1109.9" width="11.7" height="11.5" fill="#1900f4"/><rect x="919.5" y="1109.9" width="11.7" height="11.5" fill="#0056ff"/><rect x="929.9" y="1109.9" width="11.7" height="11.5" fill="#1900f4"/><rect x="960.9" y="1109.9" width="11.7" height="11.5" fill="#00acff"/><rect x="784.8" y="1120.6" width="11.7" height="11.5" fill="#80ff00"/><rect x="795.2" y="1120.6" width="11.7" height="11.5" fill="#00ffbc"/><rect x="815.9" y="1120.6" width="11.7" height="11.5" fill="#00ffff"/><rect x="826.3" y="1120.6" width="11.7" height="11.5" fill="#00acff"/><rect x="836.6" y="1120.6" width="11.7" height="11.5" fill="#00ff14"/><rect x="847.0" y="1120.6" width="11.7" height="11.5" fill="#1900f4"/><rect x="857.3" y="1120.6" width="22.0" height="11.5" fill="#00acff"/><rect x="878.1" y="1120.6" width="11.7" height="11.5" fill="#0056ff"/><rect x="888.4" y="1120.6" width="11.7" height="11.5" fill="#00ff70"/><rect x="898.8" y="1120.6" width="11.7" height="11.5" fill="#00ff14"/><rect x="909.1" y="1120.6" width="11.7" height="11.5" fill="#410044"/><rect x="919.5" y="1120.6" width="11.7" height="11.5" fill="#540081"/><rect x="929.9" y="1120.6" width="11.7" height="11.5" fill="#1900f4"/><rect x="940.2" y="1120.6" width="11.7" height="11.5" fill="#00acff"/><rect x="764.1" y="1131.3" width="11.7" height="11.5" fill="#00ff14"/><rect x="795.2" y="1131.3" width="22.0" height="11.5" fill="#00ff70"/><rect x="815.9" y="1131.3" width="11.7" height="11.5" fill="#ff8f00"/><rect x="826.3" y="1131.3" width="11.7" height="11.5" fill="#2cff00"/><rect x="836.6" y="1131.3" width="22.0" height="11.5" fill="#00ff14"/><rect x="857.3" y="1131.3" width="11.7" height="11.5" fill="#00ffff"/><rect x="867.7" y="1131.3" width="11.7" height="11.5" fill="#4d00c4"/><rect x="878.1" y="1131.3" width="22.0" height="11.5" fill="#1900f4"/><rect x="898.8" y="1131.3" width="11.7" height="11.5" fill="#540081"/><rect x="909.1" y="1131.3" width="11.7" height="11.5" fill="#410044"/><rect x="919.5" y="1131.3" width="11.7" height="11.5" fill="#540081"/><rect x="929.9" y="1131.3" width="11.7" height="11.5" fill="#1900f4"/><rect x="940.2" y="1131.3" width="11.7" height="11.5" fill="#540081"/><rect x="950.6" y="1131.3" width="22.0" height="11.5" fill="#0056ff"/><rect x="971.3" y="1131.3" width="11.7" height="11.5" fill="#410044"/><rect x="774.5" y="1142.0" width="11.7" height="11.5" fill="#ff0000"/><rect x="795.2" y="1142.0" width="11.7" height="11.5" fill="#ff3e00"/><rect x="815.9" y="1142.0" width="11.7" height="11.5" fill="#80ff00"/><rect x="826.3" y="1142.0" width="11.7" height="11.5" fill="#00ffbc"/><rect x="836.6" y="1142.0" width="11.7" height="11.5" fill="#ff3e00"/><rect x="847.0" y="1142.0" width="11.7" height="11.5" fill="#1900f4"/><rect x="857.3" y="1142.0" width="22.0" height="11.5" fill="#0056ff"/><rect x="878.1" y="1142.0" width="11.7" height="11.5" fill="#00ffff"/><rect x="888.4" y="1142.0" width="11.7" height="11.5" fill="#4d00c4"/><rect x="898.8" y="1142.0" width="11.7" height="11.5" fill="#240020"/><rect x="909.1" y="1142.0" width="11.7" height="11.5" fill="#ff8f00"/><rect x="929.9" y="1142.0" width="11.7" height="11.5" fill="#540081"/><rect x="950.6" y="1142.0" width="11.7" height="11.5" fill="#240020"/><rect x="805.5" y="1152.7" width="11.7" height="11.5" fill="#00ff14"/><rect x="857.3" y="1152.7" width="11.7" height="11.5" fill="#0056ff"/><rect x="867.7" y="1152.7" width="11.7" height="11.5" fill="#00acff"/><rect x="878.1" y="1152.7" width="11.7" height="11.5" fill="#00ffbc"/><rect x="898.8" y="1152.7" width="11.7" height="11.5" fill="#2cff00"/><rect x="909.1" y="1152.7" width="11.7" height="11.5" fill="#540081"/><rect x="919.5" y="1152.7" width="11.7" height="11.5" fill="#410044"/><rect x="929.9" y="1152.7" width="11.7" height="11.5" fill="#00ffff"/><rect x="940.2" y="1152.7" width="11.7" height="11.5" fill="#410044"/><rect x="950.6" y="1152.7" width="11.7" height="11.5" fill="#000000"/><rect x="805.5" y="1163.3" width="11.7" height="11.5" fill="#ff0000"/><rect x="826.3" y="1163.3" width="11.7" height="11.5" fill="#00ff14"/><rect x="847.0" y="1163.3" width="11.7" height="11.5" fill="#00ffff"/><rect x="857.3" y="1163.3" width="11.7" height="11.5" fill="#4d00c4"/><rect x="867.7" y="1163.3" width="11.7" height="11.5" fill="#1900f4"/><rect x="878.1" y="1163.3" width="11.7" height="11.5" fill="#ff0000"/><rect x="888.4" y="1163.3" width="11.7" height="11.5" fill="#00ffff"/><rect x="898.8" y="1163.3" width="11.7" height="11.5" fill="#000000"/><rect x="909.1" y="1163.3" width="22.0" height="11.5" fill="#240020"/><rect x="940.2" y="1163.3" width="11.7" height="11.5" fill="#00acff"/><rect x="950.6" y="1163.3" width="11.7" height="11.5" fill="#540081"/><rect x="805.5" y="1174.0" width="11.7" height="11.5" fill="#1900f4"/><rect x="847.0" y="1174.0" width="11.7" height="11.5" fill="#00acff"/><rect x="857.3" y="1174.0" width="11.7" height="11.5" fill="#410044"/><rect x="909.1" y="1174.0" width="11.7" height="11.5" fill="#540081"/><rect x="774.5" y="1184.7" width="11.7" height="11.5" fill="#ff0000"/><rect x="805.5" y="1184.7" width="11.7" height="11.5" fill="#0056ff"/><rect x="826.3" y="1184.7" width="11.7" height="11.5" fill="#540081"/><rect x="847.0" y="1184.7" width="11.7" height="11.5" fill="#2cff00"/><rect x="857.3" y="1184.7" width="11.7" height="11.5" fill="#000000"/><rect x="867.7" y="1184.7" width="11.7" height="11.5" fill="#2cff00"/><rect x="909.1" y="1184.7" width="11.7" height="11.5" fill="#ff0000"/><rect x="919.5" y="1184.7" width="11.7" height="11.5" fill="#00ff70"/><rect x="857.3" y="1195.4" width="11.7" height="11.5" fill="#540081"/><rect x="950.6" y="1195.4" width="11.7" height="11.5" fill="#000000"/></g>
<path d="M239.2 565.2V244.5" stroke="#ff1616" stroke-width="4.8" stroke-dasharray="13.3 13.6" fill="none"/>
<path d="M610.0 565.2V244.5" stroke="#ff1616" stroke-width="4.8" stroke-dasharray="13.3 13.6" fill="none"/>
<path d="M921.1 565.2V244.5" stroke="#000" stroke-width="4.8" stroke-dasharray="13.3 13.6" fill="none"/>
<path d="M454.3 565.2L765.1 244.5" stroke="#ff1616" stroke-width="4.8" stroke-dasharray="13.3 13.6" fill="none"/>
<path d="M239.2 885.9V565.2" stroke="#ff1616" stroke-width="4.8" stroke-dasharray="13.3 13.6" fill="none"/>
<path d="M610.0 885.9V565.2" stroke="#ff1616" stroke-width="4.8" stroke-dasharray="13.3 13.6" fill="none"/>
<path d="M921.1 885.9V565.2" stroke="#000" stroke-width="4.8" stroke-dasharray="13.3 13.6" fill="none"/>
<path d="M454.3 885.9L765.1 565.2" stroke="#ff1616" stroke-width="4.8" stroke-dasharray="13.3 13.6" fill="none"/>
<path d="M239.2 1206.7V886.0" stroke="#ff1616" stroke-width="4.8" stroke-dasharray="13.3 13.6" fill="none"/>
<path d="M610.0 1206.7V886.0" stroke="#ff1616" stroke-width="4.8" stroke-dasharray="13.3 13.6" fill="none"/>
<path d="M921.1 1206.7V886.0" stroke="#000" stroke-width="4.8" stroke-dasharray="13.3 13.6" fill="none"/>
<path d="M454.3 1206.7L765.1 886.0" stroke="#ff1616" stroke-width="4.8" stroke-dasharray="13.3 13.6" fill="none"/>
<path d="M83.5 244.50h6.8M394.3 244.50h-6.8M83.5 250.91h3.6M394.3 250.91h-3.6M83.5 257.33h3.6M394.3 257.33h-3.6M83.5 263.74h3.6M394.3 263.74h-3.6M83.5 270.16h3.6M394.3 270.16h-3.6M83.5 276.57h3.6M394.3 276.57h-3.6M83.5 282.98h3.6M394.3 282.98h-3.6M83.5 289.40h3.6M394.3 289.40h-3.6M83.5 295.81h3.6M394.3 295.81h-3.6M83.5 302.23h3.6M394.3 302.23h-3.6M83.5 308.64h6.8M394.3 308.64h-6.8M83.5 315.05h3.6M394.3 315.05h-3.6M83.5 321.47h3.6M394.3 321.47h-3.6M83.5 327.88h3.6M394.3 327.88h-3.6M83.5 334.30h3.6M394.3 334.30h-3.6M83.5 340.71h3.6M394.3 340.71h-3.6M83.5 347.12h3.6M394.3 347.12h-3.6M83.5 353.54h3.6M394.3 353.54h-3.6M83.5 359.95h3.6M394.3 359.95h-3.6M83.5 366.37h3.6M394.3 366.37h-3.6M83.5 372.78h6.8M394.3 372.78h-6.8M83.5 379.19h3.6M394.3 379.19h-3.6M83.5 385.61h3.6M394.3 385.61h-3.6M83.5 392.02h3.6M394.3 392.02h-3.6M83.5 398.44h3.6M394.3 398.44h-3.6M83.5 404.85h3.6M394.3 404.85h-3.6M83.5 411.26h3.6M394.3 411.26h-3.6M83.5 417.68h3.6M394.3 417.68h-3.6M83.5 424.09h3.6M394.3 424.09h-3.6M83.5 430.51h3.6M394.3 430.51h-3.6M83.5 436.92h6.8M394.3 436.92h-6.8M83.5 443.33h3.6M394.3 443.33h-3.6M83.5 449.75h3.6M394.3 449.75h-3.6M83.5 456.16h3.6M394.3 456.16h-3.6M83.5 462.58h3.6M394.3 462.58h-3.6M83.5 468.99h3.6M394.3 468.99h-3.6M83.5 475.40h3.6M394.3 475.40h-3.6M83.5 481.82h3.6M394.3 481.82h-3.6M83.5 488.23h3.6M394.3 488.23h-3.6M83.5 494.65h3.6M394.3 494.65h-3.6M83.5 501.06h6.8M394.3 501.06h-6.8M83.5 507.47h3.6M394.3 507.47h-3.6M83.5 513.89h3.6M394.3 513.89h-3.6M83.5 520.30h3.6M394.3 520.30h-3.6M83.5 526.72h3.6M394.3 526.72h-3.6M83.5 533.13h3.6M394.3 533.13h-3.6M83.5 539.54h3.6M394.3 539.54h-3.6M83.5 545.96h3.6M394.3 545.96h-3.6M83.5 552.37h3.6M394.3 552.37h-3.6M83.5 558.79h3.6M394.3 558.79h-3.6M83.5 565.20h6.8M394.3 565.20h-6.8M454.3 244.50h6.8M454.3 255.19h3.6M454.3 265.88h3.6M454.3 276.57h3.6M454.3 287.26h3.6M454.3 297.95h6.8M454.3 308.64h3.6M454.3 319.33h3.6M454.3 330.02h3.6M454.3 340.71h3.6M454.3 351.40h6.8M454.3 362.09h3.6M454.3 372.78h3.6M454.3 383.47h3.6M454.3 394.16h3.6M454.3 404.85h6.8M454.3 415.54h3.6M454.3 426.23h3.6M454.3 436.92h3.6M454.3 447.61h3.6M454.3 458.30h6.8M454.3 468.99h3.6M454.3 479.68h3.6M454.3 490.37h3.6M454.3 501.06h3.6M454.3 511.75h6.8M454.3 522.44h3.6M454.3 533.13h3.6M454.3 543.82h3.6M454.3 554.51h3.6M454.3 565.20h6.8M765.1 244.50h-6.8M765.1 244.50h6.8M765.1 255.19h-3.6M765.1 255.19h3.6M765.1 265.88h-3.6M765.1 265.88h3.6M765.1 276.57h-3.6M765.1 276.57h3.6M765.1 287.26h-3.6M765.1 287.26h3.6M765.1 297.95h-6.8M765.1 297.95h6.8M765.1 308.64h-3.6M765.1 308.64h3.6M765.1 319.33h-3.6M765.1 319.33h3.6M765.1 330.02h-3.6M765.1 330.02h3.6M765.1 340.71h-3.6M765.1 340.71h3.6M765.1 351.40h-6.8M765.1 351.40h6.8M765.1 362.09h-3.6M765.1 362.09h3.6M765.1 372.78h-3.6M765.1 372.78h3.6M765.1 383.47h-3.6M765.1 383.47h3.6M765.1 394.16h-3.6M765.1 394.16h3.6M765.1 404.85h-6.8M765.1 404.85h6.8M765.1 415.54h-3.6M765.1 415.54h3.6M765.1 426.23h-3.6M765.1 426.23h3.6M765.1 436.92h-3.6M765.1 436.92h3.6M765.1 447.61h-3.6M765.1 447.61h3.6M765.1 458.30h-6.8M765.1 458.30h6.8M765.1 468.99h-3.6M765.1 468.99h3.6M765.1 479.68h-3.6M765.1 479.68h3.6M765.1 490.37h-3.6M765.1 490.37h3.6M765.1 501.06h-3.6M765.1 501.06h3.6M765.1 511.75h-6.8M765.1 511.75h6.8M765.1 522.44h-3.6M765.1 522.44h3.6M765.1 533.13h-3.6M765.1 533.13h3.6M765.1 543.82h-3.6M765.1 543.82h3.6M765.1 554.51h-3.6M765.1 554.51h3.6M765.1 565.20h-6.8M765.1 565.20h6.8M1075.9 244.50h-6.8M1075.9 255.19h-3.6M1075.9 265.88h-3.6M1075.9 276.57h-3.6M1075.9 287.26h-3.6M1075.9 297.95h-6.8M1075.9 308.64h-3.6M1075.9 319.33h-3.6M1075.9 330.02h-3.6M1075.9 340.71h-3.6M1075.9 351.40h-6.8M1075.9 362.09h-3.6M1075.9 372.78h-3.6M1075.9 383.47h-3.6M1075.9 394.16h-3.6M1075.9 404.85h-6.8M1075.9 415.54h-3.6M1075.9 426.23h-3.6M1075.9 436.92h-3.6M1075.9 447.61h-3.6M1075.9 458.30h-6.8M1075.9 468.99h-3.6M1075.9 479.68h-3.6M1075.9 490.37h-3.6M1075.9 501.06h-3.6M1075.9 511.75h-6.8M1075.9 522.44h-3.6M1075.9 533.13h-3.6M1075.9 543.82h-3.6M1075.9 554.51h-3.6M1075.9 565.20h-6.8M83.50 244.5v6.8M93.86 244.5v3.6M104.22 244.5v3.6M114.58 244.5v3.6M124.94 244.5v3.6M135.30 244.5v6.8M145.66 244.5v3.6M156.02 244.5v3.6M166.38 244.5v3.6M176.74 244.5v3.6M187.10 244.5v6.8M197.46 244.5v3.6M207.82 244.5v3.6M218.18 244.5v3.6M228.54 244.5v3.6M238.90 244.5v6.8M249.26 244.5v3.6M259.62 244.5v3.6M269.98 244.5v3.6M280.34 244.5v3.6M290.70 244.5v6.8M301.06 244.5v3.6M311.42 244.5v3.6M321.78 244.5v3.6M332.14 244.5v3.6M342.50 244.5v6.8M352.86 244.5v3.6M363.22 244.5v3.6M373.58 244.5v3.6M383.94 244.5v3.6M394.30 244.5v6.8M454.30 244.5v6.8M464.66 244.5v3.6M475.02 244.5v3.6M485.38 244.5v3.6M495.74 244.5v3.6M506.10 244.5v6.8M516.46 244.5v3.6M526.82 244.5v3.6M537.18 244.5v3.6M547.54 244.5v3.6M557.90 244.5v6.8M568.26 244.5v3.6M578.62 244.5v3.6M588.98 244.5v3.6M599.34 244.5v3.6M609.70 244.5v6.8M620.06 244.5v3.6M630.42 244.5v3.6M640.78 244.5v3.6M651.14 244.5v3.6M661.50 244.5v6.8M671.86 244.5v3.6M682.22 244.5v3.6M692.58 244.5v3.6M702.94 244.5v3.6M713.30 244.5v6.8M723.66 244.5v3.6M734.02 244.5v3.6M744.38 244.5v3.6M754.74 244.5v3.6M765.10 244.5v6.8M765.10 244.5v6.8M775.46 244.5v3.6M785.82 244.5v3.6M796.18 244.5v3.6M806.54 244.5v3.6M816.90 244.5v6.8M827.26 244.5v3.6M837.62 244.5v3.6M847.98 244.5v3.6M858.34 244.5v3.6M868.70 244.5v6.8M879.06 244.5v3.6M889.42 244.5v3.6M899.78 244.5v3.6M910.14 244.5v3.6M920.50 244.5v6.8M930.86 244.5v3.6M941.22 244.5v3.6M951.58 244.5v3.6M961.94 244.5v3.6M972.30 244.5v6.8M982.66 244.5v3.6M993.02 244.5v3.6M1003.38 244.5v3.6M1013.74 244.5v3.6M1024.10 244.5v6.8M1034.46 244.5v3.6M1044.82 244.5v3.6M1055.18 244.5v3.6M1065.54 244.5v3.6M1075.90 244.5v6.8M83.5 565.20h6.8M394.3 565.20h-6.8M83.5 571.61h3.6M394.3 571.61h-3.6M83.5 578.03h3.6M394.3 578.03h-3.6M83.5 584.44h3.6M394.3 584.44h-3.6M83.5 590.86h3.6M394.3 590.86h-3.6M83.5 597.27h3.6M394.3 597.27h-3.6M83.5 603.68h3.6M394.3 603.68h-3.6M83.5 610.10h3.6M394.3 610.10h-3.6M83.5 616.51h3.6M394.3 616.51h-3.6M83.5 622.93h3.6M394.3 622.93h-3.6M83.5 629.34h6.8M394.3 629.34h-6.8M83.5 635.75h3.6M394.3 635.75h-3.6M83.5 642.17h3.6M394.3 642.17h-3.6M83.5 648.58h3.6M394.3 648.58h-3.6M83.5 655.00h3.6M394.3 655.00h-3.6M83.5 661.41h3.6M394.3 661.41h-3.6M83.5 667.82h3.6M394.3 667.82h-3.6M83.5 674.24h3.6M394.3 674.24h-3.6M83.5 680.65h3.6M394.3 680.65h-3.6M83.5 687.07h3.6M394.3 687.07h-3.6M83.5 693.48h6.8M394.3 693.48h-6.8M83.5 699.89h3.6M394.3 699.89h-3.6M83.5 706.31h3.6M394.3 706.31h-3.6M83.5 712.72h3.6M394.3 712.72h-3.6M83.5 719.14h3.6M394.3 719.14h-3.6M83.5 725.55h3.6M394.3 725.55h-3.6M83.5 731.96h3.6M394.3 731.96h-3.6M83.5 738.38h3.6M394.3 738.38h-3.6M83.5 744.79h3.6M394.3 744.79h-3.6M83.5 751.21h3.6M394.3 751.21h-3.6M83.5 757.62h6.8M394.3 757.62h-6.8M83.5 764.03h3.6M394.3 764.03h-3.6M83.5 770.45h3.6M394.3 770.45h-3.6M83.5 776.86h3.6M394.3 776.86h-3.6M83.5 783.28h3.6M394.3 783.28h-3.6M83.5 789.69h3.6M394.3 789.69h-3.6M83.5 796.10h3.6M394.3 796.10h-3.6M83.5 802.52h3.6M394.3 802.52h-3.6M83.5 808.93h3.6M394.3 808.93h-3.6M83.5 815.35h3.6M394.3 815.35h-3.6M83.5 821.76h6.8M394.3 821.76h-6.8M83.5 828.17h3.6M394.3 828.17h-3.6M83.5 834.59h3.6M394.3 834.59h-3.6M83.5 841.00h3.6M394.3 841.00h-3.6M83.5 847.42h3.6M394.3 847.42h-3.6M83.5 853.83h3.6M394.3 853.83h-3.6M83.5 860.24h3.6M394.3 860.24h-3.6M83.5 866.66h3.6M394.3 866.66h-3.6M83.5 873.07h3.6M394.3 873.07h-3.6M83.5 879.49h3.6M394.3 879.49h-3.6M83.5 885.90h6.8M394.3 885.90h-6.8M454.3 565.20h6.8M454.3 575.89h3.6M454.3 586.58h3.6M454.3 597.27h3.6M454.3 607.96h3.6M454.3 618.65h6.8M454.3 629.34h3.6M454.3 640.03h3.6M454.3 650.72h3.6M454.3 661.41h3.6M454.3 672.10h6.8M454.3 682.79h3.6M454.3 693.48h3.6M454.3 704.17h3.6M454.3 714.86h3.6M454.3 725.55h6.8M454.3 736.24h3.6M454.3 746.93h3.6M454.3 757.62h3.6M454.3 768.31h3.6M454.3 779.00h6.8M454.3 789.69h3.6M454.3 800.38h3.6M454.3 811.07h3.6M454.3 821.76h3.6M454.3 832.45h6.8M454.3 843.14h3.6M454.3 853.83h3.6M454.3 864.52h3.6M454.3 875.21h3.6M454.3 885.90h6.8M765.1 565.20h-6.8M765.1 565.20h6.8M765.1 575.89h-3.6M765.1 575.89h3.6M765.1 586.58h-3.6M765.1 586.58h3.6M765.1 597.27h-3.6M765.1 597.27h3.6M765.1 607.96h-3.6M765.1 607.96h3.6M765.1 618.65h-6.8M765.1 618.65h6.8M765.1 629.34h-3.6M765.1 629.34h3.6M765.1 640.03h-3.6M765.1 640.03h3.6M765.1 650.72h-3.6M765.1 650.72h3.6M765.1 661.41h-3.6M765.1 661.41h3.6M765.1 672.10h-6.8M765.1 672.10h6.8M765.1 682.79h-3.6M765.1 682.79h3.6M765.1 693.48h-3.6M765.1 693.48h3.6M765.1 704.17h-3.6M765.1 704.17h3.6M765.1 714.86h-3.6M765.1 714.86h3.6M765.1 725.55h-6.8M765.1 725.55h6.8M765.1 736.24h-3.6M765.1 736.24h3.6M765.1 746.93h-3.6M765.1 746.93h3.6M765.1 757.62h-3.6M765.1 757.62h3.6M765.1 768.31h-3.6M765.1 768.31h3.6M765.1 779.00h-6.8M765.1 779.00h6.8M765.1 789.69h-3.6M765.1 789.69h3.6M765.1 800.38h-3.6M765.1 800.38h3.6M765.1 811.07h-3.6M765.1 811.07h3.6M765.1 821.76h-3.6M765.1 821.76h3.6M765.1 832.45h-6.8M765.1 832.45h6.8M765.1 843.14h-3.6M765.1 843.14h3.6M765.1 853.83h-3.6M765.1 853.83h3.6M765.1 864.52h-3.6M765.1 864.52h3.6M765.1 875.21h-3.6M765.1 875.21h3.6M765.1 885.90h-6.8M765.1 885.90h6.8M1075.9 565.20h-6.8M1075.9 575.89h-3.6M1075.9 586.58h-3.6M1075.9 597.27h-3.6M1075.9 607.96h-3.6M1075.9 618.65h-6.8M1075.9 629.34h-3.6M1075.9 640.03h-3.6M1075.9 650.72h-3.6M1075.9 661.41h-3.6M1075.9 672.10h-6.8M1075.9 682.79h-3.6M1075.9 693.48h-3.6M1075.9 704.17h-3.6M1075.9 714.86h-3.6M1075.9 725.55h-6.8M1075.9 736.24h-3.6M1075.9 746.93h-3.6M1075.9 757.62h-3.6M1075.9 768.31h-3.6M1075.9 779.00h-6.8M1075.9 789.69h-3.6M1075.9 800.38h-3.6M1075.9 811.07h-3.6M1075.9 821.76h-3.6M1075.9 832.45h-6.8M1075.9 843.14h-3.6M1075.9 853.83h-3.6M1075.9 864.52h-3.6M1075.9 875.21h-3.6M1075.9 885.90h-6.8M83.50 558.4v13.6M93.86 561.6v7.2M104.22 561.6v7.2M114.58 561.6v7.2M124.94 561.6v7.2M135.30 558.4v13.6M145.66 561.6v7.2M156.02 561.6v7.2M166.38 561.6v7.2M176.74 561.6v7.2M187.10 558.4v13.6M197.46 561.6v7.2M207.82 561.6v7.2M218.18 561.6v7.2M228.54 561.6v7.2M238.90 558.4v13.6M249.26 561.6v7.2M259.62 561.6v7.2M269.98 561.6v7.2M280.34 561.6v7.2M290.70 558.4v13.6M301.06 561.6v7.2M311.42 561.6v7.2M321.78 561.6v7.2M332.14 561.6v7.2M342.50 558.4v13.6M352.86 561.6v7.2M363.22 561.6v7.2M373.58 561.6v7.2M383.94 561.6v7.2M394.30 558.4v13.6M454.30 558.4v13.6M464.66 561.6v7.2M475.02 561.6v7.2M485.38 561.6v7.2M495.74 561.6v7.2M506.10 558.4v13.6M516.46 561.6v7.2M526.82 561.6v7.2M537.18 561.6v7.2M547.54 561.6v7.2M557.90 558.4v13.6M568.26 561.6v7.2M578.62 561.6v7.2M588.98 561.6v7.2M599.34 561.6v7.2M609.70 558.4v13.6M620.06 561.6v7.2M630.42 561.6v7.2M640.78 561.6v7.2M651.14 561.6v7.2M661.50 558.4v13.6M671.86 561.6v7.2M682.22 561.6v7.2M692.58 561.6v7.2M702.94 561.6v7.2M713.30 558.4v13.6M723.66 561.6v7.2M734.02 561.6v7.2M744.38 561.6v7.2M754.74 561.6v7.2M765.10 558.4v13.6M765.10 558.4v13.6M775.46 561.6v7.2M785.82 561.6v7.2M796.18 561.6v7.2M806.54 561.6v7.2M816.90 558.4v13.6M827.26 561.6v7.2M837.62 561.6v7.2M847.98 561.6v7.2M858.34 561.6v7.2M868.70 558.4v13.6M879.06 561.6v7.2M889.42 561.6v7.2M899.78 561.6v7.2M910.14 561.6v7.2M920.50 558.4v13.6M930.86 561.6v7.2M941.22 561.6v7.2M951.58 561.6v7.2M961.94 561.6v7.2M972.30 558.4v13.6M982.66 561.6v7.2M993.02 561.6v7.2M1003.38 561.6v7.2M1013.74 561.6v7.2M1024.10 558.4v13.6M1034.46 561.6v7.2M1044.82 561.6v7.2M1055.18 561.6v7.2M1065.54 561.6v7.2M1075.90 558.4v13.6M83.5 886.00h6.8M394.3 886.00h-6.8M83.5 892.41h3.6M394.3 892.41h-3.6M83.5 898.83h3.6M394.3 898.83h-3.6M83.5 905.24h3.6M394.3 905.24h-3.6M83.5 911.66h3.6M394.3 911.66h-3.6M83.5 918.07h3.6M394.3 918.07h-3.6M83.5 924.48h3.6M394.3 924.48h-3.6M83.5 930.90h3.6M394.3 930.90h-3.6M83.5 937.31h3.6M394.3 937.31h-3.6M83.5 943.73h3.6M394.3 943.73h-3.6M83.5 950.14h6.8M394.3 950.14h-6.8M83.5 956.55h3.6M394.3 956.55h-3.6M83.5 962.97h3.6M394.3 962.97h-3.6M83.5 969.38h3.6M394.3 969.38h-3.6M83.5 975.80h3.6M394.3 975.80h-3.6M83.5 982.21h3.6M394.3 982.21h-3.6M83.5 988.62h3.6M394.3 988.62h-3.6M83.5 995.04h3.6M394.3 995.04h-3.6M83.5 1001.45h3.6M394.3 1001.45h-3.6M83.5 1007.87h3.6M394.3 1007.87h-3.6M83.5 1014.28h6.8M394.3 1014.28h-6.8M83.5 1020.69h3.6M394.3 1020.69h-3.6M83.5 1027.11h3.6M394.3 1027.11h-3.6M83.5 1033.52h3.6M394.3 1033.52h-3.6M83.5 1039.94h3.6M394.3 1039.94h-3.6M83.5 1046.35h3.6M394.3 1046.35h-3.6M83.5 1052.76h3.6M394.3 1052.76h-3.6M83.5 1059.18h3.6M394.3 1059.18h-3.6M83.5 1065.59h3.6M394.3 1065.59h-3.6M83.5 1072.01h3.6M394.3 1072.01h-3.6M83.5 1078.42h6.8M394.3 1078.42h-6.8M83.5 1084.83h3.6M394.3 1084.83h-3.6M83.5 1091.25h3.6M394.3 1091.25h-3.6M83.5 1097.66h3.6M394.3 1097.66h-3.6M83.5 1104.08h3.6M394.3 1104.08h-3.6M83.5 1110.49h3.6M394.3 1110.49h-3.6M83.5 1116.90h3.6M394.3 1116.90h-3.6M83.5 1123.32h3.6M394.3 1123.32h-3.6M83.5 1129.73h3.6M394.3 1129.73h-3.6M83.5 1136.15h3.6M394.3 1136.15h-3.6M83.5 1142.56h6.8M394.3 1142.56h-6.8M83.5 1148.97h3.6M394.3 1148.97h-3.6M83.5 1155.39h3.6M394.3 1155.39h-3.6M83.5 1161.80h3.6M394.3 1161.80h-3.6M83.5 1168.22h3.6M394.3 1168.22h-3.6M83.5 1174.63h3.6M394.3 1174.63h-3.6M83.5 1181.04h3.6M394.3 1181.04h-3.6M83.5 1187.46h3.6M394.3 1187.46h-3.6M83.5 1193.87h3.6M394.3 1193.87h-3.6M83.5 1200.29h3.6M394.3 1200.29h-3.6M83.5 1206.70h6.8M394.3 1206.70h-6.8M454.3 886.00h6.8M454.3 896.69h3.6M454.3 907.38h3.6M454.3 918.07h3.6M454.3 928.76h3.6M454.3 939.45h6.8M454.3 950.14h3.6M454.3 960.83h3.6M454.3 971.52h3.6M454.3 982.21h3.6M454.3 992.90h6.8M454.3 1003.59h3.6M454.3 1014.28h3.6M454.3 1024.97h3.6M454.3 1035.66h3.6M454.3 1046.35h6.8M454.3 1057.04h3.6M454.3 1067.73h3.6M454.3 1078.42h3.6M454.3 1089.11h3.6M454.3 1099.80h6.8M454.3 1110.49h3.6M454.3 1121.18h3.6M454.3 1131.87h3.6M454.3 1142.56h3.6M454.3 1153.25h6.8M454.3 1163.94h3.6M454.3 1174.63h3.6M454.3 1185.32h3.6M454.3 1196.01h3.6M454.3 1206.70h6.8M765.1 886.00h-6.8M765.1 886.00h6.8M765.1 896.69h-3.6M765.1 896.69h3.6M765.1 907.38h-3.6M765.1 907.38h3.6M765.1 918.07h-3.6M765.1 918.07h3.6M765.1 928.76h-3.6M765.1 928.76h3.6M765.1 939.45h-6.8M765.1 939.45h6.8M765.1 950.14h-3.6M765.1 950.14h3.6M765.1 960.83h-3.6M765.1 960.83h3.6M765.1 971.52h-3.6M765.1 971.52h3.6M765.1 982.21h-3.6M765.1 982.21h3.6M765.1 992.90h-6.8M765.1 992.90h6.8M765.1 1003.59h-3.6M765.1 1003.59h3.6M765.1 1014.28h-3.6M765.1 1014.28h3.6M765.1 1024.97h-3.6M765.1 1024.97h3.6M765.1 1035.66h-3.6M765.1 1035.66h3.6M765.1 1046.35h-6.8M765.1 1046.35h6.8M765.1 1057.04h-3.6M765.1 1057.04h3.6M765.1 1067.73h-3.6M765.1 1067.73h3.6M765.1 1078.42h-3.6M765.1 1078.42h3.6M765.1 1089.11h-3.6M765.1 1089.11h3.6M765.1 1099.80h-6.8M765.1 1099.80h6.8M765.1 1110.49h-3.6M765.1 1110.49h3.6M765.1 1121.18h-3.6M765.1 1121.18h3.6M765.1 1131.87h-3.6M765.1 1131.87h3.6M765.1 1142.56h-3.6M765.1 1142.56h3.6M765.1 1153.25h-6.8M765.1 1153.25h6.8M765.1 1163.94h-3.6M765.1 1163.94h3.6M765.1 1174.63h-3.6M765.1 1174.63h3.6M765.1 1185.32h-3.6M765.1 1185.32h3.6M765.1 1196.01h-3.6M765.1 1196.01h3.6M765.1 1206.70h-6.8M765.1 1206.70h6.8M1075.9 886.00h-6.8M1075.9 896.69h-3.6M1075.9 907.38h-3.6M1075.9 918.07h-3.6M1075.9 928.76h-3.6M1075.9 939.45h-6.8M1075.9 950.14h-3.6M1075.9 960.83h-3.6M1075.9 971.52h-3.6M1075.9 982.21h-3.6M1075.9 992.90h-6.8M1075.9 1003.59h-3.6M1075.9 1014.28h-3.6M1075.9 1024.97h-3.6M1075.9 1035.66h-3.6M1075.9 1046.35h-6.8M1075.9 1057.04h-3.6M1075.9 1067.73h-3.6M1075.9 1078.42h-3.6M1075.9 1089.11h-3.6M1075.9 1099.80h-6.8M1075.9 1110.49h-3.6M1075.9 1121.18h-3.6M1075.9 1131.87h-3.6M1075.9 1142.56h-3.6M1075.9 1153.25h-6.8M1075.9 1163.94h-3.6M1075.9 1174.63h-3.6M1075.9 1185.32h-3.6M1075.9 1196.01h-3.6M1075.9 1206.70h-6.8M83.50 879.2v13.6M83.50 1206.7v-6.8M93.86 882.4v7.2M93.86 1206.7v-3.6M104.22 882.4v7.2M104.22 1206.7v-3.6M114.58 882.4v7.2M114.58 1206.7v-3.6M124.94 882.4v7.2M124.94 1206.7v-3.6M135.30 879.2v13.6M135.30 1206.7v-6.8M145.66 882.4v7.2M145.66 1206.7v-3.6M156.02 882.4v7.2M156.02 1206.7v-3.6M166.38 882.4v7.2M166.38 1206.7v-3.6M176.74 882.4v7.2M176.74 1206.7v-3.6M187.10 879.2v13.6M187.10 1206.7v-6.8M197.46 882.4v7.2M197.46 1206.7v-3.6M207.82 882.4v7.2M207.82 1206.7v-3.6M218.18 882.4v7.2M218.18 1206.7v-3.6M228.54 882.4v7.2M228.54 1206.7v-3.6M238.90 879.2v13.6M238.90 1206.7v-6.8M249.26 882.4v7.2M249.26 1206.7v-3.6M259.62 882.4v7.2M259.62 1206.7v-3.6M269.98 882.4v7.2M269.98 1206.7v-3.6M280.34 882.4v7.2M280.34 1206.7v-3.6M290.70 879.2v13.6M290.70 1206.7v-6.8M301.06 882.4v7.2M301.06 1206.7v-3.6M311.42 882.4v7.2M311.42 1206.7v-3.6M321.78 882.4v7.2M321.78 1206.7v-3.6M332.14 882.4v7.2M332.14 1206.7v-3.6M342.50 879.2v13.6M342.50 1206.7v-6.8M352.86 882.4v7.2M352.86 1206.7v-3.6M363.22 882.4v7.2M363.22 1206.7v-3.6M373.58 882.4v7.2M373.58 1206.7v-3.6M383.94 882.4v7.2M383.94 1206.7v-3.6M394.30 879.2v13.6M394.30 1206.7v-6.8M454.30 879.2v13.6M454.30 1206.7v-6.8M464.66 882.4v7.2M464.66 1206.7v-3.6M475.02 882.4v7.2M475.02 1206.7v-3.6M485.38 882.4v7.2M485.38 1206.7v-3.6M495.74 882.4v7.2M495.74 1206.7v-3.6M506.10 879.2v13.6M506.10 1206.7v-6.8M516.46 882.4v7.2M516.46 1206.7v-3.6M526.82 882.4v7.2M526.82 1206.7v-3.6M537.18 882.4v7.2M537.18 1206.7v-3.6M547.54 882.4v7.2M547.54 1206.7v-3.6M557.90 879.2v13.6M557.90 1206.7v-6.8M568.26 882.4v7.2M568.26 1206.7v-3.6M578.62 882.4v7.2M578.62 1206.7v-3.6M588.98 882.4v7.2M588.98 1206.7v-3.6M599.34 882.4v7.2M599.34 1206.7v-3.6M609.70 879.2v13.6M609.70 1206.7v-6.8M620.06 882.4v7.2M620.06 1206.7v-3.6M630.42 882.4v7.2M630.42 1206.7v-3.6M640.78 882.4v7.2M640.78 1206.7v-3.6M651.14 882.4v7.2M651.14 1206.7v-3.6M661.50 879.2v13.6M661.50 1206.7v-6.8M671.86 882.4v7.2M671.86 1206.7v-3.6M682.22 882.4v7.2M682.22 1206.7v-3.6M692.58 882.4v7.2M692.58 1206.7v-3.6M702.94 882.4v7.2M702.94 1206.7v-3.6M713.30 879.2v13.6M713.30 1206.7v-6.8M723.66 882.4v7.2M723.66 1206.7v-3.6M734.02 882.4v7.2M734.02 1206.7v-3.6M744.38 882.4v7.2M744.38 1206.7v-3.6M754.74 882.4v7.2M754.74 1206.7v-3.6M765.10 879.2v13.6M765.10 1206.7v-6.8M765.10 879.2v13.6M765.10 1206.7v-6.8M775.46 882.4v7.2M775.46 1206.7v-3.6M785.82 882.4v7.2M785.82 1206.7v-3.6M796.18 882.4v7.2M796.18 1206.7v-3.6M806.54 882.4v7.2M806.54 1206.7v-3.6M816.90 879.2v13.6M816.90 1206.7v-6.8M827.26 882.4v7.2M827.26 1206.7v-3.6M837.62 882.4v7.2M837.62 1206.7v-3.6M847.98 882.4v7.2M847.98 1206.7v-3.6M858.34 882.4v7.2M858.34 1206.7v-3.6M868.70 879.2v13.6M868.70 1206.7v-6.8M879.06 882.4v7.2M879.06 1206.7v-3.6M889.42 882.4v7.2M889.42 1206.7v-3.6M899.78 882.4v7.2M899.78 1206.7v-3.6M910.14 882.4v7.2M910.14 1206.7v-3.6M920.50 879.2v13.6M920.50 1206.7v-6.8M930.86 882.4v7.2M930.86 1206.7v-3.6M941.22 882.4v7.2M941.22 1206.7v-3.6M951.58 882.4v7.2M951.58 1206.7v-3.6M961.94 882.4v7.2M961.94 1206.7v-3.6M972.30 879.2v13.6M972.30 1206.7v-6.8M982.66 882.4v7.2M982.66 1206.7v-3.6M993.02 882.4v7.2M993.02 1206.7v-3.6M1003.38 882.4v7.2M1003.38 1206.7v-3.6M1013.74 882.4v7.2M1013.74 1206.7v-3.6M1024.10 879.2v13.6M1024.10 1206.7v-6.8M1034.46 882.4v7.2M1034.46 1206.7v-3.6M1044.82 882.4v7.2M1044.82 1206.7v-3.6M1055.18 882.4v7.2M1055.18 1206.7v-3.6M1065.54 882.4v7.2M1065.54 1206.7v-3.6M1075.90 879.2v13.6M1075.90 1206.7v-6.8" stroke="#000" stroke-width="1.6" fill="none"/>
<path d="M83.5 244.5h310.8v320.7h-310.8zM454.3 244.5h621.6v320.7h-621.6zM765.1 244.5v320.7M83.5 565.2h310.8v320.7h-310.8zM454.3 565.2h621.6v320.7h-621.6zM765.1 565.2v320.7M83.5 886.0h310.8v320.7h-310.8zM454.3 886.0h621.6v320.7h-621.6zM765.1 886.0v320.7" stroke="#000" stroke-width="2.1" fill="none"/>
<text x="598.1" y="32.8" font-size="28.3" text-anchor="middle" >Left and center columns: #/deg<tspan font-size="17.8" dy="-11">2</tspan><tspan dy="11">/bin</tspan></text>
<text x="82.6" y="65.7" font-size="28.3" text-anchor="middle" >0.00</text>
<text x="331.4" y="65.7" font-size="28.3" text-anchor="middle" >0.01</text>
<text x="580.1" y="65.7" font-size="28.3" text-anchor="middle" >0.03</text>
<text x="828.9" y="65.7" font-size="28.3" text-anchor="middle" >0.04</text>
<text x="1077.6" y="65.7" font-size="28.3" text-anchor="middle" >0.05</text>
<text x="82.6" y="150" font-size="28.3" text-anchor="middle" >13.5</text>
<text x="414.3" y="150" font-size="28.3" text-anchor="middle" >12.5</text>
<text x="745.9" y="150" font-size="28.3" text-anchor="middle" >11.5</text>
<text x="1077.6" y="150" font-size="28.3" text-anchor="middle" >10.5</text>
<text x="452.4" y="182.1" font-size="28.3">Right column: &lt;t<tspan font-size="18.0" dy="6.8">NVSS</tspan><tspan dy="-6.8">&gt;</tspan></text>
<text x="170.0" y="232.7" font-size="28">t<tspan font-size="17.8" dy="6.7">NVSS</tspan><tspan dy="-6.7"> vs.</tspan></text>
<text transform="translate(268.4,232.7) scale(1.12,1)" font-size="30.8">α</text><text x="286.3" y="220.5" font-size="17.6">92</text><text x="286.3" y="239.3" font-size="17.6">20</text>
<text transform="translate(542.7,232.7) scale(1.12,1)" font-size="30.8">α</text><text x="560.6" y="220.5" font-size="17.6">20</text><text x="560.6" y="239.3" font-size="17.6">6</text>
<text x="587.5" y="232.7" font-size="28" text-anchor="start" >vs.</text>
<text transform="translate(624.9,232.7) scale(1.12,1)" font-size="30.8">α</text><text x="642.8" y="220.5" font-size="17.6">92</text><text x="642.8" y="239.3" font-size="17.6">20</text>
<text x="879.5" y="232.7" font-size="27.6">&lt;t<tspan font-size="17.5" dy="6.6">NVSS</tspan><tspan dy="-6.6">&gt;</tspan></text>
<text x="77" y="258.0" font-size="23" text-anchor="end" >9</text>
<text x="77" y="316.6" font-size="23" text-anchor="end" >10</text>
<text x="77" y="380.8" font-size="23" text-anchor="end" >11</text>
<text x="77" y="444.9" font-size="23" text-anchor="end" >12</text>
<text x="77" y="509.1" font-size="23" text-anchor="end" >13</text>
<text x="1083" y="258.0" font-size="23" text-anchor="start" >−2.0</text>
<text x="1083" y="305.9" font-size="23" text-anchor="start" >−1.5</text>
<text x="1083" y="359.4" font-size="23" text-anchor="start" >−1.0</text>
<text x="1083" y="412.9" font-size="23" text-anchor="start" >−0.5</text>
<text x="1083.6" y="466.3" font-size="23" text-anchor="start" >0.0</text>
<text x="1083.6" y="519.8" font-size="23" text-anchor="start" >0.5</text>
<text x="77" y="578.7" font-size="23" text-anchor="end" >9</text>
<text x="77" y="637.3" font-size="23" text-anchor="end" >10</text>
<text x="77" y="701.5" font-size="23" text-anchor="end" >11</text>
<text x="77" y="765.6" font-size="23" text-anchor="end" >12</text>
<text x="77" y="829.8" font-size="23" text-anchor="end" >13</text>
<text x="1083" y="626.7" font-size="23" text-anchor="start" >−1.5</text>
<text x="1083" y="680.1" font-size="23" text-anchor="start" >−1.0</text>
<text x="1083" y="733.6" font-size="23" text-anchor="start" >−0.5</text>
<text x="1083.6" y="787.0" font-size="23" text-anchor="start" >0.0</text>
<text x="1083.6" y="840.5" font-size="23" text-anchor="start" >0.5</text>
<text x="77" y="899.5" font-size="23" text-anchor="end" >9</text>
<text x="77" y="958.1" font-size="23" text-anchor="end" >10</text>
<text x="77" y="1022.3" font-size="23" text-anchor="end" >11</text>
<text x="77" y="1086.4" font-size="23" text-anchor="end" >12</text>
<text x="77" y="1150.6" font-size="23" text-anchor="end" >13</text>
<text x="77" y="1205.9" font-size="23" text-anchor="end" >14</text>
<text x="1083" y="947.5" font-size="23" text-anchor="start" >−1.5</text>
<text x="1083" y="1000.9" font-size="23" text-anchor="start" >−1.0</text>
<text x="1083" y="1054.3" font-size="23" text-anchor="start" >−0.5</text>
<text x="1083.6" y="1107.8" font-size="23" text-anchor="start" >0.0</text>
<text x="1083.6" y="1161.2" font-size="23" text-anchor="start" >0.5</text>
<text x="1083.6" y="1205.9" font-size="23" text-anchor="start" >1.0</text>
<text x="83.2" y="1234.5" font-size="23" text-anchor="middle" >1.0</text>
<text x="135.0" y="1234.5" font-size="23" text-anchor="middle" >0.5</text>
<text x="186.8" y="1234.5" font-size="23" text-anchor="middle" >0.0</text>
<text x="237.2" y="1234.5" font-size="23" text-anchor="middle" >−0.5</text>
<text x="289.0" y="1234.5" font-size="23" text-anchor="middle" >−1.0</text>
<text x="340.8" y="1234.5" font-size="23" text-anchor="middle" >−1.5</text>
<text transform="translate(223.0,1259.6) scale(1.12,1)" font-size="25.3">α</text><text x="237.9" y="1251.3" font-size="14.5">92</text><text x="237.9" y="1264.4" font-size="14.5">20</text>
<text x="505.8" y="1234.5" font-size="23" text-anchor="middle" >0.5</text>
<text x="557.6" y="1234.5" font-size="23" text-anchor="middle" >0.0</text>
<text x="608.0" y="1234.5" font-size="23" text-anchor="middle" >−0.5</text>
<text x="659.8" y="1234.5" font-size="23" text-anchor="middle" >−1.0</text>
<text x="711.6" y="1234.5" font-size="23" text-anchor="middle" >−1.5</text>
<text transform="translate(593.8,1259.6) scale(1.12,1)" font-size="25.3">α</text><text x="608.7" y="1251.3" font-size="14.5">92</text><text x="608.7" y="1264.4" font-size="14.5">20</text>
<text x="816.6" y="1234.5" font-size="23" text-anchor="middle" >0.5</text>
<text x="868.4" y="1234.5" font-size="23" text-anchor="middle" >0.0</text>
<text x="918.8" y="1234.5" font-size="23" text-anchor="middle" >−0.5</text>
<text x="970.6" y="1234.5" font-size="23" text-anchor="middle" >−1.0</text>
<text x="1022.4" y="1234.5" font-size="23" text-anchor="middle" >−1.5</text>
<text transform="translate(904.6,1259.6) scale(1.12,1)" font-size="25.3">α</text><text x="919.5" y="1251.3" font-size="14.5">92</text><text x="919.5" y="1264.4" font-size="14.5">20</text>
<text transform="translate(383,385.2) rotate(-90)" font-size="28.3">Complex</text>
<text x="475.9" y="309" font-size="28.3" text-anchor="start" >Complex</text>
<text x="786.7" y="309" font-size="28.3" text-anchor="start" >Complex</text>
<text transform="translate(383,710.8) rotate(-90)" font-size="28.3">Resolved</text>
<text x="469.9" y="608" font-size="28.3" text-anchor="start" >Resolved</text>
<text x="780.7" y="608" font-size="28.3" text-anchor="start" >Resolved</text>
<text transform="translate(383,1026.5) rotate(-90)" font-size="28.3">Compact</text>
<text x="470.6" y="917.8" font-size="28.3" text-anchor="start" >Compact</text>
<text x="781.4000000000001" y="917.8" font-size="28.3" text-anchor="start" >Compact</text>
<g transform="translate(35.3,737.8) rotate(-90)"><text x="0.0" y="0.0" font-size="33.5">t<tspan font-size="21.3" dy="8.0">NVSS</tspan><tspan dy="-8.0"></tspan></text></g>
<g transform="translate(443.2,721) rotate(-90)"><text transform="translate(-1.1,0.0) scale(1.12,1)" font-size="27.5">α</text><text x="15.0" y="-10.9" font-size="15.8">20</text><text x="15.0" y="5.9" font-size="15.8">6</text></g>
<g transform="translate(1162.3,903.1) rotate(-90)"><text transform="translate(-1.1,0.0) scale(1.12,1)" font-size="32.5">α</text><text x="17.7" y="-12.8" font-size="18.6">20</text><text x="17.7" y="6.9" font-size="18.6">6</text><text x="43" y="0" font-size="28.7">(center and right columns)</text></g>
</svg></body></html>
